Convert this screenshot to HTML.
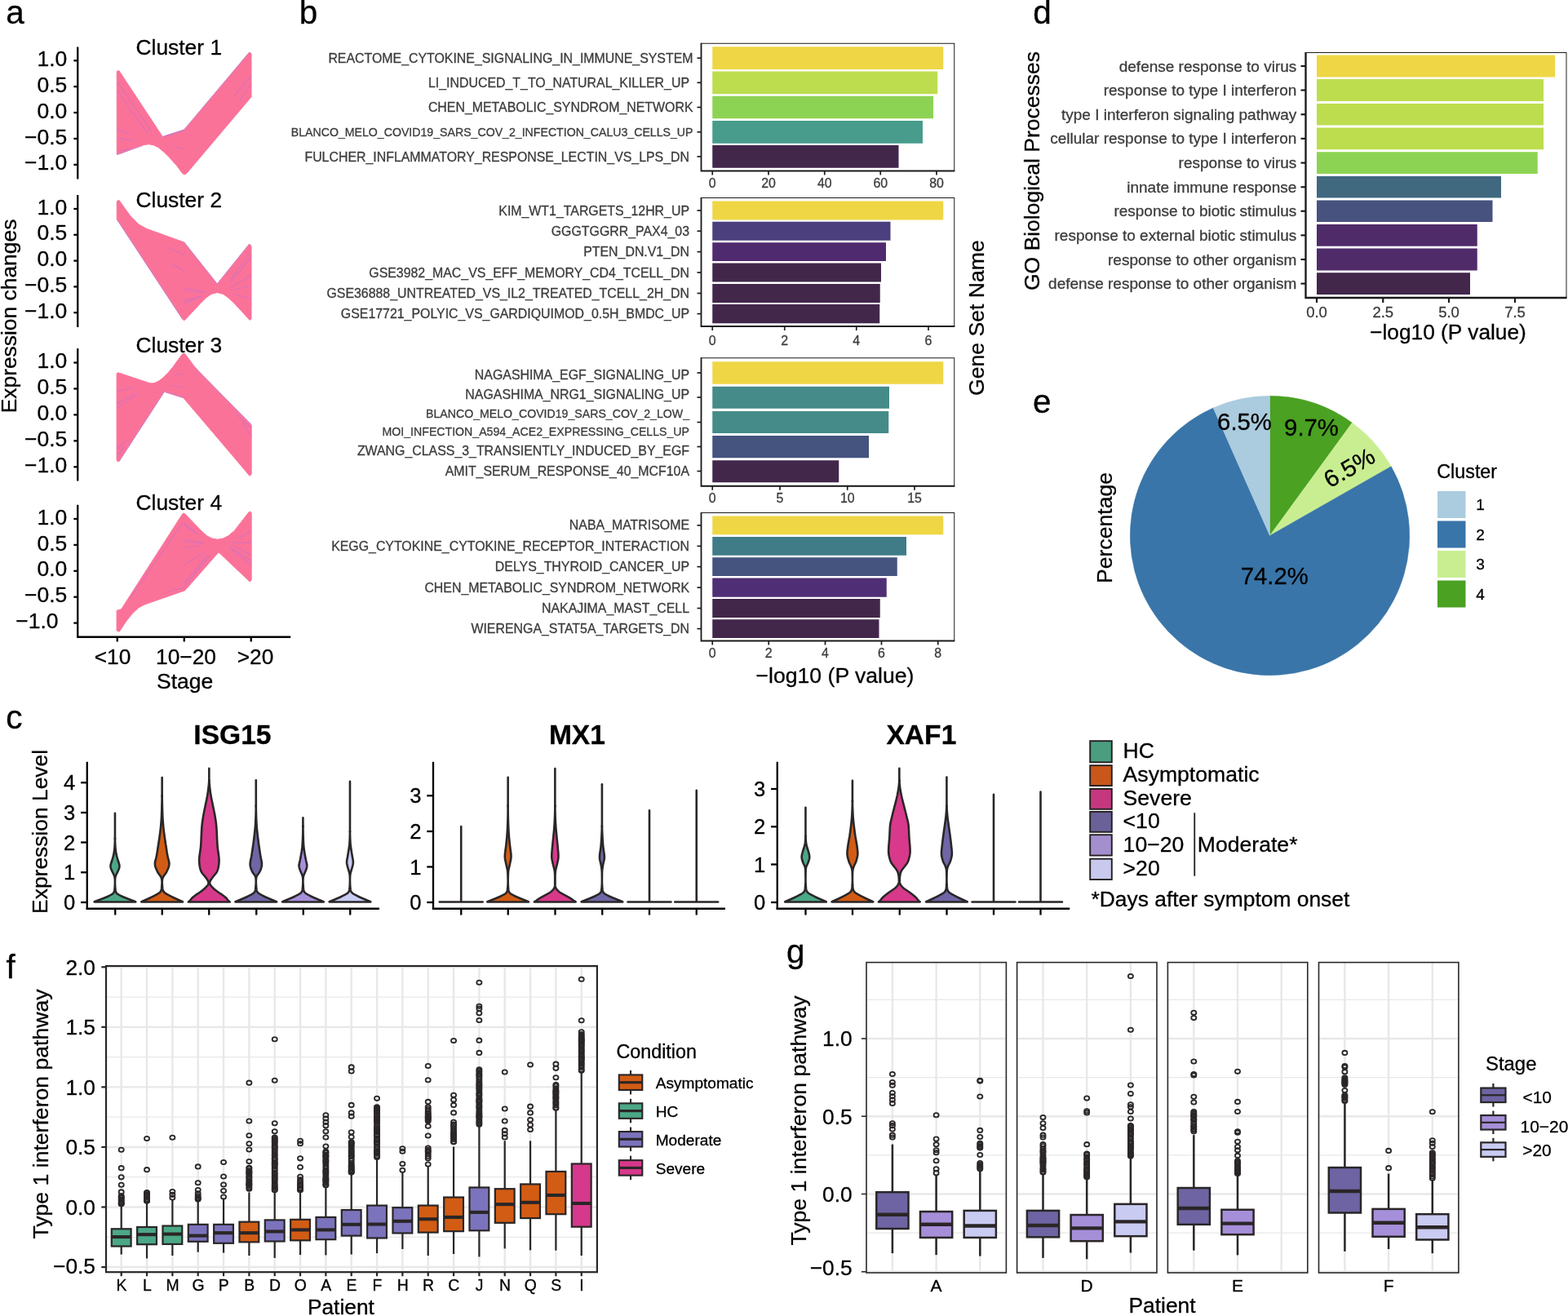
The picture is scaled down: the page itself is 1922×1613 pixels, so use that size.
<!DOCTYPE html>
<html lang="en">
<head>
<meta charset="utf-8">
<title>Figure: expression clusters, gene set enrichment and type 1 interferon pathway</title>
<style>
html,body{margin:0;padding:0;background:#fff;}
body{width:1922px;height:1613px;overflow:hidden;}
svg{display:block;font-family:"Liberation Sans",sans-serif;}
text{stroke:#000;stroke-width:0.3px;stroke-linejoin:round;}
text[fill="#3c3c3c"]{stroke:#3c3c3c;}
</style>
</head>
<body>
<svg width="1922" height="1613" viewBox="0 0 1922 1613">
<rect width="1922" height="1613" fill="#fff"/>
<g id="panel-a">
<text x="7.3" y="29.2" font-size="40.5">a</text>
<text x="19.8" y="387.5" font-size="26.4" text-anchor="middle" transform="rotate(-90 19.8 387.5)">Expression changes</text>
<line x1="95.25" y1="57.5" x2="95.25" y2="219.5" stroke="#000" stroke-width="2.3"/>
<line x1="90.35" y1="74.25" x2="95.25" y2="74.25" stroke="#000" stroke-width="2.3"/>
<text x="82.3" y="80.85" font-size="26.5" text-anchor="end">1.0</text>
<line x1="90.35" y1="106.15" x2="95.25" y2="106.15" stroke="#000" stroke-width="2.3"/>
<text x="82.3" y="112.75" font-size="26.5" text-anchor="end">0.5</text>
<line x1="90.35" y1="138.05" x2="95.25" y2="138.05" stroke="#000" stroke-width="2.3"/>
<text x="82.3" y="144.65" font-size="26.5" text-anchor="end">0.0</text>
<line x1="90.35" y1="169.95" x2="95.25" y2="169.95" stroke="#000" stroke-width="2.3"/>
<text x="82.3" y="176.55" font-size="26.5" text-anchor="end">−0.5</text>
<line x1="90.35" y1="201.85" x2="95.25" y2="201.85" stroke="#000" stroke-width="2.3"/>
<text x="82.3" y="208.45" font-size="26.5" text-anchor="end">−1.0</text>
<text x="219.3" y="66.5" font-size="26.4" text-anchor="middle">Cluster 1</text>
<line x1="95.25" y1="239" x2="95.25" y2="401" stroke="#000" stroke-width="2.3"/>
<line x1="90.35" y1="256" x2="95.25" y2="256" stroke="#000" stroke-width="2.3"/>
<text x="82.3" y="262.6" font-size="26.5" text-anchor="end">1.0</text>
<line x1="90.35" y1="287.8" x2="95.25" y2="287.8" stroke="#000" stroke-width="2.3"/>
<text x="82.3" y="294.4" font-size="26.5" text-anchor="end">0.5</text>
<line x1="90.35" y1="319.6" x2="95.25" y2="319.6" stroke="#000" stroke-width="2.3"/>
<text x="82.3" y="326.2" font-size="26.5" text-anchor="end">0.0</text>
<line x1="90.35" y1="351.4" x2="95.25" y2="351.4" stroke="#000" stroke-width="2.3"/>
<text x="82.3" y="358" font-size="26.5" text-anchor="end">−0.5</text>
<line x1="90.35" y1="383.2" x2="95.25" y2="383.2" stroke="#000" stroke-width="2.3"/>
<text x="82.3" y="389.8" font-size="26.5" text-anchor="end">−1.0</text>
<text x="219.3" y="253.5" font-size="26.4" text-anchor="middle">Cluster 2</text>
<line x1="95.25" y1="427" x2="95.25" y2="589.5" stroke="#000" stroke-width="2.3"/>
<line x1="90.35" y1="444.5" x2="95.25" y2="444.5" stroke="#000" stroke-width="2.3"/>
<text x="82.3" y="451.1" font-size="26.5" text-anchor="end">1.0</text>
<line x1="90.35" y1="476.45" x2="95.25" y2="476.45" stroke="#000" stroke-width="2.3"/>
<text x="82.3" y="483.05" font-size="26.5" text-anchor="end">0.5</text>
<line x1="90.35" y1="508.4" x2="95.25" y2="508.4" stroke="#000" stroke-width="2.3"/>
<text x="82.3" y="515" font-size="26.5" text-anchor="end">0.0</text>
<line x1="90.35" y1="540.35" x2="95.25" y2="540.35" stroke="#000" stroke-width="2.3"/>
<text x="82.3" y="546.95" font-size="26.5" text-anchor="end">−0.5</text>
<line x1="90.35" y1="572.3" x2="95.25" y2="572.3" stroke="#000" stroke-width="2.3"/>
<text x="82.3" y="578.9" font-size="26.5" text-anchor="end">−1.0</text>
<text x="219.3" y="431.5" font-size="26.4" text-anchor="middle">Cluster 3</text>
<line x1="95.25" y1="618.75" x2="95.25" y2="780.75" stroke="#000" stroke-width="2.3"/>
<line x1="90.35" y1="636" x2="95.25" y2="636" stroke="#000" stroke-width="2.3"/>
<text x="82.3" y="642.6" font-size="26.5" text-anchor="end">1.0</text>
<line x1="90.35" y1="667.9" x2="95.25" y2="667.9" stroke="#000" stroke-width="2.3"/>
<text x="82.3" y="674.5" font-size="26.5" text-anchor="end">0.5</text>
<line x1="90.35" y1="699.8" x2="95.25" y2="699.8" stroke="#000" stroke-width="2.3"/>
<text x="82.3" y="706.4" font-size="26.5" text-anchor="end">0.0</text>
<line x1="90.35" y1="731.7" x2="95.25" y2="731.7" stroke="#000" stroke-width="2.3"/>
<text x="82.3" y="738.3" font-size="26.5" text-anchor="end">−0.5</text>
<line x1="90.35" y1="763.6" x2="95.25" y2="763.6" stroke="#000" stroke-width="2.3"/>
<text x="71.6" y="770.2" font-size="26.5" text-anchor="end">−1.0</text>
<text x="219.3" y="625" font-size="26.4" text-anchor="middle">Cluster 4</text>
<line x1="94.1" y1="780.75" x2="356.25" y2="780.75" stroke="#000" stroke-width="2.3"/>
<line x1="143.75" y1="780.75" x2="143.75" y2="786.5" stroke="#000" stroke-width="2.3"/>
<line x1="225.75" y1="780.75" x2="225.75" y2="786.5" stroke="#000" stroke-width="2.3"/>
<line x1="307.75" y1="780.75" x2="307.75" y2="786.5" stroke="#000" stroke-width="2.3"/>
<text x="138" y="813.9" font-size="26.3" text-anchor="middle">&lt;10</text>
<text x="228" y="813.9" font-size="26.3" text-anchor="middle">10−20</text>
<text x="313" y="813.9" font-size="26.3" text-anchor="middle">&gt;20</text>
<text x="226.7" y="844.2" font-size="26.5" text-anchor="middle">Stage</text>
<g fill="#fb7299" stroke="#fb7299" stroke-width="1" stroke-linejoin="round">
<polygon points="143.25,87.5 145.75,86.5 199.25,167.5 225.75,159 305.5,64.25 308,65.5 308,118.75 228.75,212.5 225.75,214 223.25,212 217.25,203.75 211.5,197.25 206,191.25 200,185.5 194.25,180.75 188.75,178 183,176.75 178,177.25 172.5,178.75 146.25,188.75 143.25,189.25"/>
<polygon points="143.25,246.75 145.75,245.25 160,265 170,275 180,280.5 225.75,297 266.25,348 305.5,299.25 308,301.25 308,390.5 306.25,392.5 287.5,372 280,365 273.75,360.5 266.25,358.5 258.75,360.5 252.5,365 245,372.5 227.5,391.25 225.75,392.75 223.75,391.25 143.25,268.75"/>
<polygon points="143.08,457.83 144.96,456.83 174.93,466.82 182.42,469.32 186.16,469.94 189.91,469.32 194.91,466.82 199.9,463.07 206.14,456.83 212.39,449.34 218.63,440.59 223.63,433.98 225.25,432.98 226.87,433.98 232.37,441.22 237.36,448.09 243.61,454.96 307.29,519.89 308.17,521.14 308.17,581.33 306.04,583.33 287.31,561.1 224.88,487.67 201.4,480.18 145.58,565.84 143.08,564.6"/>
<polygon points="143.08,748.35 148.7,746.73 223.63,629.97 225.25,628.97 226.87,629.97 247.35,651.2 253.6,656.82 259.84,659.94 266.71,661.19 273.58,659.94 279.82,656.82 287.31,650.57 304.8,628.1 306.04,626.85 308.17,628.47 308.17,710.51 306.29,713.01 267.96,676.8 226.75,723.63 177.42,740.86 169.93,744.86 162.44,751.72 154.95,761.09 146.2,774.2 143.08,772.95"/>
</g>
<g stroke="#d070c0" stroke-width="1.2" opacity="0.75" fill="none">
<polyline points="143.75,100 185,160"/>
<polyline points="143.75,111.25 180,162.5"/>
<polyline points="143.75,158 160,165"/>
<polyline points="143.75,168.75 162.5,172.5"/>
<polyline points="143.75,186.25 160,181.25"/>
<polyline points="202.5,167.5 225.75,160"/>
<polyline points="212.5,179.5 225.75,182.5"/>
<polyline points="287.5,117.5 308,92.5"/>
<polyline points="292.5,125 308,102.5"/>
<polyline points="225.75,352.5 250,357.5"/>
<polyline points="225.75,355.5 252.5,359"/>
<polyline points="225.75,370.5 245,363"/>
<polyline points="225.75,372.5 247.5,362.5"/>
<polyline points="225.75,367 240,365.5"/>
<polyline points="308,307.5 282.5,342.5"/>
<polyline points="308,315 282.5,346.25"/>
<polyline points="308,337.5 282.5,352.5"/>
<polyline points="308,366.25 285,360"/>
<polyline points="308,350 287.5,355"/>
<polyline points="205,302.5 225.75,312.5"/>
<polyline points="210,322.5 225.75,332.5"/>
<polyline points="143.75,500 170,482.5"/>
<polyline points="143.75,495 165,482.5"/>
<polyline points="143.75,480 162.5,475"/>
<polyline points="143.75,550 155,540"/>
<polyline points="143.75,557.5 152.5,547.5"/>
<polyline points="308,525 290,507.5"/>
<polyline points="308,535 297.5,517.5"/>
<polyline points="212.5,460 225.75,458"/>
<polyline points="210,472.5 225.75,475"/>
<polyline points="225.75,641.25 240,652.5"/>
<polyline points="225.75,643.75 242.5,655"/>
<polyline points="225.75,661.25 250,665"/>
<polyline points="225.75,663.75 250,666.5"/>
<polyline points="225.75,671.25 247.5,668"/>
<polyline points="225.75,692.5 250,677.5"/>
<polyline points="225.75,715 255,680"/>
<polyline points="225.75,718.75 257.5,681.25"/>
<polyline points="205,725 225.75,720.5"/>
<polyline points="308,687.5 282.5,671.25"/>
<polyline points="308,692.5 282.5,673"/>
<polyline points="308,680 285,668.75"/>
<polyline points="308,665 285,665"/>
<polyline points="308,650 292.5,660"/>
<polyline points="160,732.5 223.75,641.25"/>
</g>
<g stroke="#a98be0" stroke-width="0.8" fill="none" opacity="0.8">
<polyline points="199.25,167.5 225.75,159 305.5,64.25"/>
<polyline points="143.25,189.25 175,178.75"/>
<polyline points="225.75,297 266.25,348 305.5,299.25"/>
<polyline points="143.25,268.75 223.75,391.25"/>
<polyline points="146.25,565.5 201.25,480 225.75,487.5"/>
<polyline points="240,452.5 308,520"/>
</g>
</g>
<g id="panel-b">
<text x="366.7" y="29.2" font-size="40.5">b</text>
<rect x="873.25" y="57.25" width="283" height="27.75" fill="#efd645"/>
<rect x="873.25" y="87.5" width="276" height="27.75" fill="#bddd4f"/>
<rect x="873.25" y="117.75" width="270.75" height="27.5" fill="#8dd353"/>
<rect x="873.25" y="148" width="257.75" height="27.75" fill="#479c8b"/>
<rect x="873.25" y="178" width="228.25" height="27.75" fill="#42274b"/>
<rect x="859.5" y="53.25" width="310.25" height="156.25" fill="none" stroke="#1a1a1a" stroke-width="1"/>
<path d="M859.5,52.75 L859.5,209.5 L1170.25,209.5" fill="none" stroke="#1a1a1a" stroke-width="1.82"/>
<line x1="873.25" y1="209.5" x2="873.25" y2="214.5" stroke="#1a1a1a" stroke-width="1.68"/>
<text x="873.25" y="230" font-size="15.9" text-anchor="middle" fill="#3c3c3c">0</text>
<line x1="942" y1="209.5" x2="942" y2="214.5" stroke="#1a1a1a" stroke-width="1.68"/>
<text x="942" y="230" font-size="15.9" text-anchor="middle" fill="#3c3c3c">20</text>
<line x1="1010.75" y1="209.5" x2="1010.75" y2="214.5" stroke="#1a1a1a" stroke-width="1.68"/>
<text x="1010.75" y="230" font-size="15.9" text-anchor="middle" fill="#3c3c3c">40</text>
<line x1="1079.25" y1="209.5" x2="1079.25" y2="214.5" stroke="#1a1a1a" stroke-width="1.68"/>
<text x="1079.25" y="230" font-size="15.9" text-anchor="middle" fill="#3c3c3c">60</text>
<line x1="1148" y1="209.5" x2="1148" y2="214.5" stroke="#1a1a1a" stroke-width="1.68"/>
<text x="1148" y="230" font-size="15.9" text-anchor="middle" fill="#3c3c3c">80</text>
<line x1="854.5" y1="71.2" x2="859.5" y2="71.2" stroke="#1a1a1a" stroke-width="1.68"/>
<text x="849.5" y="76.8" font-size="15.9" text-anchor="end" fill="#3c3c3c">REACTOME_CYTOKINE_SIGNALING_IN_IMMUNE_SYSTEM</text>
<line x1="854.5" y1="101.3" x2="859.5" y2="101.3" stroke="#1a1a1a" stroke-width="1.68"/>
<text x="845" y="106.9" font-size="15.9" text-anchor="end" fill="#3c3c3c">LI_INDUCED_T_TO_NATURAL_KILLER_UP</text>
<line x1="854.5" y1="131.5" x2="859.5" y2="131.5" stroke="#1a1a1a" stroke-width="1.68"/>
<text x="849.5" y="137.1" font-size="15.9" text-anchor="end" fill="#3c3c3c">CHEN_METABOLIC_SYNDROM_NETWORK</text>
<line x1="854.5" y1="161.8" x2="859.5" y2="161.8" stroke="#1a1a1a" stroke-width="1.68"/>
<text x="849.5" y="166.78" font-size="14.15" text-anchor="end" fill="#3c3c3c">BLANCO_MELO_COVID19_SARS_COV_2_INFECTION_CALU3_CELLS_UP</text>
<line x1="854.5" y1="191.9" x2="859.5" y2="191.9" stroke="#1a1a1a" stroke-width="1.68"/>
<text x="845" y="197.5" font-size="15.9" text-anchor="end" fill="#3c3c3c">FULCHER_INFLAMMATORY_RESPONSE_LECTIN_VS_LPS_DN</text>
<rect x="873.25" y="246.5" width="283" height="23" fill="#efd645"/>
<rect x="873.25" y="271.75" width="218.25" height="23" fill="#4c3f7e"/>
<rect x="873.25" y="297.25" width="212.75" height="22.75" fill="#502a6f"/>
<rect x="873.25" y="322.5" width="206.75" height="23" fill="#42274b"/>
<rect x="873.25" y="348" width="205.5" height="23" fill="#42274b"/>
<rect x="873.25" y="373" width="205" height="23.25" fill="#42274b"/>
<rect x="859.5" y="242.5" width="310.25" height="157.5" fill="none" stroke="#1a1a1a" stroke-width="1"/>
<path d="M859.5,242 L859.5,400 L1170.25,400" fill="none" stroke="#1a1a1a" stroke-width="1.82"/>
<line x1="873.25" y1="400" x2="873.25" y2="405" stroke="#1a1a1a" stroke-width="1.68"/>
<text x="873.25" y="422.5" font-size="15.9" text-anchor="middle" fill="#3c3c3c">0</text>
<line x1="961.75" y1="400" x2="961.75" y2="405" stroke="#1a1a1a" stroke-width="1.68"/>
<text x="961.75" y="422.5" font-size="15.9" text-anchor="middle" fill="#3c3c3c">2</text>
<line x1="1049.75" y1="400" x2="1049.75" y2="405" stroke="#1a1a1a" stroke-width="1.68"/>
<text x="1049.75" y="422.5" font-size="15.9" text-anchor="middle" fill="#3c3c3c">4</text>
<line x1="1138" y1="400" x2="1138" y2="405" stroke="#1a1a1a" stroke-width="1.68"/>
<text x="1138" y="422.5" font-size="15.9" text-anchor="middle" fill="#3c3c3c">6</text>
<line x1="854.5" y1="258" x2="859.5" y2="258" stroke="#1a1a1a" stroke-width="1.68"/>
<text x="845" y="263.6" font-size="15.9" text-anchor="end" fill="#3c3c3c">KIM_WT1_TARGETS_12HR_UP</text>
<line x1="854.5" y1="283.25" x2="859.5" y2="283.25" stroke="#1a1a1a" stroke-width="1.68"/>
<text x="845" y="288.85" font-size="15.9" text-anchor="end" fill="#3c3c3c">GGGTGGRR_PAX4_03</text>
<line x1="854.5" y1="308.62" x2="859.5" y2="308.62" stroke="#1a1a1a" stroke-width="1.68"/>
<text x="845" y="314.23" font-size="15.9" text-anchor="end" fill="#3c3c3c">PTEN_DN.V1_DN</text>
<line x1="854.5" y1="334" x2="859.5" y2="334" stroke="#1a1a1a" stroke-width="1.68"/>
<text x="845" y="339.6" font-size="15.9" text-anchor="end" fill="#3c3c3c">GSE3982_MAC_VS_EFF_MEMORY_CD4_TCELL_DN</text>
<line x1="854.5" y1="359.5" x2="859.5" y2="359.5" stroke="#1a1a1a" stroke-width="1.68"/>
<text x="845" y="365.1" font-size="15.9" text-anchor="end" fill="#3c3c3c">GSE36888_UNTREATED_VS_IL2_TREATED_TCELL_2H_DN</text>
<line x1="854.5" y1="384.62" x2="859.5" y2="384.62" stroke="#1a1a1a" stroke-width="1.68"/>
<text x="845" y="390.23" font-size="15.9" text-anchor="end" fill="#3c3c3c">GSE17721_POLYIC_VS_GARDIQUIMOD_0.5H_BMDC_UP</text>
<rect x="873.25" y="443.25" width="283" height="27.5" fill="#efd645"/>
<rect x="873.25" y="473.75" width="216.75" height="27" fill="#458b89"/>
<rect x="873.25" y="504" width="216" height="27" fill="#458b89"/>
<rect x="873.25" y="534" width="191.75" height="27.25" fill="#45537f"/>
<rect x="873.25" y="564.25" width="155" height="27" fill="#42274b"/>
<rect x="859.5" y="438.75" width="310.25" height="157" fill="none" stroke="#1a1a1a" stroke-width="1"/>
<path d="M859.5,438.25 L859.5,595.75 L1170.25,595.75" fill="none" stroke="#1a1a1a" stroke-width="1.82"/>
<line x1="873.25" y1="595.75" x2="873.25" y2="600.75" stroke="#1a1a1a" stroke-width="1.68"/>
<text x="873.25" y="615.75" font-size="15.9" text-anchor="middle" fill="#3c3c3c">0</text>
<line x1="956" y1="595.75" x2="956" y2="600.75" stroke="#1a1a1a" stroke-width="1.68"/>
<text x="956" y="615.75" font-size="15.9" text-anchor="middle" fill="#3c3c3c">5</text>
<line x1="1038.75" y1="595.75" x2="1038.75" y2="600.75" stroke="#1a1a1a" stroke-width="1.68"/>
<text x="1038.75" y="615.75" font-size="15.9" text-anchor="middle" fill="#3c3c3c">10</text>
<line x1="1121" y1="595.75" x2="1121" y2="600.75" stroke="#1a1a1a" stroke-width="1.68"/>
<text x="1121" y="615.75" font-size="15.9" text-anchor="middle" fill="#3c3c3c">15</text>
<line x1="854.5" y1="457" x2="859.5" y2="457" stroke="#1a1a1a" stroke-width="1.68"/>
<text x="845" y="464.5" font-size="15.9" text-anchor="end" fill="#3c3c3c">NAGASHIMA_EGF_SIGNALING_UP</text>
<line x1="854.5" y1="487" x2="859.5" y2="487" stroke="#1a1a1a" stroke-width="1.68"/>
<text x="845" y="489.1" font-size="15.9" text-anchor="end" fill="#3c3c3c">NAGASHIMA_NRG1_SIGNALING_UP</text>
<line x1="854.5" y1="517.5" x2="859.5" y2="517.5" stroke="#1a1a1a" stroke-width="1.68"/>
<text x="845" y="511.68" font-size="14.15" text-anchor="end" fill="#3c3c3c">BLANCO_MELO_COVID19_SARS_COV_2_LOW_</text>
<text x="845" y="534.18" font-size="14.15" text-anchor="end" fill="#3c3c3c">MOI_INFECTION_A594_ACE2_EXPRESSING_CELLS_UP</text>
<line x1="854.5" y1="547.5" x2="859.5" y2="547.5" stroke="#1a1a1a" stroke-width="1.68"/>
<text x="845" y="557.9" font-size="15.9" text-anchor="end" fill="#3c3c3c">ZWANG_CLASS_3_TRANSIENTLY_INDUCED_BY_EGF</text>
<line x1="854.5" y1="577.5" x2="859.5" y2="577.5" stroke="#1a1a1a" stroke-width="1.68"/>
<text x="845" y="582.8" font-size="15.9" text-anchor="end" fill="#3c3c3c">AMIT_SERUM_RESPONSE_40_MCF10A</text>
<rect x="873.25" y="632.5" width="283" height="22.75" fill="#efd645"/>
<rect x="873.25" y="658" width="237.75" height="22.75" fill="#3f7c88"/>
<rect x="873.25" y="683.25" width="226.5" height="22.75" fill="#45537f"/>
<rect x="873.25" y="708.5" width="213.5" height="23.25" fill="#502e75"/>
<rect x="873.25" y="734" width="205.5" height="23" fill="#42274b"/>
<rect x="873.25" y="759.25" width="204.25" height="22.75" fill="#42274b"/>
<rect x="859.5" y="628.5" width="310.25" height="157" fill="none" stroke="#1a1a1a" stroke-width="1"/>
<path d="M859.5,628 L859.5,785.5 L1170.25,785.5" fill="none" stroke="#1a1a1a" stroke-width="1.82"/>
<line x1="873.25" y1="785.5" x2="873.25" y2="790.5" stroke="#1a1a1a" stroke-width="1.68"/>
<text x="873.25" y="805.5" font-size="15.9" text-anchor="middle" fill="#3c3c3c">0</text>
<line x1="942.25" y1="785.5" x2="942.25" y2="790.5" stroke="#1a1a1a" stroke-width="1.68"/>
<text x="942.25" y="805.5" font-size="15.9" text-anchor="middle" fill="#3c3c3c">2</text>
<line x1="1011.5" y1="785.5" x2="1011.5" y2="790.5" stroke="#1a1a1a" stroke-width="1.68"/>
<text x="1011.5" y="805.5" font-size="15.9" text-anchor="middle" fill="#3c3c3c">4</text>
<line x1="1080.5" y1="785.5" x2="1080.5" y2="790.5" stroke="#1a1a1a" stroke-width="1.68"/>
<text x="1080.5" y="805.5" font-size="15.9" text-anchor="middle" fill="#3c3c3c">6</text>
<line x1="1149.75" y1="785.5" x2="1149.75" y2="790.5" stroke="#1a1a1a" stroke-width="1.68"/>
<text x="1149.75" y="805.5" font-size="15.9" text-anchor="middle" fill="#3c3c3c">8</text>
<line x1="854.5" y1="643.88" x2="859.5" y2="643.88" stroke="#1a1a1a" stroke-width="1.68"/>
<text x="845" y="649.48" font-size="15.9" text-anchor="end" fill="#3c3c3c">NABA_MATRISOME</text>
<line x1="854.5" y1="669.38" x2="859.5" y2="669.38" stroke="#1a1a1a" stroke-width="1.68"/>
<text x="845" y="674.98" font-size="15.9" text-anchor="end" fill="#3c3c3c">KEGG_CYTOKINE_CYTOKINE_RECEPTOR_INTERACTION</text>
<line x1="854.5" y1="694.62" x2="859.5" y2="694.62" stroke="#1a1a1a" stroke-width="1.68"/>
<text x="845" y="700.23" font-size="15.9" text-anchor="end" fill="#3c3c3c">DELYS_THYROID_CANCER_UP</text>
<line x1="854.5" y1="720.12" x2="859.5" y2="720.12" stroke="#1a1a1a" stroke-width="1.68"/>
<text x="845" y="725.73" font-size="15.9" text-anchor="end" fill="#3c3c3c">CHEN_METABOLIC_SYNDROM_NETWORK</text>
<line x1="854.5" y1="745.5" x2="859.5" y2="745.5" stroke="#1a1a1a" stroke-width="1.68"/>
<text x="845" y="751.1" font-size="15.9" text-anchor="end" fill="#3c3c3c">NAKAJIMA_MAST_CELL</text>
<line x1="854.5" y1="770.62" x2="859.5" y2="770.62" stroke="#1a1a1a" stroke-width="1.68"/>
<text x="845" y="776.23" font-size="15.9" text-anchor="end" fill="#3c3c3c">WIERENGA_STAT5A_TARGETS_DN</text>
<text x="1023.5" y="837.2" font-size="26.6" text-anchor="middle">−log10 (P value)</text>
<text x="1206.5" y="389.6" font-size="26.6" text-anchor="middle" transform="rotate(-90 1206.5 389.6)">Gene Set Name</text>
</g>
<g id="panel-d">
<text x="1266.2" y="29.2" font-size="40.5">d</text>
<text x="1274.3" y="209.5" font-size="26.5" text-anchor="middle" transform="rotate(-90 1274.3 209.5)">GO Biological Processes</text>
<rect x="1614" y="67.5" width="292" height="27" fill="#efd645"/>
<rect x="1614" y="97" width="278" height="27" fill="#bddd4f"/>
<rect x="1614" y="127" width="278" height="26.5" fill="#bddd4f"/>
<rect x="1614" y="156.5" width="278" height="26.75" fill="#bddd4f"/>
<rect x="1614" y="186.25" width="270.75" height="26.75" fill="#8dd353"/>
<rect x="1614" y="216" width="226" height="26.5" fill="#40687f"/>
<rect x="1614" y="245.5" width="215.5" height="26.5" fill="#48527f"/>
<rect x="1614" y="275" width="196.75" height="26.75" fill="#4f2b6a"/>
<rect x="1614" y="304.5" width="196.75" height="27" fill="#4f2b6a"/>
<rect x="1614" y="334.25" width="188" height="26.75" fill="#42274b"/>
<rect x="1600.5" y="64.5" width="319.5" height="300.5" fill="none" stroke="#1a1a1a" stroke-width="1"/>
<path d="M1600.5,64 L1600.5,365 L1920.5,365" fill="none" stroke="#1a1a1a" stroke-width="2.34"/>
<line x1="1614" y1="365" x2="1614" y2="371" stroke="#1a1a1a" stroke-width="2.16"/>
<text x="1614" y="388.75" font-size="18.5" text-anchor="middle" fill="#3c3c3c">0.0</text>
<line x1="1695.25" y1="365" x2="1695.25" y2="371" stroke="#1a1a1a" stroke-width="2.16"/>
<text x="1695.25" y="388.75" font-size="18.5" text-anchor="middle" fill="#3c3c3c">2.5</text>
<line x1="1776" y1="365" x2="1776" y2="371" stroke="#1a1a1a" stroke-width="2.16"/>
<text x="1776" y="388.75" font-size="18.5" text-anchor="middle" fill="#3c3c3c">5.0</text>
<line x1="1857" y1="365" x2="1857" y2="371" stroke="#1a1a1a" stroke-width="2.16"/>
<text x="1857" y="388.75" font-size="18.5" text-anchor="middle" fill="#3c3c3c">7.5</text>
<line x1="1594.5" y1="81" x2="1600.5" y2="81" stroke="#1a1a1a" stroke-width="2.16"/>
<text x="1589.3" y="87.6" font-size="19" text-anchor="end" fill="#3c3c3c">defense response to virus</text>
<line x1="1594.5" y1="110.5" x2="1600.5" y2="110.5" stroke="#1a1a1a" stroke-width="2.16"/>
<text x="1589.3" y="117.1" font-size="19" text-anchor="end" fill="#3c3c3c">response to type I interferon</text>
<line x1="1594.5" y1="140.25" x2="1600.5" y2="140.25" stroke="#1a1a1a" stroke-width="2.16"/>
<text x="1589.3" y="146.85" font-size="19" text-anchor="end" fill="#3c3c3c">type I interferon signaling pathway</text>
<line x1="1594.5" y1="169.88" x2="1600.5" y2="169.88" stroke="#1a1a1a" stroke-width="2.16"/>
<text x="1589.3" y="176.47" font-size="19" text-anchor="end" fill="#3c3c3c">cellular response to type I interferon</text>
<line x1="1594.5" y1="199.62" x2="1600.5" y2="199.62" stroke="#1a1a1a" stroke-width="2.16"/>
<text x="1589.3" y="206.22" font-size="19" text-anchor="end" fill="#3c3c3c">response to virus</text>
<line x1="1594.5" y1="229.25" x2="1600.5" y2="229.25" stroke="#1a1a1a" stroke-width="2.16"/>
<text x="1589.3" y="235.85" font-size="19" text-anchor="end" fill="#3c3c3c">innate immune response</text>
<line x1="1594.5" y1="258.75" x2="1600.5" y2="258.75" stroke="#1a1a1a" stroke-width="2.16"/>
<text x="1589.3" y="265.35" font-size="19" text-anchor="end" fill="#3c3c3c">response to biotic stimulus</text>
<line x1="1594.5" y1="288.38" x2="1600.5" y2="288.38" stroke="#1a1a1a" stroke-width="2.16"/>
<text x="1589.3" y="294.98" font-size="19" text-anchor="end" fill="#3c3c3c">response to external biotic stimulus</text>
<line x1="1594.5" y1="318" x2="1600.5" y2="318" stroke="#1a1a1a" stroke-width="2.16"/>
<text x="1589.3" y="324.6" font-size="19" text-anchor="end" fill="#3c3c3c">response to other organism</text>
<line x1="1594.5" y1="347.62" x2="1600.5" y2="347.62" stroke="#1a1a1a" stroke-width="2.16"/>
<text x="1589.3" y="354.23" font-size="19" text-anchor="end" fill="#3c3c3c">defense response to other organism</text>
<text x="1775" y="416.3" font-size="26.3" text-anchor="middle">−log10 (P value)</text>
</g>
<g id="panel-e">
<text x="1266.1" y="506" font-size="40.5">e</text>
<path d="M1556.5,656.5 L1556.5,485.3 A171.2,171.2 0 0 1 1657.37,518.17 Z" fill="#4aa122" stroke="#4aa122" stroke-width="0.5"/>
<path d="M1556.5,656.5 L1657.37,518.17 A171.2,171.2 0 0 1 1705.21,571.68 Z" fill="#c9ee92" stroke="#c9ee92" stroke-width="0.5"/>
<path d="M1556.5,656.5 L1705.21,571.68 A171.2,171.2 0 1 1 1487.14,499.98 Z" fill="#3975a8" stroke="#3975a8" stroke-width="0.5"/>
<path d="M1556.5,656.5 L1487.14,499.98 A171.2,171.2 0 0 1 1556.5,485.3 Z" fill="#abcbde" stroke="#abcbde" stroke-width="0.5"/>
<text x="1525.5" y="527" font-size="29.3" text-anchor="middle">6.5%</text>
<text x="1607.5" y="534" font-size="29.3" text-anchor="middle">9.7%</text>
<text x="1659" y="582" font-size="29.3" text-anchor="middle" transform="rotate(-30 1659 582)">6.5%</text>
<text x="1562.3" y="716" font-size="29.3" text-anchor="middle">74.2%</text>
<text x="1363.3" y="647" font-size="26.6" text-anchor="middle" transform="rotate(-90 1363.3 647)">Percentage</text>
<text x="1761.3" y="586" font-size="23.3">Cluster</text>
<rect x="1762" y="602" width="34.5" height="33" fill="#abcbde"/>
<text x="1809.3" y="625.3" font-size="19.1">1</text>
<rect x="1762" y="638.5" width="34.5" height="33" fill="#3975a8"/>
<text x="1809.3" y="661.8" font-size="19.1">2</text>
<rect x="1762" y="675" width="34.5" height="33" fill="#c9ee92"/>
<text x="1809.3" y="698.3" font-size="19.1">3</text>
<rect x="1762" y="711.5" width="34.5" height="33" fill="#4aa122"/>
<text x="1809.3" y="734.8" font-size="19.1">4</text>
</g>
<g id="panel-c">
<text x="7.3" y="892.8" font-size="40.5">c</text>
<text x="58.2" y="1019.4" font-size="26.4" text-anchor="middle" transform="rotate(-90 58.2 1019.4)">Expression Level</text>
<line x1="106.75" y1="933.75" x2="106.75" y2="1114.6" stroke="#000" stroke-width="2.3"/>
<line x1="105.6" y1="1113.75" x2="465" y2="1113.75" stroke="#000" stroke-width="2.3"/>
<line x1="99.05" y1="1106" x2="106.75" y2="1106" stroke="#000" stroke-width="2.3"/>
<text x="92.35" y="1115.2" font-size="25.6" text-anchor="end">0</text>
<line x1="99.05" y1="1069.25" x2="106.75" y2="1069.25" stroke="#000" stroke-width="2.3"/>
<text x="92.35" y="1078.45" font-size="25.6" text-anchor="end">1</text>
<line x1="99.05" y1="1032.5" x2="106.75" y2="1032.5" stroke="#000" stroke-width="2.3"/>
<text x="92.35" y="1041.7" font-size="25.6" text-anchor="end">2</text>
<line x1="99.05" y1="996" x2="106.75" y2="996" stroke="#000" stroke-width="2.3"/>
<text x="92.35" y="1005.2" font-size="25.6" text-anchor="end">3</text>
<line x1="99.05" y1="959.25" x2="106.75" y2="959.25" stroke="#000" stroke-width="2.3"/>
<text x="92.35" y="968.45" font-size="25.6" text-anchor="end">4</text>
<line x1="141.25" y1="1113.75" x2="141.25" y2="1121.5" stroke="#000" stroke-width="2.3"/>
<line x1="198.75" y1="1113.75" x2="198.75" y2="1121.5" stroke="#000" stroke-width="2.3"/>
<line x1="256.25" y1="1113.75" x2="256.25" y2="1121.5" stroke="#000" stroke-width="2.3"/>
<line x1="314.25" y1="1113.75" x2="314.25" y2="1121.5" stroke="#000" stroke-width="2.3"/>
<line x1="371.75" y1="1113.75" x2="371.75" y2="1121.5" stroke="#000" stroke-width="2.3"/>
<line x1="429.25" y1="1113.75" x2="429.25" y2="1121.5" stroke="#000" stroke-width="2.3"/>
<text x="284.9" y="911.7" font-size="33.6" text-anchor="middle" font-weight="bold">ISG15</text>
<line x1="531" y1="933.75" x2="531" y2="1114.6" stroke="#000" stroke-width="2.3"/>
<line x1="529.85" y1="1113.75" x2="889" y2="1113.75" stroke="#000" stroke-width="2.3"/>
<line x1="523.3" y1="1106" x2="531" y2="1106" stroke="#000" stroke-width="2.3"/>
<text x="516.6" y="1115.2" font-size="25.6" text-anchor="end">0</text>
<line x1="523.3" y1="1062.5" x2="531" y2="1062.5" stroke="#000" stroke-width="2.3"/>
<text x="516.6" y="1071.7" font-size="25.6" text-anchor="end">1</text>
<line x1="523.3" y1="1019" x2="531" y2="1019" stroke="#000" stroke-width="2.3"/>
<text x="516.6" y="1028.2" font-size="25.6" text-anchor="end">2</text>
<line x1="523.3" y1="975.25" x2="531" y2="975.25" stroke="#000" stroke-width="2.3"/>
<text x="516.6" y="984.45" font-size="25.6" text-anchor="end">3</text>
<line x1="565.25" y1="1113.75" x2="565.25" y2="1121.5" stroke="#000" stroke-width="2.3"/>
<line x1="622.75" y1="1113.75" x2="622.75" y2="1121.5" stroke="#000" stroke-width="2.3"/>
<line x1="680.5" y1="1113.75" x2="680.5" y2="1121.5" stroke="#000" stroke-width="2.3"/>
<line x1="738.25" y1="1113.75" x2="738.25" y2="1121.5" stroke="#000" stroke-width="2.3"/>
<line x1="796" y1="1113.75" x2="796" y2="1121.5" stroke="#000" stroke-width="2.3"/>
<line x1="853.75" y1="1113.75" x2="853.75" y2="1121.5" stroke="#000" stroke-width="2.3"/>
<text x="707.4" y="911.7" font-size="33.6" text-anchor="middle" font-weight="bold">MX1</text>
<line x1="952.75" y1="933.75" x2="952.75" y2="1114.6" stroke="#000" stroke-width="2.3"/>
<line x1="951.6" y1="1113.75" x2="1311.25" y2="1113.75" stroke="#000" stroke-width="2.3"/>
<line x1="945.05" y1="1106" x2="952.75" y2="1106" stroke="#000" stroke-width="2.3"/>
<text x="938.35" y="1115.2" font-size="25.6" text-anchor="end">0</text>
<line x1="945.05" y1="1059.5" x2="952.75" y2="1059.5" stroke="#000" stroke-width="2.3"/>
<text x="938.35" y="1068.7" font-size="25.6" text-anchor="end">1</text>
<line x1="945.05" y1="1013.25" x2="952.75" y2="1013.25" stroke="#000" stroke-width="2.3"/>
<text x="938.35" y="1022.45" font-size="25.6" text-anchor="end">2</text>
<line x1="945.05" y1="967" x2="952.75" y2="967" stroke="#000" stroke-width="2.3"/>
<text x="938.35" y="976.2" font-size="25.6" text-anchor="end">3</text>
<line x1="987.5" y1="1113.75" x2="987.5" y2="1121.5" stroke="#000" stroke-width="2.3"/>
<line x1="1045" y1="1113.75" x2="1045" y2="1121.5" stroke="#000" stroke-width="2.3"/>
<line x1="1102.75" y1="1113.75" x2="1102.75" y2="1121.5" stroke="#000" stroke-width="2.3"/>
<line x1="1160.5" y1="1113.75" x2="1160.5" y2="1121.5" stroke="#000" stroke-width="2.3"/>
<line x1="1218" y1="1113.75" x2="1218" y2="1121.5" stroke="#000" stroke-width="2.3"/>
<line x1="1275.5" y1="1113.75" x2="1275.5" y2="1121.5" stroke="#000" stroke-width="2.3"/>
<text x="1129.4" y="911.7" font-size="33.6" text-anchor="middle" font-weight="bold">XAF1</text>
<path d="M166.31,1105.44 L165.47,1104.95 L164.36,1104.45 L163.02,1103.95 L161.64,1103.45 L160.3,1102.95 L159,1102.45 L157.71,1101.95 L156.41,1101.45 L155.13,1100.95 L153.87,1100.45 L152.63,1099.95 L151.43,1099.45 L150.26,1098.95 L149.13,1098.45 L148.04,1097.95 L147.02,1097.45 L146.06,1096.95 L145.2,1096.45 L144.43,1095.95 L143.78,1095.45 L143.24,1094.96 L142.81,1094.46 L142.47,1093.96 L142.22,1093.46 L142.02,1092.96 L141.87,1092.46 L141.76,1091.96 L141.66,1091.46 L141.59,1090.96 L141.52,1090.46 L141.46,1089.96 L141.41,1089.46 L141.36,1088.96 L141.32,1088.46 L141.28,1087.96 L141.24,1087.46 L141.2,1086.96 L141.17,1086.46 L141.14,1085.96 L141.11,1085.46 L141.09,1084.97 L141.06,1084.47 L141.04,1083.97 L141.02,1083.47 L141.01,1082.97 L141,1082.47 L140.99,1081.97 L140.98,1081.47 L140.98,1080.97 L140.99,1080.47 L141,1079.97 L141.01,1079.47 L141.03,1078.97 L141.05,1078.47 L141.08,1077.97 L141.12,1077.47 L141.16,1076.97 L141.21,1076.47 L141.26,1075.97 L141.34,1075.47 L141.42,1074.98 L141.54,1074.48 L141.67,1073.98 L141.83,1073.48 L142.02,1072.98 L142.24,1072.48 L142.47,1071.98 L142.72,1071.48 L142.98,1070.98 L143.24,1070.48 L143.49,1069.98 L143.75,1069.48 L143.99,1068.98 L144.23,1068.48 L144.46,1067.98 L144.69,1067.48 L144.91,1066.98 L145.13,1066.48 L145.34,1065.98 L145.55,1065.48 L145.74,1064.99 L145.91,1064.49 L146.07,1063.99 L146.2,1063.49 L146.3,1062.99 L146.37,1062.49 L146.41,1061.99 L146.42,1061.49 L146.4,1060.99 L146.34,1060.49 L146.26,1059.99 L146.16,1059.49 L146.04,1058.99 L145.9,1058.49 L145.75,1057.99 L145.59,1057.49 L145.42,1056.99 L145.25,1056.49 L145.09,1055.99 L144.92,1055.49 L144.76,1055 L144.6,1054.5 L144.44,1054 L144.28,1053.5 L144.13,1053 L143.98,1052.5 L143.83,1052 L143.68,1051.5 L143.54,1051 L143.4,1050.5 L143.27,1050 L143.14,1049.5 L143.02,1049 L142.9,1048.5 L142.78,1048 L142.67,1047.5 L142.57,1047 L142.47,1046.5 L142.37,1046 L142.28,1045.5 L142.19,1045 L142.11,1044.51 L142.03,1044.01 L141.96,1043.51 L141.89,1043.01 L141.83,1042.51 L141.76,1042.01 L141.71,1041.51 L141.65,1041.01 L141.6,1040.51 L141.55,1040.01 L141.5,1039.51 L141.46,1039.01 L141.42,1038.51 L141.39,1038.01 L141.35,1037.51 L141.32,1037.01 L141.29,1036.51 L141.26,1036.01 L141.23,1035.51 L141.21,1035.01 L141.18,1034.52 L141.16,1034.02 L141.13,1033.52 L141.11,1033.02 L141.09,1032.52 L141.07,1032.02 L141.05,1031.52 L141.03,1031.02 L141.02,1030.52 L141,1030.02 L140.99,1029.52 L140.98,1029.02 L140.98,1028.52 L140.97,1028.02 L140.97,1027.52 L140.96,1027.4 L140.95,1027.4 L140.95,1027.52 L140.95,1028.02 L140.94,1028.52 L140.94,1029.02 L140.93,1029.52 L140.91,1030.02 L140.9,1030.52 L140.89,1031.02 L140.87,1031.52 L140.85,1032.02 L140.83,1032.52 L140.81,1033.02 L140.79,1033.52 L140.76,1034.02 L140.74,1034.52 L140.71,1035.01 L140.69,1035.51 L140.66,1036.01 L140.63,1036.51 L140.6,1037.01 L140.57,1037.51 L140.53,1038.01 L140.5,1038.51 L140.46,1039.01 L140.41,1039.51 L140.37,1040.01 L140.32,1040.51 L140.27,1041.01 L140.21,1041.51 L140.15,1042.01 L140.09,1042.51 L140.03,1043.01 L139.96,1043.51 L139.89,1044.01 L139.81,1044.51 L139.73,1045 L139.64,1045.5 L139.55,1046 L139.45,1046.5 L139.35,1047 L139.24,1047.5 L139.13,1048 L139.02,1048.5 L138.9,1049 L138.78,1049.5 L138.65,1050 L138.52,1050.5 L138.38,1051 L138.24,1051.5 L138.09,1052 L137.94,1052.5 L137.79,1053 L137.63,1053.5 L137.48,1054 L137.32,1054.5 L137.16,1055 L137,1055.49 L136.83,1055.99 L136.66,1056.49 L136.5,1056.99 L136.33,1057.49 L136.17,1057.99 L136.02,1058.49 L135.88,1058.99 L135.76,1059.49 L135.65,1059.99 L135.57,1060.49 L135.52,1060.99 L135.5,1061.49 L135.51,1061.99 L135.55,1062.49 L135.62,1062.99 L135.72,1063.49 L135.85,1063.99 L136.01,1064.49 L136.18,1064.99 L136.37,1065.48 L136.58,1065.98 L136.79,1066.48 L137.01,1066.98 L137.23,1067.48 L137.46,1067.98 L137.69,1068.48 L137.93,1068.98 L138.17,1069.48 L138.42,1069.98 L138.68,1070.48 L138.94,1070.98 L139.2,1071.48 L139.45,1071.98 L139.68,1072.48 L139.89,1072.98 L140.08,1073.48 L140.25,1073.98 L140.38,1074.48 L140.49,1074.98 L140.58,1075.47 L140.65,1075.97 L140.71,1076.47 L140.76,1076.97 L140.8,1077.47 L140.83,1077.97 L140.86,1078.47 L140.89,1078.97 L140.91,1079.47 L140.92,1079.97 L140.93,1080.47 L140.94,1080.97 L140.94,1081.47 L140.93,1081.97 L140.92,1082.47 L140.91,1082.97 L140.89,1083.47 L140.88,1083.97 L140.85,1084.47 L140.83,1084.97 L140.81,1085.46 L140.78,1085.96 L140.75,1086.46 L140.72,1086.96 L140.68,1087.46 L140.64,1087.96 L140.6,1088.46 L140.56,1088.96 L140.51,1089.46 L140.46,1089.96 L140.4,1090.46 L140.33,1090.96 L140.25,1091.46 L140.16,1091.96 L140.05,1092.46 L139.9,1092.96 L139.7,1093.46 L139.44,1093.96 L139.11,1094.46 L138.68,1094.96 L138.14,1095.45 L137.49,1095.95 L136.72,1096.45 L135.86,1096.95 L134.9,1097.45 L133.87,1097.95 L132.79,1098.45 L131.66,1098.95 L130.49,1099.45 L129.29,1099.95 L128.05,1100.45 L126.79,1100.95 L125.5,1101.45 L124.21,1101.95 L122.91,1102.45 L121.62,1102.95 L120.28,1103.45 L118.9,1103.95 L117.56,1104.45 L116.44,1104.95 L115.61,1105.44 Z" fill="#4ba886" stroke="#2a2627" stroke-width="2.6" stroke-linejoin="round"/>
<line x1="140.96" y1="1028.4" x2="140.96" y2="996.8" stroke="#2a2627" stroke-width="2.6" stroke-linecap="round"/>
<path d="M224,1105.44 L223.19,1104.95 L222.2,1104.45 L221.09,1103.95 L219.94,1103.45 L218.8,1102.95 L217.69,1102.45 L216.58,1101.95 L215.48,1101.45 L214.37,1100.95 L213.28,1100.45 L212.22,1099.95 L211.17,1099.45 L210.14,1098.95 L209.13,1098.45 L208.14,1097.95 L207.18,1097.45 L206.24,1096.95 L205.34,1096.45 L204.47,1095.95 L203.66,1095.45 L202.9,1094.96 L202.23,1094.46 L201.63,1093.96 L201.13,1093.46 L200.71,1092.96 L200.37,1092.46 L200.1,1091.96 L199.88,1091.46 L199.71,1090.96 L199.58,1090.46 L199.47,1089.96 L199.38,1089.46 L199.3,1088.96 L199.24,1088.46 L199.18,1087.96 L199.13,1087.46 L199.09,1086.96 L199.05,1086.46 L199.01,1085.96 L198.97,1085.46 L198.93,1084.97 L198.9,1084.47 L198.86,1083.97 L198.82,1083.47 L198.79,1082.97 L198.76,1082.47 L198.74,1081.97 L198.74,1081.47 L198.74,1080.97 L198.76,1080.47 L198.79,1079.97 L198.84,1079.47 L198.89,1078.97 L198.95,1078.47 L199.02,1077.97 L199.11,1077.47 L199.23,1076.97 L199.36,1076.47 L199.53,1075.97 L199.74,1075.47 L199.97,1074.98 L200.25,1074.48 L200.55,1073.98 L200.88,1073.48 L201.23,1072.98 L201.6,1072.48 L201.97,1071.98 L202.34,1071.48 L202.7,1070.98 L203.05,1070.48 L203.38,1069.98 L203.69,1069.48 L203.98,1068.98 L204.25,1068.48 L204.5,1067.98 L204.75,1067.48 L204.98,1066.98 L205.21,1066.48 L205.43,1065.98 L205.64,1065.48 L205.85,1064.99 L206.05,1064.49 L206.25,1063.99 L206.43,1063.49 L206.61,1062.99 L206.77,1062.49 L206.91,1061.99 L207.04,1061.49 L207.16,1060.99 L207.25,1060.49 L207.32,1059.99 L207.37,1059.49 L207.4,1058.99 L207.41,1058.49 L207.39,1057.99 L207.35,1057.49 L207.3,1056.99 L207.22,1056.49 L207.13,1055.99 L207.02,1055.49 L206.9,1055 L206.77,1054.5 L206.63,1054 L206.49,1053.5 L206.35,1053 L206.21,1052.5 L206.07,1052 L205.94,1051.5 L205.81,1051 L205.69,1050.5 L205.58,1050 L205.47,1049.5 L205.37,1049 L205.28,1048.5 L205.19,1048 L205.1,1047.5 L205.01,1047 L204.93,1046.5 L204.85,1046 L204.76,1045.5 L204.68,1045 L204.6,1044.51 L204.53,1044.01 L204.45,1043.51 L204.37,1043.01 L204.3,1042.51 L204.22,1042.01 L204.14,1041.51 L204.07,1041.01 L203.99,1040.51 L203.92,1040.01 L203.84,1039.51 L203.77,1039.01 L203.69,1038.51 L203.62,1038.01 L203.54,1037.51 L203.46,1037.01 L203.38,1036.51 L203.31,1036.01 L203.23,1035.51 L203.15,1035.01 L203.07,1034.52 L203,1034.02 L202.92,1033.52 L202.84,1033.02 L202.76,1032.52 L202.69,1032.02 L202.61,1031.52 L202.53,1031.02 L202.46,1030.52 L202.38,1030.02 L202.31,1029.52 L202.23,1029.02 L202.16,1028.52 L202.09,1028.02 L202.02,1027.52 L201.94,1027.02 L201.87,1026.52 L201.8,1026.02 L201.74,1025.52 L201.67,1025.02 L201.6,1024.53 L201.53,1024.03 L201.47,1023.53 L201.4,1023.03 L201.33,1022.53 L201.27,1022.03 L201.2,1021.53 L201.14,1021.03 L201.07,1020.53 L201.01,1020.03 L200.94,1019.53 L200.88,1019.03 L200.82,1018.53 L200.76,1018.03 L200.7,1017.53 L200.64,1017.03 L200.58,1016.53 L200.52,1016.03 L200.47,1015.53 L200.41,1015.03 L200.36,1014.54 L200.31,1014.04 L200.26,1013.54 L200.21,1013.04 L200.17,1012.54 L200.12,1012.04 L200.08,1011.54 L200.03,1011.04 L199.99,1010.54 L199.95,1010.04 L199.91,1009.54 L199.87,1009.04 L199.82,1008.54 L199.79,1008.04 L199.75,1007.54 L199.71,1007.04 L199.67,1006.54 L199.64,1006.04 L199.6,1005.54 L199.57,1005.04 L199.53,1004.55 L199.5,1004.05 L199.47,1003.55 L199.44,1003.05 L199.41,1002.55 L199.38,1002.05 L199.36,1001.55 L199.33,1001.05 L199.31,1000.55 L199.29,1000.05 L199.26,999.55 L199.24,999.05 L199.22,998.55 L199.2,998.05 L199.19,997.55 L199.17,997.05 L199.15,996.55 L199.13,996.05 L199.12,995.55 L199.1,995.05 L199.09,994.56 L199.07,994.06 L199.06,993.56 L199.04,993.06 L199.03,992.56 L199.02,992.06 L199,991.56 L198.99,991.06 L198.98,990.56 L198.97,990.06 L198.95,989.56 L198.94,989.06 L198.93,988.56 L198.92,988.06 L198.9,987.56 L198.89,987.06 L198.88,986.56 L198.87,986.06 L198.86,985.56 L198.85,985.06 L198.83,984.57 L198.82,984.07 L198.81,983.57 L198.8,983.07 L198.79,982.57 L198.78,982.07 L198.77,981.57 L198.76,981.07 L198.75,980.57 L198.74,980.07 L198.73,979.57 L198.72,979.07 L198.71,978.57 L198.7,978.07 L198.7,977.57 L198.69,977.07 L198.68,976.57 L198.67,976.07 L198.67,975.57 L198.66,975.07 L198.66,974.95 L198.64,974.95 L198.64,975.07 L198.64,975.57 L198.63,976.07 L198.62,976.57 L198.62,977.07 L198.61,977.57 L198.6,978.07 L198.59,978.57 L198.58,979.07 L198.57,979.57 L198.56,980.07 L198.55,980.57 L198.54,981.07 L198.53,981.57 L198.52,982.07 L198.51,982.57 L198.5,983.07 L198.49,983.57 L198.48,984.07 L198.47,984.57 L198.46,985.06 L198.45,985.56 L198.43,986.06 L198.42,986.56 L198.41,987.06 L198.4,987.56 L198.39,988.06 L198.37,988.56 L198.36,989.06 L198.35,989.56 L198.34,990.06 L198.32,990.56 L198.31,991.06 L198.3,991.56 L198.29,992.06 L198.27,992.56 L198.26,993.06 L198.24,993.56 L198.23,994.06 L198.22,994.56 L198.2,995.05 L198.18,995.55 L198.17,996.05 L198.15,996.55 L198.13,997.05 L198.12,997.55 L198.1,998.05 L198.08,998.55 L198.06,999.05 L198.04,999.55 L198.02,1000.05 L197.99,1000.55 L197.97,1001.05 L197.95,1001.55 L197.92,1002.05 L197.89,1002.55 L197.86,1003.05 L197.83,1003.55 L197.8,1004.05 L197.77,1004.55 L197.74,1005.04 L197.7,1005.54 L197.67,1006.04 L197.63,1006.54 L197.59,1007.04 L197.56,1007.54 L197.52,1008.04 L197.48,1008.54 L197.44,1009.04 L197.4,1009.54 L197.36,1010.04 L197.31,1010.54 L197.27,1011.04 L197.23,1011.54 L197.18,1012.04 L197.14,1012.54 L197.09,1013.04 L197.04,1013.54 L196.99,1014.04 L196.94,1014.54 L196.89,1015.03 L196.84,1015.53 L196.78,1016.03 L196.72,1016.53 L196.67,1017.03 L196.61,1017.53 L196.55,1018.03 L196.49,1018.53 L196.42,1019.03 L196.36,1019.53 L196.3,1020.03 L196.23,1020.53 L196.17,1021.03 L196.1,1021.53 L196.04,1022.03 L195.97,1022.53 L195.9,1023.03 L195.84,1023.53 L195.77,1024.03 L195.7,1024.53 L195.64,1025.02 L195.57,1025.52 L195.5,1026.02 L195.43,1026.52 L195.36,1027.02 L195.29,1027.52 L195.21,1028.02 L195.14,1028.52 L195.07,1029.02 L194.99,1029.52 L194.92,1030.02 L194.84,1030.52 L194.77,1031.02 L194.69,1031.52 L194.62,1032.02 L194.54,1032.52 L194.46,1033.02 L194.38,1033.52 L194.31,1034.02 L194.23,1034.52 L194.15,1035.01 L194.07,1035.51 L194,1036.01 L193.92,1036.51 L193.84,1037.01 L193.76,1037.51 L193.69,1038.01 L193.61,1038.51 L193.53,1039.01 L193.46,1039.51 L193.38,1040.01 L193.31,1040.51 L193.23,1041.01 L193.16,1041.51 L193.08,1042.01 L193.01,1042.51 L192.93,1043.01 L192.85,1043.51 L192.78,1044.01 L192.7,1044.51 L192.62,1045 L192.54,1045.5 L192.46,1046 L192.37,1046.5 L192.29,1047 L192.2,1047.5 L192.11,1048 L192.02,1048.5 L191.93,1049 L191.83,1049.5 L191.72,1050 L191.61,1050.5 L191.49,1051 L191.36,1051.5 L191.23,1052 L191.09,1052.5 L190.95,1053 L190.81,1053.5 L190.67,1054 L190.53,1054.5 L190.4,1055 L190.28,1055.49 L190.18,1055.99 L190.08,1056.49 L190.01,1056.99 L189.95,1057.49 L189.91,1057.99 L189.89,1058.49 L189.9,1058.99 L189.93,1059.49 L189.98,1059.99 L190.05,1060.49 L190.15,1060.99 L190.26,1061.49 L190.39,1061.99 L190.54,1062.49 L190.7,1062.99 L190.87,1063.49 L191.05,1063.99 L191.25,1064.49 L191.45,1064.99 L191.66,1065.48 L191.88,1065.98 L192.1,1066.48 L192.32,1066.98 L192.56,1067.48 L192.8,1067.98 L193.05,1068.48 L193.32,1068.98 L193.61,1069.48 L193.92,1069.98 L194.25,1070.48 L194.6,1070.98 L194.96,1071.48 L195.33,1071.98 L195.7,1072.48 L196.07,1072.98 L196.42,1073.48 L196.75,1073.98 L197.06,1074.48 L197.33,1074.98 L197.57,1075.47 L197.77,1075.97 L197.94,1076.47 L198.08,1076.97 L198.19,1077.47 L198.28,1077.97 L198.35,1078.47 L198.42,1078.97 L198.47,1079.47 L198.51,1079.97 L198.54,1080.47 L198.56,1080.97 L198.57,1081.47 L198.56,1081.97 L198.54,1082.47 L198.52,1082.97 L198.48,1083.47 L198.44,1083.97 L198.41,1084.47 L198.37,1084.97 L198.33,1085.46 L198.29,1085.96 L198.26,1086.46 L198.22,1086.96 L198.17,1087.46 L198.12,1087.96 L198.07,1088.46 L198,1088.96 L197.92,1089.46 L197.83,1089.96 L197.72,1090.46 L197.59,1090.96 L197.42,1091.46 L197.2,1091.96 L196.93,1092.46 L196.59,1092.96 L196.18,1093.46 L195.67,1093.96 L195.08,1094.46 L194.4,1094.96 L193.65,1095.45 L192.83,1095.95 L191.96,1096.45 L191.06,1096.95 L190.12,1097.45 L189.16,1097.95 L188.17,1098.45 L187.17,1098.95 L186.14,1099.45 L185.09,1099.95 L184.02,1100.45 L182.93,1100.95 L181.83,1101.45 L180.72,1101.95 L179.61,1102.45 L178.5,1102.95 L177.36,1103.45 L176.21,1103.95 L175.1,1104.45 L174.12,1104.95 L173.3,1105.44 Z" fill="#d25c14" stroke="#2a2627" stroke-width="2.6" stroke-linejoin="round"/>
<line x1="198.65" y1="975.95" x2="198.65" y2="953.1" stroke="#2a2627" stroke-width="2.6" stroke-linecap="round"/>
<path d="M281.69,1105.44 L280.93,1104.95 L280.39,1104.45 L279.94,1103.95 L279.53,1103.45 L279.14,1102.95 L278.75,1102.45 L278.34,1101.95 L277.91,1101.45 L277.46,1100.95 L276.99,1100.45 L276.48,1099.95 L275.93,1099.45 L275.33,1098.95 L274.7,1098.45 L274.03,1097.95 L273.32,1097.45 L272.6,1096.95 L271.86,1096.45 L271.11,1095.95 L270.36,1095.45 L269.62,1094.96 L268.9,1094.46 L268.18,1093.96 L267.48,1093.46 L266.8,1092.96 L266.13,1092.46 L265.47,1091.96 L264.82,1091.46 L264.19,1090.96 L263.57,1090.46 L262.96,1089.96 L262.38,1089.46 L261.82,1088.96 L261.29,1088.46 L260.77,1087.96 L260.28,1087.46 L259.8,1086.96 L259.35,1086.46 L258.92,1085.96 L258.52,1085.46 L258.16,1084.97 L257.84,1084.47 L257.58,1083.97 L257.37,1083.47 L257.24,1082.97 L257.17,1082.47 L257.16,1081.97 L257.21,1081.47 L257.31,1080.97 L257.46,1080.47 L257.66,1079.97 L257.88,1079.47 L258.15,1078.97 L258.44,1078.47 L258.75,1077.97 L259.08,1077.47 L259.43,1076.97 L259.79,1076.47 L260.16,1075.97 L260.53,1075.47 L260.92,1074.98 L261.31,1074.48 L261.72,1073.98 L262.13,1073.48 L262.55,1072.98 L262.98,1072.48 L263.41,1071.98 L263.83,1071.48 L264.23,1070.98 L264.62,1070.48 L264.98,1069.98 L265.31,1069.48 L265.61,1068.98 L265.88,1068.48 L266.13,1067.98 L266.35,1067.48 L266.55,1066.98 L266.74,1066.48 L266.91,1065.98 L267.07,1065.48 L267.21,1064.99 L267.35,1064.49 L267.47,1063.99 L267.58,1063.49 L267.68,1062.99 L267.78,1062.49 L267.87,1061.99 L267.95,1061.49 L268.02,1060.99 L268.1,1060.49 L268.16,1059.99 L268.23,1059.49 L268.29,1058.99 L268.34,1058.49 L268.39,1057.99 L268.43,1057.49 L268.47,1056.99 L268.5,1056.49 L268.52,1055.99 L268.54,1055.49 L268.55,1055 L268.55,1054.5 L268.54,1054 L268.52,1053.5 L268.5,1053 L268.48,1052.5 L268.44,1052 L268.4,1051.5 L268.36,1051 L268.31,1050.5 L268.26,1050 L268.2,1049.5 L268.14,1049 L268.08,1048.5 L268.01,1048 L267.94,1047.5 L267.87,1047 L267.8,1046.5 L267.72,1046 L267.65,1045.5 L267.57,1045 L267.5,1044.51 L267.42,1044.01 L267.35,1043.51 L267.27,1043.01 L267.2,1042.51 L267.13,1042.01 L267.06,1041.51 L266.99,1041.01 L266.93,1040.51 L266.86,1040.01 L266.81,1039.51 L266.75,1039.01 L266.7,1038.51 L266.65,1038.01 L266.61,1037.51 L266.57,1037.01 L266.53,1036.51 L266.49,1036.01 L266.46,1035.51 L266.42,1035.01 L266.39,1034.52 L266.36,1034.02 L266.33,1033.52 L266.3,1033.02 L266.27,1032.52 L266.25,1032.02 L266.22,1031.52 L266.2,1031.02 L266.17,1030.52 L266.15,1030.02 L266.12,1029.52 L266.1,1029.02 L266.08,1028.52 L266.05,1028.02 L266.03,1027.52 L266.01,1027.02 L265.99,1026.52 L265.97,1026.02 L265.95,1025.52 L265.92,1025.02 L265.9,1024.53 L265.88,1024.03 L265.86,1023.53 L265.84,1023.03 L265.81,1022.53 L265.79,1022.03 L265.77,1021.53 L265.74,1021.03 L265.72,1020.53 L265.7,1020.03 L265.67,1019.53 L265.64,1019.03 L265.62,1018.53 L265.59,1018.03 L265.56,1017.53 L265.53,1017.03 L265.5,1016.53 L265.47,1016.03 L265.44,1015.53 L265.4,1015.03 L265.37,1014.54 L265.33,1014.04 L265.29,1013.54 L265.25,1013.04 L265.21,1012.54 L265.17,1012.04 L265.12,1011.54 L265.07,1011.04 L265.02,1010.54 L264.96,1010.04 L264.91,1009.54 L264.85,1009.04 L264.78,1008.54 L264.72,1008.04 L264.65,1007.54 L264.58,1007.04 L264.51,1006.54 L264.44,1006.04 L264.36,1005.54 L264.29,1005.04 L264.21,1004.55 L264.13,1004.05 L264.05,1003.55 L263.97,1003.05 L263.89,1002.55 L263.81,1002.05 L263.73,1001.55 L263.65,1001.05 L263.56,1000.55 L263.48,1000.05 L263.39,999.55 L263.3,999.05 L263.22,998.55 L263.13,998.05 L263.03,997.55 L262.94,997.05 L262.84,996.55 L262.75,996.05 L262.65,995.55 L262.55,995.05 L262.44,994.56 L262.34,994.06 L262.24,993.56 L262.13,993.06 L262.03,992.56 L261.93,992.06 L261.82,991.56 L261.72,991.06 L261.61,990.56 L261.51,990.06 L261.4,989.56 L261.3,989.06 L261.19,988.56 L261.09,988.06 L260.99,987.56 L260.89,987.06 L260.78,986.56 L260.68,986.06 L260.58,985.56 L260.47,985.06 L260.37,984.57 L260.26,984.07 L260.15,983.57 L260.05,983.07 L259.94,982.57 L259.84,982.07 L259.73,981.57 L259.63,981.07 L259.52,980.57 L259.42,980.07 L259.32,979.57 L259.22,979.07 L259.12,978.57 L259.03,978.07 L258.93,977.57 L258.84,977.07 L258.75,976.57 L258.66,976.07 L258.58,975.57 L258.5,975.07 L258.42,974.58 L258.34,974.08 L258.26,973.58 L258.18,973.08 L258.11,972.58 L258.03,972.08 L257.96,971.58 L257.89,971.08 L257.82,970.58 L257.75,970.08 L257.68,969.58 L257.61,969.08 L257.55,968.58 L257.48,968.08 L257.42,967.58 L257.36,967.08 L257.3,966.58 L257.24,966.08 L257.18,965.58 L257.12,965.08 L257.07,964.59 L257.01,964.09 L256.96,963.59 L256.91,963.09 L256.86,962.59 L256.81,962.09 L256.77,961.59 L256.72,961.09 L256.68,960.59 L256.64,960.09 L256.59,959.59 L256.55,959.09 L256.52,958.59 L256.48,958.09 L256.45,957.59 L256.42,957.09 L256.4,956.59 L256.38,956.22 L256.31,956.22 L256.29,956.59 L256.26,957.09 L256.24,957.59 L256.21,958.09 L256.17,958.59 L256.13,959.09 L256.09,959.59 L256.05,960.09 L256.01,960.59 L255.97,961.09 L255.92,961.59 L255.87,962.09 L255.83,962.59 L255.78,963.09 L255.73,963.59 L255.67,964.09 L255.62,964.59 L255.56,965.08 L255.51,965.58 L255.45,966.08 L255.39,966.58 L255.33,967.08 L255.27,967.58 L255.2,968.08 L255.14,968.58 L255.07,969.08 L255.01,969.58 L254.94,970.08 L254.87,970.58 L254.8,971.08 L254.73,971.58 L254.65,972.08 L254.58,972.58 L254.5,973.08 L254.43,973.58 L254.35,974.08 L254.27,974.58 L254.19,975.07 L254.11,975.57 L254.02,976.07 L253.94,976.57 L253.85,977.07 L253.76,977.57 L253.66,978.07 L253.57,978.57 L253.47,979.07 L253.37,979.57 L253.27,980.07 L253.16,980.57 L253.06,981.07 L252.96,981.57 L252.85,982.07 L252.75,982.57 L252.64,983.07 L252.53,983.57 L252.43,984.07 L252.32,984.57 L252.22,985.06 L252.11,985.56 L252.01,986.06 L251.9,986.56 L251.8,987.06 L251.7,987.56 L251.6,988.06 L251.49,988.56 L251.39,989.06 L251.29,989.56 L251.18,990.06 L251.08,990.56 L250.97,991.06 L250.87,991.56 L250.76,992.06 L250.66,992.56 L250.55,993.06 L250.45,993.56 L250.35,994.06 L250.24,994.56 L250.14,995.05 L250.04,995.55 L249.94,996.05 L249.84,996.55 L249.75,997.05 L249.65,997.55 L249.56,998.05 L249.47,998.55 L249.38,999.05 L249.3,999.55 L249.21,1000.05 L249.13,1000.55 L249.04,1001.05 L248.96,1001.55 L248.88,1002.05 L248.8,1002.55 L248.71,1003.05 L248.63,1003.55 L248.56,1004.05 L248.48,1004.55 L248.4,1005.04 L248.32,1005.54 L248.25,1006.04 L248.18,1006.54 L248.11,1007.04 L248.04,1007.54 L247.97,1008.04 L247.9,1008.54 L247.84,1009.04 L247.78,1009.54 L247.72,1010.04 L247.67,1010.54 L247.62,1011.04 L247.57,1011.54 L247.52,1012.04 L247.48,1012.54 L247.44,1013.04 L247.4,1013.54 L247.36,1014.04 L247.32,1014.54 L247.29,1015.03 L247.25,1015.53 L247.22,1016.03 L247.19,1016.53 L247.16,1017.03 L247.13,1017.53 L247.1,1018.03 L247.07,1018.53 L247.04,1019.03 L247.02,1019.53 L246.99,1020.03 L246.97,1020.53 L246.94,1021.03 L246.92,1021.53 L246.9,1022.03 L246.87,1022.53 L246.85,1023.03 L246.83,1023.53 L246.81,1024.03 L246.78,1024.53 L246.76,1025.02 L246.74,1025.52 L246.72,1026.02 L246.7,1026.52 L246.68,1027.02 L246.65,1027.52 L246.63,1028.02 L246.61,1028.52 L246.59,1029.02 L246.56,1029.52 L246.54,1030.02 L246.52,1030.52 L246.49,1031.02 L246.47,1031.52 L246.44,1032.02 L246.41,1032.52 L246.38,1033.02 L246.36,1033.52 L246.33,1034.02 L246.3,1034.52 L246.26,1035.01 L246.23,1035.51 L246.2,1036.01 L246.16,1036.51 L246.12,1037.01 L246.08,1037.51 L246.04,1038.01 L245.99,1038.51 L245.94,1039.01 L245.88,1039.51 L245.82,1040.01 L245.76,1040.51 L245.7,1041.01 L245.63,1041.51 L245.56,1042.01 L245.49,1042.51 L245.42,1043.01 L245.34,1043.51 L245.27,1044.01 L245.19,1044.51 L245.11,1045 L245.04,1045.5 L244.96,1046 L244.89,1046.5 L244.82,1047 L244.74,1047.5 L244.68,1048 L244.61,1048.5 L244.55,1049 L244.49,1049.5 L244.43,1050 L244.38,1050.5 L244.33,1051 L244.28,1051.5 L244.24,1052 L244.21,1052.5 L244.18,1053 L244.16,1053.5 L244.15,1054 L244.14,1054.5 L244.14,1055 L244.15,1055.49 L244.17,1055.99 L244.19,1056.49 L244.22,1056.99 L244.26,1057.49 L244.3,1057.99 L244.35,1058.49 L244.4,1058.99 L244.46,1059.49 L244.52,1059.99 L244.59,1060.49 L244.66,1060.99 L244.74,1061.49 L244.82,1061.99 L244.91,1062.49 L245,1062.99 L245.11,1063.49 L245.22,1063.99 L245.34,1064.49 L245.48,1064.99 L245.62,1065.48 L245.78,1065.98 L245.95,1066.48 L246.13,1066.98 L246.34,1067.48 L246.56,1067.98 L246.8,1068.48 L247.07,1068.98 L247.38,1069.48 L247.71,1069.98 L248.07,1070.48 L248.45,1070.98 L248.86,1071.48 L249.28,1071.98 L249.71,1072.48 L250.13,1072.98 L250.56,1073.48 L250.97,1073.98 L251.38,1074.48 L251.77,1074.98 L252.16,1075.47 L252.53,1075.97 L252.9,1076.47 L253.26,1076.97 L253.61,1077.47 L253.94,1077.97 L254.25,1078.47 L254.54,1078.97 L254.8,1079.47 L255.03,1079.97 L255.22,1080.47 L255.37,1080.97 L255.48,1081.47 L255.53,1081.97 L255.52,1082.47 L255.45,1082.97 L255.31,1083.47 L255.11,1083.97 L254.85,1084.47 L254.53,1084.97 L254.16,1085.46 L253.76,1085.96 L253.34,1086.46 L252.88,1086.96 L252.41,1087.46 L251.92,1087.96 L251.4,1088.46 L250.86,1088.96 L250.3,1089.46 L249.72,1089.96 L249.12,1090.46 L248.5,1090.96 L247.87,1091.46 L247.22,1091.96 L246.56,1092.46 L245.89,1092.96 L245.2,1093.46 L244.51,1093.96 L243.79,1094.46 L243.06,1094.96 L242.32,1095.45 L241.58,1095.95 L240.83,1096.45 L240.09,1096.95 L239.36,1097.45 L238.66,1097.95 L237.99,1098.45 L237.35,1098.95 L236.76,1099.45 L236.21,1099.95 L235.7,1100.45 L235.23,1100.95 L234.78,1101.45 L234.35,1101.95 L233.94,1102.45 L233.55,1102.95 L233.15,1103.45 L232.75,1103.95 L232.3,1104.45 L231.76,1104.95 L230.99,1105.44 Z" fill="#d8398b" stroke="#2a2627" stroke-width="2.6" stroke-linejoin="round"/>
<line x1="256.34" y1="957.22" x2="256.34" y2="941.86" stroke="#2a2627" stroke-width="2.6" stroke-linecap="round"/>
<path d="M339.14,1105.44 L338.31,1104.95 L337.28,1104.45 L336.09,1103.95 L334.85,1103.45 L333.63,1102.95 L332.45,1102.45 L331.28,1101.95 L330.1,1101.45 L328.93,1100.95 L327.77,1100.45 L326.64,1099.95 L325.53,1099.45 L324.45,1098.95 L323.39,1098.45 L322.36,1097.95 L321.36,1097.45 L320.4,1096.95 L319.48,1096.45 L318.63,1095.95 L317.85,1095.45 L317.16,1094.96 L316.57,1094.46 L316.08,1093.96 L315.67,1093.46 L315.35,1092.96 L315.1,1092.46 L314.91,1091.96 L314.75,1091.46 L314.63,1090.96 L314.53,1090.46 L314.45,1089.96 L314.38,1089.46 L314.32,1088.96 L314.27,1088.46 L314.22,1087.96 L314.17,1087.46 L314.13,1086.96 L314.09,1086.46 L314.05,1085.96 L314.02,1085.46 L313.98,1084.97 L313.95,1084.47 L313.92,1083.97 L313.9,1083.47 L313.87,1082.97 L313.85,1082.47 L313.83,1081.97 L313.82,1081.47 L313.82,1080.97 L313.82,1080.47 L313.83,1079.97 L313.84,1079.47 L313.86,1078.97 L313.88,1078.47 L313.91,1077.97 L313.94,1077.47 L313.99,1076.97 L314.04,1076.47 L314.11,1075.97 L314.21,1075.47 L314.33,1074.98 L314.49,1074.48 L314.69,1073.98 L314.94,1073.48 L315.23,1072.98 L315.56,1072.48 L315.92,1071.98 L316.29,1071.48 L316.68,1070.98 L317.05,1070.48 L317.41,1069.98 L317.74,1069.48 L318.05,1068.98 L318.33,1068.48 L318.58,1067.98 L318.82,1067.48 L319.04,1066.98 L319.24,1066.48 L319.43,1065.98 L319.62,1065.48 L319.8,1064.99 L319.97,1064.49 L320.13,1063.99 L320.28,1063.49 L320.41,1062.99 L320.54,1062.49 L320.65,1061.99 L320.74,1061.49 L320.82,1060.99 L320.88,1060.49 L320.92,1059.99 L320.94,1059.49 L320.95,1058.99 L320.93,1058.49 L320.91,1057.99 L320.86,1057.49 L320.81,1056.99 L320.74,1056.49 L320.66,1055.99 L320.57,1055.49 L320.48,1055 L320.37,1054.5 L320.27,1054 L320.16,1053.5 L320.05,1053 L319.94,1052.5 L319.84,1052 L319.73,1051.5 L319.63,1051 L319.54,1050.5 L319.45,1050 L319.36,1049.5 L319.27,1049 L319.19,1048.5 L319.11,1048 L319.03,1047.5 L318.95,1047 L318.87,1046.5 L318.8,1046 L318.72,1045.5 L318.64,1045 L318.57,1044.51 L318.49,1044.01 L318.42,1043.51 L318.34,1043.01 L318.27,1042.51 L318.2,1042.01 L318.12,1041.51 L318.05,1041.01 L317.98,1040.51 L317.91,1040.01 L317.83,1039.51 L317.76,1039.01 L317.69,1038.51 L317.62,1038.01 L317.55,1037.51 L317.48,1037.01 L317.41,1036.51 L317.34,1036.01 L317.27,1035.51 L317.2,1035.01 L317.14,1034.52 L317.07,1034.02 L317,1033.52 L316.93,1033.02 L316.86,1032.52 L316.8,1032.02 L316.73,1031.52 L316.67,1031.02 L316.6,1030.52 L316.54,1030.02 L316.47,1029.52 L316.41,1029.02 L316.35,1028.52 L316.28,1028.02 L316.22,1027.52 L316.16,1027.02 L316.1,1026.52 L316.04,1026.02 L315.98,1025.52 L315.93,1025.02 L315.87,1024.53 L315.81,1024.03 L315.75,1023.53 L315.7,1023.03 L315.64,1022.53 L315.58,1022.03 L315.53,1021.53 L315.47,1021.03 L315.42,1020.53 L315.36,1020.03 L315.31,1019.53 L315.26,1019.03 L315.2,1018.53 L315.15,1018.03 L315.1,1017.53 L315.05,1017.03 L315,1016.53 L314.96,1016.03 L314.91,1015.53 L314.87,1015.03 L314.83,1014.54 L314.79,1014.04 L314.75,1013.54 L314.71,1013.04 L314.67,1012.54 L314.64,1012.04 L314.61,1011.54 L314.57,1011.04 L314.54,1010.54 L314.51,1010.04 L314.48,1009.54 L314.45,1009.04 L314.42,1008.54 L314.39,1008.04 L314.36,1007.54 L314.34,1007.04 L314.31,1006.54 L314.29,1006.04 L314.26,1005.54 L314.24,1005.04 L314.21,1004.55 L314.19,1004.05 L314.17,1003.55 L314.15,1003.05 L314.13,1002.55 L314.11,1002.05 L314.09,1001.55 L314.07,1001.05 L314.06,1000.55 L314.04,1000.05 L314.03,999.55 L314.01,999.05 L314,998.55 L313.98,998.05 L313.97,997.55 L313.96,997.05 L313.94,996.55 L313.93,996.05 L313.92,995.55 L313.91,995.05 L313.9,994.56 L313.88,994.06 L313.87,993.56 L313.86,993.06 L313.85,992.56 L313.84,992.06 L313.84,991.56 L313.83,991.06 L313.82,990.56 L313.81,990.06 L313.81,989.56 L313.8,989.06 L313.8,988.56 L313.79,988.06 L313.79,987.56 L313.79,987.44 L313.78,987.44 L313.78,987.56 L313.78,988.06 L313.77,988.56 L313.77,989.06 L313.76,989.56 L313.76,990.06 L313.75,990.56 L313.74,991.06 L313.74,991.56 L313.73,992.06 L313.72,992.56 L313.71,993.06 L313.7,993.56 L313.69,994.06 L313.68,994.56 L313.67,995.05 L313.65,995.55 L313.64,996.05 L313.63,996.55 L313.61,997.05 L313.6,997.55 L313.59,998.05 L313.57,998.55 L313.56,999.05 L313.55,999.55 L313.53,1000.05 L313.51,1000.55 L313.5,1001.05 L313.48,1001.55 L313.46,1002.05 L313.44,1002.55 L313.42,1003.05 L313.4,1003.55 L313.38,1004.05 L313.36,1004.55 L313.34,1005.04 L313.31,1005.54 L313.29,1006.04 L313.26,1006.54 L313.23,1007.04 L313.21,1007.54 L313.18,1008.04 L313.15,1008.54 L313.12,1009.04 L313.09,1009.54 L313.06,1010.04 L313.03,1010.54 L313,1011.04 L312.97,1011.54 L312.93,1012.04 L312.9,1012.54 L312.86,1013.04 L312.82,1013.54 L312.79,1014.04 L312.74,1014.54 L312.7,1015.03 L312.66,1015.53 L312.61,1016.03 L312.57,1016.53 L312.52,1017.03 L312.47,1017.53 L312.42,1018.03 L312.37,1018.53 L312.32,1019.03 L312.26,1019.53 L312.21,1020.03 L312.16,1020.53 L312.1,1021.03 L312.04,1021.53 L311.99,1022.03 L311.93,1022.53 L311.88,1023.03 L311.82,1023.53 L311.76,1024.03 L311.7,1024.53 L311.65,1025.02 L311.59,1025.52 L311.53,1026.02 L311.47,1026.52 L311.41,1027.02 L311.35,1027.52 L311.29,1028.02 L311.23,1028.52 L311.16,1029.02 L311.1,1029.52 L311.04,1030.02 L310.97,1030.52 L310.91,1031.02 L310.84,1031.52 L310.77,1032.02 L310.71,1032.52 L310.64,1033.02 L310.57,1033.52 L310.5,1034.02 L310.44,1034.52 L310.37,1035.01 L310.3,1035.51 L310.23,1036.01 L310.16,1036.51 L310.09,1037.01 L310.02,1037.51 L309.95,1038.01 L309.88,1038.51 L309.81,1039.01 L309.74,1039.51 L309.67,1040.01 L309.6,1040.51 L309.52,1041.01 L309.45,1041.51 L309.38,1042.01 L309.3,1042.51 L309.23,1043.01 L309.15,1043.51 L309.08,1044.01 L309,1044.51 L308.93,1045 L308.85,1045.5 L308.78,1046 L308.7,1046.5 L308.62,1047 L308.54,1047.5 L308.46,1048 L308.38,1048.5 L308.3,1049 L308.21,1049.5 L308.13,1050 L308.03,1050.5 L307.94,1051 L307.84,1051.5 L307.73,1052 L307.63,1052.5 L307.52,1053 L307.41,1053.5 L307.3,1054 L307.2,1054.5 L307.1,1055 L307,1055.49 L306.91,1055.99 L306.84,1056.49 L306.77,1056.99 L306.71,1057.49 L306.67,1057.99 L306.64,1058.49 L306.63,1058.99 L306.63,1059.49 L306.66,1059.99 L306.7,1060.49 L306.76,1060.99 L306.83,1061.49 L306.93,1061.99 L307.04,1062.49 L307.16,1062.99 L307.3,1063.49 L307.44,1063.99 L307.6,1064.49 L307.77,1064.99 L307.95,1065.48 L308.14,1065.98 L308.33,1066.48 L308.54,1066.98 L308.75,1067.48 L308.99,1067.98 L309.24,1068.48 L309.52,1068.98 L309.83,1069.48 L310.16,1069.98 L310.52,1070.48 L310.9,1070.98 L311.28,1071.48 L311.66,1071.98 L312.01,1072.48 L312.34,1072.98 L312.64,1073.48 L312.88,1073.98 L313.09,1074.48 L313.24,1074.98 L313.37,1075.47 L313.46,1075.97 L313.53,1076.47 L313.58,1076.97 L313.63,1077.47 L313.66,1077.97 L313.69,1078.47 L313.72,1078.97 L313.73,1079.47 L313.75,1079.97 L313.75,1080.47 L313.75,1080.97 L313.75,1081.47 L313.74,1081.97 L313.72,1082.47 L313.7,1082.97 L313.68,1083.47 L313.65,1083.97 L313.62,1084.47 L313.59,1084.97 L313.56,1085.46 L313.52,1085.96 L313.48,1086.46 L313.45,1086.96 L313.4,1087.46 L313.36,1087.96 L313.31,1088.46 L313.25,1088.96 L313.19,1089.46 L313.12,1089.96 L313.04,1090.46 L312.94,1090.96 L312.82,1091.46 L312.67,1091.96 L312.47,1092.46 L312.22,1092.96 L311.9,1093.46 L311.5,1093.96 L311,1094.46 L310.41,1094.96 L309.72,1095.45 L308.94,1095.95 L308.09,1096.45 L307.18,1096.95 L306.21,1097.45 L305.21,1097.95 L304.18,1098.45 L303.12,1098.95 L302.04,1099.45 L300.93,1099.95 L299.8,1100.45 L298.64,1100.95 L297.47,1101.45 L296.29,1101.95 L295.12,1102.45 L293.94,1102.95 L292.72,1103.45 L291.48,1103.95 L290.29,1104.45 L289.26,1104.95 L288.44,1105.44 Z" fill="#6f66a6" stroke="#2a2627" stroke-width="2.6" stroke-linejoin="round"/>
<line x1="313.79" y1="988.44" x2="313.79" y2="956.22" stroke="#2a2627" stroke-width="2.6" stroke-linecap="round"/>
<path d="M396.76,1105.44 L395.94,1104.95 L394.91,1104.45 L393.71,1103.95 L392.47,1103.45 L391.26,1102.95 L390.08,1102.45 L388.9,1101.95 L387.72,1101.45 L386.55,1100.95 L385.4,1100.45 L384.26,1099.95 L383.16,1099.45 L382.07,1098.95 L381.01,1098.45 L379.98,1097.95 L378.98,1097.45 L378.02,1096.95 L377.11,1096.45 L376.25,1095.95 L375.48,1095.45 L374.79,1094.96 L374.19,1094.46 L373.7,1093.96 L373.29,1093.46 L372.97,1092.96 L372.72,1092.46 L372.53,1091.96 L372.38,1091.46 L372.25,1090.96 L372.16,1090.46 L372.07,1089.96 L372,1089.46 L371.94,1088.96 L371.89,1088.46 L371.84,1087.96 L371.79,1087.46 L371.75,1086.96 L371.71,1086.46 L371.67,1085.96 L371.64,1085.46 L371.61,1084.97 L371.57,1084.47 L371.55,1083.97 L371.52,1083.47 L371.49,1082.97 L371.47,1082.47 L371.46,1081.97 L371.44,1081.47 L371.44,1080.97 L371.43,1080.47 L371.44,1079.97 L371.44,1079.47 L371.46,1078.97 L371.47,1078.47 L371.49,1077.97 L371.51,1077.47 L371.54,1076.97 L371.58,1076.47 L371.62,1075.97 L371.67,1075.47 L371.74,1074.98 L371.83,1074.48 L371.95,1073.98 L372.09,1073.48 L372.25,1072.98 L372.43,1072.48 L372.64,1071.98 L372.85,1071.48 L373.08,1070.98 L373.31,1070.48 L373.53,1069.98 L373.75,1069.48 L373.97,1068.98 L374.17,1068.48 L374.38,1067.98 L374.58,1067.48 L374.77,1066.98 L374.96,1066.48 L375.15,1065.98 L375.33,1065.48 L375.51,1064.99 L375.67,1064.49 L375.82,1063.99 L375.95,1063.49 L376.07,1062.99 L376.16,1062.49 L376.22,1061.99 L376.26,1061.49 L376.28,1060.99 L376.26,1060.49 L376.23,1059.99 L376.17,1059.49 L376.09,1058.99 L376,1058.49 L375.9,1057.99 L375.79,1057.49 L375.67,1056.99 L375.55,1056.49 L375.43,1055.99 L375.32,1055.49 L375.2,1055 L375.09,1054.5 L374.98,1054 L374.88,1053.5 L374.77,1053 L374.67,1052.5 L374.57,1052 L374.47,1051.5 L374.37,1051 L374.28,1050.5 L374.19,1050 L374.09,1049.5 L374,1049 L373.91,1048.5 L373.82,1048 L373.73,1047.5 L373.65,1047 L373.56,1046.5 L373.47,1046 L373.38,1045.5 L373.3,1045 L373.22,1044.51 L373.13,1044.01 L373.05,1043.51 L372.97,1043.01 L372.9,1042.51 L372.82,1042.01 L372.75,1041.51 L372.68,1041.01 L372.62,1040.51 L372.56,1040.01 L372.5,1039.51 L372.45,1039.01 L372.4,1038.51 L372.35,1038.01 L372.31,1037.51 L372.27,1037.01 L372.23,1036.51 L372.19,1036.01 L372.16,1035.51 L372.12,1035.01 L372.09,1034.52 L372.06,1034.02 L372.03,1033.52 L372,1033.02 L371.97,1032.52 L371.95,1032.02 L371.92,1031.52 L371.9,1031.02 L371.87,1030.52 L371.85,1030.02 L371.83,1029.52 L371.81,1029.02 L371.79,1028.52 L371.77,1028.02 L371.75,1027.52 L371.73,1027.02 L371.71,1026.52 L371.7,1026.02 L371.68,1025.52 L371.66,1025.02 L371.65,1024.53 L371.63,1024.03 L371.62,1023.53 L371.61,1023.03 L371.59,1022.53 L371.58,1022.03 L371.57,1021.53 L371.55,1021.03 L371.54,1020.53 L371.53,1020.03 L371.52,1019.53 L371.51,1019.03 L371.5,1018.53 L371.49,1018.03 L371.48,1017.53 L371.47,1017.03 L371.46,1016.53 L371.45,1016.03 L371.44,1015.53 L371.44,1015.03 L371.43,1014.54 L371.42,1014.04 L371.42,1013.54 L371.42,1013.04 L371.41,1012.54 L371.41,1012.41 L371.4,1012.41 L371.4,1012.54 L371.4,1013.04 L371.4,1013.54 L371.39,1014.04 L371.39,1014.54 L371.38,1015.03 L371.37,1015.53 L371.37,1016.03 L371.36,1016.53 L371.35,1017.03 L371.34,1017.53 L371.33,1018.03 L371.32,1018.53 L371.31,1019.03 L371.3,1019.53 L371.29,1020.03 L371.28,1020.53 L371.26,1021.03 L371.25,1021.53 L371.24,1022.03 L371.22,1022.53 L371.21,1023.03 L371.2,1023.53 L371.18,1024.03 L371.17,1024.53 L371.15,1025.02 L371.14,1025.52 L371.12,1026.02 L371.11,1026.52 L371.09,1027.02 L371.07,1027.52 L371.05,1028.02 L371.03,1028.52 L371.01,1029.02 L370.99,1029.52 L370.97,1030.02 L370.95,1030.52 L370.92,1031.02 L370.9,1031.52 L370.87,1032.02 L370.84,1032.52 L370.82,1033.02 L370.79,1033.52 L370.76,1034.02 L370.73,1034.52 L370.69,1035.01 L370.66,1035.51 L370.63,1036.01 L370.59,1036.51 L370.55,1037.01 L370.51,1037.51 L370.47,1038.01 L370.42,1038.51 L370.37,1039.01 L370.32,1039.51 L370.26,1040.01 L370.2,1040.51 L370.13,1041.01 L370.06,1041.51 L369.99,1042.01 L369.92,1042.51 L369.84,1043.01 L369.77,1043.51 L369.68,1044.01 L369.6,1044.51 L369.52,1045 L369.43,1045.5 L369.35,1046 L369.26,1046.5 L369.17,1047 L369.08,1047.5 L368.99,1048 L368.9,1048.5 L368.81,1049 L368.72,1049.5 L368.63,1050 L368.54,1050.5 L368.44,1051 L368.35,1051.5 L368.25,1052 L368.15,1052.5 L368.04,1053 L367.94,1053.5 L367.83,1054 L367.73,1054.5 L367.62,1055 L367.5,1055.49 L367.38,1055.99 L367.27,1056.49 L367.15,1056.99 L367.03,1057.49 L366.92,1057.99 L366.81,1058.49 L366.72,1058.99 L366.65,1059.49 L366.59,1059.99 L366.55,1060.49 L366.54,1060.99 L366.55,1061.49 L366.59,1061.99 L366.66,1062.49 L366.75,1062.99 L366.86,1063.49 L366.99,1063.99 L367.14,1064.49 L367.31,1064.99 L367.48,1065.48 L367.67,1065.98 L367.85,1066.48 L368.05,1066.98 L368.24,1067.48 L368.44,1067.98 L368.64,1068.48 L368.85,1068.98 L369.07,1069.48 L369.29,1069.98 L369.51,1070.48 L369.74,1070.98 L369.96,1071.48 L370.18,1071.98 L370.38,1072.48 L370.57,1072.98 L370.73,1073.48 L370.87,1073.98 L370.98,1074.48 L371.07,1074.98 L371.14,1075.47 L371.2,1075.97 L371.24,1076.47 L371.28,1076.97 L371.3,1077.47 L371.33,1077.97 L371.35,1078.47 L371.36,1078.97 L371.37,1079.47 L371.38,1079.97 L371.38,1080.47 L371.38,1080.97 L371.37,1081.47 L371.36,1081.97 L371.34,1082.47 L371.32,1082.97 L371.3,1083.47 L371.27,1083.97 L371.24,1084.47 L371.21,1084.97 L371.18,1085.46 L371.14,1085.96 L371.11,1086.46 L371.07,1086.96 L371.02,1087.46 L370.98,1087.96 L370.93,1088.46 L370.87,1088.96 L370.81,1089.46 L370.74,1089.96 L370.66,1090.46 L370.56,1090.96 L370.44,1091.46 L370.29,1091.96 L370.09,1092.46 L369.84,1092.96 L369.52,1093.46 L369.12,1093.96 L368.62,1094.46 L368.03,1094.96 L367.34,1095.45 L366.56,1095.95 L365.71,1096.45 L364.8,1096.95 L363.84,1097.45 L362.84,1097.95 L361.81,1098.45 L360.75,1098.95 L359.66,1099.45 L358.55,1099.95 L357.42,1100.45 L356.27,1100.95 L355.09,1101.45 L353.92,1101.95 L352.74,1102.45 L351.56,1102.95 L350.34,1103.45 L349.1,1103.95 L347.91,1104.45 L346.88,1104.95 L346.06,1105.44 Z" fill="#a590da" stroke="#2a2627" stroke-width="2.6" stroke-linejoin="round"/>
<line x1="371.41" y1="1013.41" x2="371.41" y2="1002.42" stroke="#2a2627" stroke-width="2.6" stroke-linecap="round"/>
<path d="M454.33,1105.44 L453.5,1104.95 L452.47,1104.45 L451.28,1103.95 L450.04,1103.45 L448.82,1102.95 L447.64,1102.45 L446.47,1101.95 L445.29,1101.45 L444.12,1100.95 L442.96,1100.45 L441.83,1099.95 L440.72,1099.45 L439.64,1098.95 L438.58,1098.45 L437.55,1097.95 L436.55,1097.45 L435.59,1096.95 L434.67,1096.45 L433.82,1095.95 L433.04,1095.45 L432.35,1094.96 L431.76,1094.46 L431.27,1093.96 L430.86,1093.46 L430.54,1092.96 L430.29,1092.46 L430.1,1091.96 L429.94,1091.46 L429.82,1090.96 L429.72,1090.46 L429.64,1089.96 L429.57,1089.46 L429.51,1088.96 L429.45,1088.46 L429.4,1087.96 L429.35,1087.46 L429.31,1086.96 L429.27,1086.46 L429.23,1085.96 L429.2,1085.46 L429.17,1084.97 L429.14,1084.47 L429.12,1083.97 L429.1,1083.47 L429.08,1082.97 L429.06,1082.47 L429.04,1081.97 L429.03,1081.47 L429.02,1080.97 L429.01,1080.47 L429,1079.97 L428.99,1079.47 L428.99,1078.97 L428.99,1078.47 L428.99,1077.97 L429,1077.47 L429.01,1076.97 L429.02,1076.47 L429.04,1075.97 L429.06,1075.47 L429.08,1074.98 L429.11,1074.48 L429.14,1073.98 L429.17,1073.48 L429.22,1072.98 L429.27,1072.48 L429.33,1071.98 L429.4,1071.48 L429.49,1070.98 L429.6,1070.48 L429.71,1069.98 L429.84,1069.48 L429.98,1068.98 L430.13,1068.48 L430.28,1067.98 L430.43,1067.48 L430.59,1066.98 L430.74,1066.48 L430.89,1065.98 L431.03,1065.48 L431.18,1064.99 L431.32,1064.49 L431.45,1063.99 L431.59,1063.49 L431.73,1062.99 L431.87,1062.49 L432,1061.99 L432.13,1061.49 L432.26,1060.99 L432.38,1060.49 L432.49,1059.99 L432.6,1059.49 L432.68,1058.99 L432.76,1058.49 L432.82,1057.99 L432.85,1057.49 L432.88,1056.99 L432.88,1056.49 L432.86,1055.99 L432.83,1055.49 L432.78,1055 L432.72,1054.5 L432.64,1054 L432.56,1053.5 L432.46,1053 L432.37,1052.5 L432.27,1052 L432.17,1051.5 L432.07,1051 L431.98,1050.5 L431.89,1050 L431.8,1049.5 L431.71,1049 L431.63,1048.5 L431.55,1048 L431.46,1047.5 L431.38,1047 L431.3,1046.5 L431.22,1046 L431.14,1045.5 L431.06,1045 L430.98,1044.51 L430.91,1044.01 L430.83,1043.51 L430.75,1043.01 L430.67,1042.51 L430.59,1042.01 L430.51,1041.51 L430.43,1041.01 L430.35,1040.51 L430.27,1040.01 L430.19,1039.51 L430.11,1039.01 L430.04,1038.51 L429.97,1038.01 L429.9,1037.51 L429.84,1037.01 L429.78,1036.51 L429.72,1036.01 L429.67,1035.51 L429.63,1035.01 L429.59,1034.52 L429.55,1034.02 L429.51,1033.52 L429.48,1033.02 L429.44,1032.52 L429.41,1032.02 L429.38,1031.52 L429.36,1031.02 L429.33,1030.52 L429.3,1030.02 L429.28,1029.52 L429.26,1029.02 L429.23,1028.52 L429.21,1028.02 L429.19,1027.52 L429.17,1027.02 L429.16,1026.52 L429.14,1026.02 L429.12,1025.52 L429.11,1025.02 L429.09,1024.53 L429.08,1024.03 L429.07,1023.53 L429.05,1023.03 L429.04,1022.53 L429.03,1022.03 L429.02,1021.53 L429.01,1021.03 L429,1020.53 L429,1020.03 L428.99,1019.53 L428.99,1019.03 L428.98,1018.66 L428.97,1018.66 L428.97,1019.03 L428.96,1019.53 L428.95,1020.03 L428.95,1020.53 L428.94,1021.03 L428.93,1021.53 L428.92,1022.03 L428.91,1022.53 L428.9,1023.03 L428.89,1023.53 L428.87,1024.03 L428.86,1024.53 L428.84,1025.02 L428.83,1025.52 L428.81,1026.02 L428.8,1026.52 L428.78,1027.02 L428.76,1027.52 L428.74,1028.02 L428.72,1028.52 L428.7,1029.02 L428.67,1029.52 L428.65,1030.02 L428.62,1030.52 L428.6,1031.02 L428.57,1031.52 L428.54,1032.02 L428.51,1032.52 L428.48,1033.02 L428.44,1033.52 L428.41,1034.02 L428.37,1034.52 L428.32,1035.01 L428.28,1035.51 L428.23,1036.01 L428.17,1036.51 L428.11,1037.01 L428.05,1037.51 L427.98,1038.01 L427.91,1038.51 L427.84,1039.01 L427.76,1039.51 L427.68,1040.01 L427.61,1040.51 L427.53,1041.01 L427.44,1041.51 L427.36,1042.01 L427.28,1042.51 L427.2,1043.01 L427.12,1043.51 L427.05,1044.01 L426.97,1044.51 L426.89,1045 L426.81,1045.5 L426.73,1046 L426.65,1046.5 L426.57,1047 L426.49,1047.5 L426.41,1048 L426.32,1048.5 L426.24,1049 L426.15,1049.5 L426.06,1050 L425.97,1050.5 L425.88,1051 L425.78,1051.5 L425.68,1052 L425.58,1052.5 L425.49,1053 L425.4,1053.5 L425.31,1054 L425.24,1054.5 L425.17,1055 L425.12,1055.49 L425.09,1055.99 L425.07,1056.49 L425.08,1056.99 L425.1,1057.49 L425.14,1057.99 L425.19,1058.49 L425.27,1058.99 L425.36,1059.49 L425.46,1059.99 L425.57,1060.49 L425.69,1060.99 L425.82,1061.49 L425.95,1061.99 L426.09,1062.49 L426.22,1062.99 L426.36,1063.49 L426.5,1063.99 L426.64,1064.49 L426.78,1064.99 L426.92,1065.48 L427.06,1065.98 L427.21,1066.48 L427.36,1066.98 L427.52,1067.48 L427.67,1067.98 L427.82,1068.48 L427.97,1068.98 L428.11,1069.48 L428.24,1069.98 L428.36,1070.48 L428.46,1070.98 L428.55,1071.48 L428.62,1071.98 L428.68,1072.48 L428.74,1072.98 L428.78,1073.48 L428.81,1073.98 L428.84,1074.48 L428.87,1074.98 L428.89,1075.47 L428.91,1075.97 L428.93,1076.47 L428.94,1076.97 L428.95,1077.47 L428.96,1077.97 L428.96,1078.47 L428.96,1078.97 L428.96,1079.47 L428.95,1079.97 L428.95,1080.47 L428.94,1080.97 L428.92,1081.47 L428.91,1081.97 L428.89,1082.47 L428.88,1082.97 L428.86,1083.47 L428.83,1083.97 L428.81,1084.47 L428.78,1084.97 L428.75,1085.46 L428.72,1085.96 L428.68,1086.46 L428.64,1086.96 L428.6,1087.46 L428.55,1087.96 L428.5,1088.46 L428.44,1088.96 L428.38,1089.46 L428.31,1089.96 L428.23,1090.46 L428.13,1090.96 L428.01,1091.46 L427.86,1091.96 L427.66,1092.46 L427.41,1092.96 L427.09,1093.46 L426.69,1093.96 L426.19,1094.46 L425.6,1094.96 L424.91,1095.45 L424.13,1095.95 L423.28,1096.45 L422.37,1096.95 L421.4,1097.45 L420.4,1097.95 L419.37,1098.45 L418.31,1098.95 L417.23,1099.45 L416.12,1099.95 L414.99,1100.45 L413.83,1100.95 L412.66,1101.45 L411.48,1101.95 L410.31,1102.45 L409.13,1102.95 L407.91,1103.45 L406.67,1103.95 L405.48,1104.45 L404.45,1104.95 L403.63,1105.44 Z" fill="#c9ccf4" stroke="#2a2627" stroke-width="2.6" stroke-linejoin="round"/>
<line x1="428.98" y1="1019.66" x2="428.98" y2="957.72" stroke="#2a2627" stroke-width="2.6" stroke-linecap="round"/>
<path d="M538.74,1105.44 L591.69,1105.44 M565.21,1105.44 L565.21,1013.04" fill="none" stroke="#2a2627" stroke-width="2.6" stroke-linecap="round"/>
<path d="M648.01,1105.44 L647.18,1104.95 L646.11,1104.45 L644.85,1103.95 L643.54,1103.45 L642.26,1102.95 L641.03,1102.45 L639.8,1101.95 L638.56,1101.45 L637.34,1100.95 L636.13,1100.45 L634.95,1099.95 L633.79,1099.45 L632.67,1098.95 L631.57,1098.45 L630.51,1097.95 L629.49,1097.45 L628.52,1096.95 L627.62,1096.45 L626.8,1095.95 L626.08,1095.45 L625.46,1094.96 L624.94,1094.46 L624.53,1093.96 L624.2,1093.46 L623.94,1092.96 L623.75,1092.46 L623.6,1091.96 L623.48,1091.46 L623.38,1090.96 L623.3,1090.46 L623.24,1089.96 L623.18,1089.46 L623.12,1088.96 L623.07,1088.46 L623.03,1087.96 L622.99,1087.46 L622.95,1086.96 L622.91,1086.46 L622.88,1085.96 L622.85,1085.46 L622.82,1084.97 L622.79,1084.47 L622.76,1083.97 L622.74,1083.47 L622.72,1082.97 L622.7,1082.47 L622.69,1081.97 L622.68,1081.47 L622.68,1080.97 L622.67,1080.47 L622.68,1079.97 L622.68,1079.47 L622.69,1078.97 L622.69,1078.47 L622.7,1077.97 L622.71,1077.47 L622.73,1076.97 L622.74,1076.47 L622.75,1075.97 L622.77,1075.47 L622.78,1074.98 L622.79,1074.48 L622.81,1073.98 L622.82,1073.48 L622.84,1072.98 L622.86,1072.48 L622.87,1071.98 L622.89,1071.48 L622.92,1070.98 L622.94,1070.48 L622.97,1069.98 L623,1069.48 L623.04,1068.98 L623.08,1068.48 L623.13,1067.98 L623.19,1067.48 L623.26,1066.98 L623.34,1066.48 L623.43,1065.98 L623.52,1065.48 L623.62,1064.99 L623.73,1064.49 L623.84,1063.99 L623.96,1063.49 L624.08,1062.99 L624.19,1062.49 L624.31,1061.99 L624.42,1061.49 L624.53,1060.99 L624.64,1060.49 L624.75,1059.99 L624.86,1059.49 L624.97,1058.99 L625.07,1058.49 L625.18,1057.99 L625.29,1057.49 L625.41,1056.99 L625.52,1056.49 L625.63,1055.99 L625.74,1055.49 L625.84,1055 L625.94,1054.5 L626.04,1054 L626.13,1053.5 L626.21,1053 L626.28,1052.5 L626.34,1052 L626.39,1051.5 L626.43,1051 L626.46,1050.5 L626.47,1050 L626.48,1049.5 L626.47,1049 L626.46,1048.5 L626.44,1048 L626.41,1047.5 L626.37,1047 L626.33,1046.5 L626.28,1046 L626.23,1045.5 L626.17,1045 L626.11,1044.51 L626.05,1044.01 L625.98,1043.51 L625.91,1043.01 L625.84,1042.51 L625.77,1042.01 L625.7,1041.51 L625.63,1041.01 L625.56,1040.51 L625.49,1040.01 L625.42,1039.51 L625.36,1039.01 L625.3,1038.51 L625.24,1038.01 L625.18,1037.51 L625.12,1037.01 L625.06,1036.51 L625.01,1036.01 L624.95,1035.51 L624.9,1035.01 L624.85,1034.52 L624.79,1034.02 L624.74,1033.52 L624.69,1033.02 L624.63,1032.52 L624.58,1032.02 L624.53,1031.52 L624.47,1031.02 L624.42,1030.52 L624.37,1030.02 L624.32,1029.52 L624.27,1029.02 L624.22,1028.52 L624.18,1028.02 L624.13,1027.52 L624.09,1027.02 L624.04,1026.52 L624,1026.02 L623.96,1025.52 L623.92,1025.02 L623.88,1024.53 L623.84,1024.03 L623.81,1023.53 L623.77,1023.03 L623.74,1022.53 L623.7,1022.03 L623.67,1021.53 L623.63,1021.03 L623.6,1020.53 L623.57,1020.03 L623.53,1019.53 L623.5,1019.03 L623.47,1018.53 L623.44,1018.03 L623.41,1017.53 L623.38,1017.03 L623.36,1016.53 L623.33,1016.03 L623.3,1015.53 L623.28,1015.03 L623.25,1014.54 L623.23,1014.04 L623.21,1013.54 L623.19,1013.04 L623.16,1012.54 L623.14,1012.04 L623.12,1011.54 L623.1,1011.04 L623.08,1010.54 L623.07,1010.04 L623.05,1009.54 L623.03,1009.04 L623.01,1008.54 L622.99,1008.04 L622.98,1007.54 L622.96,1007.04 L622.94,1006.54 L622.93,1006.04 L622.91,1005.54 L622.9,1005.04 L622.89,1004.55 L622.87,1004.05 L622.86,1003.55 L622.85,1003.05 L622.83,1002.55 L622.82,1002.05 L622.81,1001.55 L622.8,1001.05 L622.79,1000.55 L622.79,1000.05 L622.78,999.55 L622.77,999.05 L622.76,998.55 L622.75,998.05 L622.75,997.55 L622.74,997.05 L622.73,996.55 L622.73,996.05 L622.72,995.55 L622.71,995.05 L622.71,994.56 L622.7,994.06 L622.7,993.56 L622.69,993.06 L622.69,992.56 L622.68,992.06 L622.68,991.56 L622.67,991.06 L622.67,990.56 L622.67,990.06 L622.66,989.56 L622.66,989.06 L622.66,988.56 L622.66,988.06 L622.66,987.56 L622.66,987.44 L622.66,987.44 L622.66,987.56 L622.66,988.06 L622.65,988.56 L622.65,989.06 L622.65,989.56 L622.65,990.06 L622.64,990.56 L622.64,991.06 L622.64,991.56 L622.63,992.06 L622.63,992.56 L622.62,993.06 L622.62,993.56 L622.61,994.06 L622.61,994.56 L622.6,995.05 L622.59,995.55 L622.59,996.05 L622.58,996.55 L622.57,997.05 L622.57,997.55 L622.56,998.05 L622.55,998.55 L622.54,999.05 L622.54,999.55 L622.53,1000.05 L622.52,1000.55 L622.51,1001.05 L622.5,1001.55 L622.49,1002.05 L622.48,1002.55 L622.47,1003.05 L622.46,1003.55 L622.44,1004.05 L622.43,1004.55 L622.42,1005.04 L622.4,1005.54 L622.39,1006.04 L622.37,1006.54 L622.35,1007.04 L622.34,1007.54 L622.32,1008.04 L622.3,1008.54 L622.29,1009.04 L622.27,1009.54 L622.25,1010.04 L622.23,1010.54 L622.21,1011.04 L622.19,1011.54 L622.17,1012.04 L622.15,1012.54 L622.13,1013.04 L622.11,1013.54 L622.08,1014.04 L622.06,1014.54 L622.04,1015.03 L622.01,1015.53 L621.98,1016.03 L621.96,1016.53 L621.93,1017.03 L621.9,1017.53 L621.87,1018.03 L621.84,1018.53 L621.81,1019.03 L621.78,1019.53 L621.75,1020.03 L621.72,1020.53 L621.68,1021.03 L621.65,1021.53 L621.61,1022.03 L621.58,1022.53 L621.54,1023.03 L621.51,1023.53 L621.47,1024.03 L621.43,1024.53 L621.39,1025.02 L621.35,1025.52 L621.31,1026.02 L621.27,1026.52 L621.23,1027.02 L621.18,1027.52 L621.14,1028.02 L621.09,1028.52 L621.04,1029.02 L620.99,1029.52 L620.94,1030.02 L620.89,1030.52 L620.84,1031.02 L620.79,1031.52 L620.74,1032.02 L620.68,1032.52 L620.63,1033.02 L620.58,1033.52 L620.52,1034.02 L620.47,1034.52 L620.41,1035.01 L620.36,1035.51 L620.31,1036.01 L620.25,1036.51 L620.19,1037.01 L620.14,1037.51 L620.08,1038.01 L620.02,1038.51 L619.96,1039.01 L619.89,1039.51 L619.82,1040.01 L619.76,1040.51 L619.69,1041.01 L619.61,1041.51 L619.54,1042.01 L619.47,1042.51 L619.4,1043.01 L619.34,1043.51 L619.27,1044.01 L619.21,1044.51 L619.14,1045 L619.09,1045.5 L619.03,1046 L618.99,1046.5 L618.94,1047 L618.91,1047.5 L618.88,1048 L618.85,1048.5 L618.84,1049 L618.83,1049.5 L618.84,1050 L618.86,1050.5 L618.88,1051 L618.92,1051.5 L618.97,1052 L619.04,1052.5 L619.11,1053 L619.19,1053.5 L619.28,1054 L619.37,1054.5 L619.47,1055 L619.58,1055.49 L619.69,1055.99 L619.8,1056.49 L619.91,1056.99 L620.02,1057.49 L620.13,1057.99 L620.24,1058.49 L620.35,1058.99 L620.46,1059.49 L620.56,1059.99 L620.67,1060.49 L620.78,1060.99 L620.89,1061.49 L621.01,1061.99 L621.12,1062.49 L621.24,1062.99 L621.36,1063.49 L621.47,1063.99 L621.58,1064.49 L621.69,1064.99 L621.79,1065.48 L621.89,1065.98 L621.98,1066.48 L622.05,1066.98 L622.12,1067.48 L622.18,1067.98 L622.23,1068.48 L622.28,1068.98 L622.31,1069.48 L622.35,1069.98 L622.37,1070.48 L622.4,1070.98 L622.42,1071.48 L622.44,1071.98 L622.46,1072.48 L622.48,1072.98 L622.49,1073.48 L622.51,1073.98 L622.52,1074.48 L622.54,1074.98 L622.55,1075.47 L622.56,1075.97 L622.58,1076.47 L622.59,1076.97 L622.6,1077.47 L622.61,1077.97 L622.62,1078.47 L622.63,1078.97 L622.64,1079.47 L622.64,1079.97 L622.64,1080.47 L622.64,1080.97 L622.63,1081.47 L622.62,1081.97 L622.61,1082.47 L622.59,1082.97 L622.57,1083.47 L622.55,1083.97 L622.53,1084.47 L622.5,1084.97 L622.47,1085.46 L622.44,1085.96 L622.4,1086.46 L622.37,1086.96 L622.33,1087.46 L622.29,1087.96 L622.24,1088.46 L622.19,1088.96 L622.14,1089.46 L622.08,1089.96 L622.01,1090.46 L621.93,1090.96 L621.84,1091.46 L621.72,1091.96 L621.57,1092.46 L621.37,1092.96 L621.12,1093.46 L620.79,1093.96 L620.37,1094.46 L619.86,1094.96 L619.23,1095.45 L618.51,1095.95 L617.69,1096.45 L616.79,1096.95 L615.82,1097.45 L614.8,1097.95 L613.74,1098.45 L612.65,1098.95 L611.52,1099.45 L610.36,1099.95 L609.18,1100.45 L607.98,1100.95 L606.75,1101.45 L605.52,1101.95 L604.28,1102.45 L603.05,1102.95 L601.78,1103.45 L600.47,1103.95 L599.21,1104.45 L598.14,1104.95 L597.31,1105.44 Z" fill="#d25c14" stroke="#2a2627" stroke-width="2.6" stroke-linejoin="round"/>
<line x1="622.66" y1="988.44" x2="622.66" y2="952.72" stroke="#2a2627" stroke-width="2.6" stroke-linecap="round"/>
<path d="M705.7,1105.44 L704.92,1104.95 L704.17,1104.45 L703.45,1103.95 L702.74,1103.45 L702.01,1102.95 L701.27,1102.45 L700.5,1101.95 L699.73,1101.45 L698.93,1100.95 L698.12,1100.45 L697.28,1099.95 L696.41,1099.45 L695.52,1098.95 L694.61,1098.45 L693.68,1097.95 L692.73,1097.45 L691.79,1096.95 L690.86,1096.45 L689.95,1095.95 L689.08,1095.45 L688.24,1094.96 L687.45,1094.46 L686.71,1093.96 L686.02,1093.46 L685.37,1092.96 L684.77,1092.46 L684.21,1091.96 L683.69,1091.46 L683.2,1090.96 L682.77,1090.46 L682.38,1089.96 L682.03,1089.46 L681.73,1088.96 L681.47,1088.46 L681.26,1087.96 L681.07,1087.46 L680.92,1086.96 L680.8,1086.46 L680.7,1085.96 L680.62,1085.46 L680.57,1084.97 L680.53,1084.47 L680.5,1083.97 L680.49,1083.47 L680.48,1082.97 L680.48,1082.47 L680.48,1081.97 L680.47,1081.47 L680.47,1080.97 L680.47,1080.47 L680.47,1079.97 L680.47,1079.47 L680.47,1078.97 L680.47,1078.47 L680.47,1077.97 L680.47,1077.47 L680.48,1076.97 L680.48,1076.47 L680.48,1075.97 L680.48,1075.47 L680.48,1074.98 L680.49,1074.48 L680.49,1073.98 L680.5,1073.48 L680.52,1072.98 L680.53,1072.48 L680.55,1071.98 L680.57,1071.48 L680.59,1070.98 L680.62,1070.48 L680.65,1069.98 L680.69,1069.48 L680.73,1068.98 L680.78,1068.48 L680.84,1067.98 L680.91,1067.48 L680.98,1066.98 L681.08,1066.48 L681.18,1065.98 L681.29,1065.48 L681.41,1064.99 L681.53,1064.49 L681.66,1063.99 L681.79,1063.49 L681.93,1062.99 L682.06,1062.49 L682.19,1061.99 L682.32,1061.49 L682.44,1060.99 L682.56,1060.49 L682.68,1059.99 L682.8,1059.49 L682.91,1058.99 L683.02,1058.49 L683.14,1057.99 L683.25,1057.49 L683.36,1056.99 L683.47,1056.49 L683.58,1055.99 L683.69,1055.49 L683.8,1055 L683.9,1054.5 L683.99,1054 L684.08,1053.5 L684.16,1053 L684.23,1052.5 L684.29,1052 L684.34,1051.5 L684.38,1051 L684.41,1050.5 L684.42,1050 L684.43,1049.5 L684.43,1049 L684.43,1048.5 L684.42,1048 L684.4,1047.5 L684.38,1047 L684.35,1046.5 L684.33,1046 L684.29,1045.5 L684.26,1045 L684.22,1044.51 L684.18,1044.01 L684.14,1043.51 L684.1,1043.01 L684.06,1042.51 L684.01,1042.01 L683.97,1041.51 L683.92,1041.01 L683.88,1040.51 L683.83,1040.01 L683.79,1039.51 L683.74,1039.01 L683.7,1038.51 L683.65,1038.01 L683.61,1037.51 L683.56,1037.01 L683.52,1036.51 L683.47,1036.01 L683.43,1035.51 L683.38,1035.01 L683.33,1034.52 L683.28,1034.02 L683.23,1033.52 L683.18,1033.02 L683.13,1032.52 L683.08,1032.02 L683.03,1031.52 L682.98,1031.02 L682.92,1030.52 L682.87,1030.02 L682.82,1029.52 L682.77,1029.02 L682.71,1028.52 L682.66,1028.02 L682.61,1027.52 L682.56,1027.02 L682.51,1026.52 L682.46,1026.02 L682.41,1025.52 L682.36,1025.02 L682.31,1024.53 L682.26,1024.03 L682.21,1023.53 L682.17,1023.03 L682.12,1022.53 L682.07,1022.03 L682.02,1021.53 L681.97,1021.03 L681.92,1020.53 L681.87,1020.03 L681.82,1019.53 L681.78,1019.03 L681.73,1018.53 L681.68,1018.03 L681.64,1017.53 L681.59,1017.03 L681.55,1016.53 L681.5,1016.03 L681.46,1015.53 L681.42,1015.03 L681.38,1014.54 L681.34,1014.04 L681.31,1013.54 L681.27,1013.04 L681.24,1012.54 L681.2,1012.04 L681.17,1011.54 L681.14,1011.04 L681.11,1010.54 L681.08,1010.04 L681.05,1009.54 L681.02,1009.04 L680.99,1008.54 L680.96,1008.04 L680.93,1007.54 L680.91,1007.04 L680.88,1006.54 L680.85,1006.04 L680.83,1005.54 L680.8,1005.04 L680.78,1004.55 L680.76,1004.05 L680.73,1003.55 L680.71,1003.05 L680.69,1002.55 L680.67,1002.05 L680.66,1001.55 L680.64,1001.05 L680.62,1000.55 L680.61,1000.05 L680.59,999.55 L680.58,999.05 L680.56,998.55 L680.55,998.05 L680.53,997.55 L680.52,997.05 L680.51,996.55 L680.5,996.05 L680.48,995.55 L680.47,995.05 L680.46,994.56 L680.45,994.06 L680.44,993.56 L680.43,993.06 L680.42,992.56 L680.41,992.06 L680.4,991.56 L680.39,991.06 L680.38,990.56 L680.38,990.06 L680.37,989.56 L680.37,989.06 L680.36,988.56 L680.36,988.06 L680.36,987.56 L680.35,987.44 L680.35,987.44 L680.34,987.56 L680.34,988.06 L680.34,988.56 L680.33,989.06 L680.33,989.56 L680.32,990.06 L680.32,990.56 L680.31,991.06 L680.3,991.56 L680.29,992.06 L680.28,992.56 L680.27,993.06 L680.26,993.56 L680.25,994.06 L680.24,994.56 L680.23,995.05 L680.22,995.55 L680.2,996.05 L680.19,996.55 L680.18,997.05 L680.17,997.55 L680.15,998.05 L680.14,998.55 L680.12,999.05 L680.11,999.55 L680.09,1000.05 L680.08,1000.55 L680.06,1001.05 L680.04,1001.55 L680.03,1002.05 L680.01,1002.55 L679.99,1003.05 L679.96,1003.55 L679.94,1004.05 L679.92,1004.55 L679.9,1005.04 L679.87,1005.54 L679.85,1006.04 L679.82,1006.54 L679.79,1007.04 L679.77,1007.54 L679.74,1008.04 L679.71,1008.54 L679.68,1009.04 L679.65,1009.54 L679.62,1010.04 L679.59,1010.54 L679.56,1011.04 L679.53,1011.54 L679.5,1012.04 L679.46,1012.54 L679.43,1013.04 L679.39,1013.54 L679.36,1014.04 L679.32,1014.54 L679.28,1015.03 L679.24,1015.53 L679.2,1016.03 L679.15,1016.53 L679.11,1017.03 L679.06,1017.53 L679.02,1018.03 L678.97,1018.53 L678.92,1019.03 L678.88,1019.53 L678.83,1020.03 L678.78,1020.53 L678.73,1021.03 L678.68,1021.53 L678.63,1022.03 L678.58,1022.53 L678.53,1023.03 L678.48,1023.53 L678.44,1024.03 L678.39,1024.53 L678.34,1025.02 L678.29,1025.52 L678.24,1026.02 L678.19,1026.52 L678.14,1027.02 L678.09,1027.52 L678.04,1028.02 L677.98,1028.52 L677.93,1029.02 L677.88,1029.52 L677.83,1030.02 L677.77,1030.52 L677.72,1031.02 L677.67,1031.52 L677.62,1032.02 L677.57,1032.52 L677.52,1033.02 L677.47,1033.52 L677.42,1034.02 L677.37,1034.52 L677.32,1035.01 L677.27,1035.51 L677.23,1036.01 L677.18,1036.51 L677.14,1037.01 L677.09,1037.51 L677.05,1038.01 L677,1038.51 L676.96,1039.01 L676.91,1039.51 L676.87,1040.01 L676.82,1040.51 L676.78,1041.01 L676.73,1041.51 L676.68,1042.01 L676.64,1042.51 L676.6,1043.01 L676.55,1043.51 L676.51,1044.01 L676.48,1044.51 L676.44,1045 L676.41,1045.5 L676.37,1046 L676.35,1046.5 L676.32,1047 L676.3,1047.5 L676.28,1048 L676.27,1048.5 L676.26,1049 L676.27,1049.5 L676.27,1050 L676.29,1050.5 L676.32,1051 L676.36,1051.5 L676.41,1052 L676.47,1052.5 L676.54,1053 L676.62,1053.5 L676.71,1054 L676.8,1054.5 L676.9,1055 L677.01,1055.49 L677.12,1055.99 L677.23,1056.49 L677.34,1056.99 L677.45,1057.49 L677.56,1057.99 L677.68,1058.49 L677.79,1058.99 L677.9,1059.49 L678.02,1059.99 L678.13,1060.49 L678.26,1060.99 L678.38,1061.49 L678.51,1061.99 L678.64,1062.49 L678.77,1062.99 L678.91,1063.49 L679.04,1063.99 L679.17,1064.49 L679.29,1064.99 L679.41,1065.48 L679.52,1065.98 L679.62,1066.48 L679.71,1066.98 L679.79,1067.48 L679.86,1067.98 L679.92,1068.48 L679.97,1068.98 L680.01,1069.48 L680.05,1069.98 L680.08,1070.48 L680.1,1070.98 L680.13,1071.48 L680.15,1071.98 L680.17,1072.48 L680.18,1072.98 L680.2,1073.48 L680.2,1073.98 L680.21,1074.48 L680.22,1074.98 L680.22,1075.47 L680.22,1075.97 L680.22,1076.47 L680.22,1076.97 L680.22,1077.47 L680.22,1077.97 L680.22,1078.47 L680.22,1078.97 L680.22,1079.47 L680.22,1079.97 L680.22,1080.47 L680.22,1080.97 L680.22,1081.47 L680.22,1081.97 L680.22,1082.47 L680.22,1082.97 L680.21,1083.47 L680.2,1083.97 L680.17,1084.47 L680.13,1084.97 L680.08,1085.46 L680,1085.96 L679.9,1086.46 L679.78,1086.96 L679.63,1087.46 L679.44,1087.96 L679.23,1088.46 L678.97,1088.96 L678.67,1089.46 L678.32,1089.96 L677.93,1090.46 L677.49,1090.96 L677.01,1091.46 L676.49,1091.96 L675.93,1092.46 L675.33,1092.96 L674.68,1093.46 L673.99,1093.96 L673.25,1094.46 L672.46,1094.96 L671.62,1095.45 L670.75,1095.95 L669.84,1096.45 L668.91,1096.95 L667.96,1097.45 L667.02,1097.95 L666.09,1098.45 L665.18,1098.95 L664.29,1099.45 L663.42,1099.95 L662.58,1100.45 L661.77,1100.95 L660.97,1101.45 L660.19,1101.95 L659.43,1102.45 L658.69,1102.95 L657.96,1103.45 L657.24,1103.95 L656.53,1104.45 L655.78,1104.95 L655,1105.44 Z" fill="#d8398b" stroke="#2a2627" stroke-width="2.6" stroke-linejoin="round"/>
<line x1="680.35" y1="988.44" x2="680.35" y2="942.11" stroke="#2a2627" stroke-width="2.6" stroke-linecap="round"/>
<path d="M763.27,1105.44 L762.44,1104.95 L761.37,1104.45 L760.11,1103.95 L758.8,1103.45 L757.52,1102.95 L756.29,1102.45 L755.06,1101.95 L753.82,1101.45 L752.6,1100.95 L751.39,1100.45 L750.21,1099.95 L749.05,1099.45 L747.93,1098.95 L746.83,1098.45 L745.77,1097.95 L744.75,1097.45 L743.78,1096.95 L742.88,1096.45 L742.06,1095.95 L741.34,1095.45 L740.72,1094.96 L740.2,1094.46 L739.79,1093.96 L739.46,1093.46 L739.2,1092.96 L739.01,1092.46 L738.86,1091.96 L738.74,1091.46 L738.64,1090.96 L738.56,1090.46 L738.5,1089.96 L738.44,1089.46 L738.38,1088.96 L738.33,1088.46 L738.29,1087.96 L738.25,1087.46 L738.21,1086.96 L738.17,1086.46 L738.14,1085.96 L738.1,1085.46 L738.08,1084.97 L738.05,1084.47 L738.02,1083.97 L738,1083.47 L737.98,1082.97 L737.96,1082.47 L737.95,1081.97 L737.94,1081.47 L737.93,1080.97 L737.93,1080.47 L737.92,1079.97 L737.92,1079.47 L737.92,1078.97 L737.92,1078.47 L737.93,1077.97 L737.93,1077.47 L737.93,1076.97 L737.94,1076.47 L737.94,1075.97 L737.94,1075.47 L737.95,1074.98 L737.95,1074.48 L737.96,1073.98 L737.97,1073.48 L737.97,1072.98 L737.98,1072.48 L737.99,1071.98 L737.99,1071.48 L738,1070.98 L738.01,1070.48 L738.02,1069.98 L738.03,1069.48 L738.05,1068.98 L738.07,1068.48 L738.09,1067.98 L738.12,1067.48 L738.16,1066.98 L738.2,1066.48 L738.25,1065.98 L738.31,1065.48 L738.37,1064.99 L738.44,1064.49 L738.51,1063.99 L738.58,1063.49 L738.66,1062.99 L738.74,1062.49 L738.82,1061.99 L738.9,1061.49 L738.99,1060.99 L739.08,1060.49 L739.17,1059.99 L739.26,1059.49 L739.36,1058.99 L739.47,1058.49 L739.58,1057.99 L739.7,1057.49 L739.82,1056.99 L739.95,1056.49 L740.07,1055.99 L740.19,1055.49 L740.31,1055 L740.42,1054.5 L740.52,1054 L740.61,1053.5 L740.69,1053 L740.75,1052.5 L740.8,1052 L740.83,1051.5 L740.85,1051 L740.85,1050.5 L740.85,1050 L740.83,1049.5 L740.8,1049 L740.76,1048.5 L740.72,1048 L740.67,1047.5 L740.62,1047 L740.56,1046.5 L740.49,1046 L740.43,1045.5 L740.36,1045 L740.28,1044.51 L740.21,1044.01 L740.13,1043.51 L740.05,1043.01 L739.98,1042.51 L739.9,1042.01 L739.83,1041.51 L739.75,1041.01 L739.68,1040.51 L739.61,1040.01 L739.55,1039.51 L739.48,1039.01 L739.42,1038.51 L739.37,1038.01 L739.32,1037.51 L739.27,1037.01 L739.22,1036.51 L739.18,1036.01 L739.14,1035.51 L739.09,1035.01 L739.05,1034.52 L739.01,1034.02 L738.97,1033.52 L738.94,1033.02 L738.9,1032.52 L738.86,1032.02 L738.83,1031.52 L738.79,1031.02 L738.76,1030.52 L738.72,1030.02 L738.69,1029.52 L738.66,1029.02 L738.63,1028.52 L738.59,1028.02 L738.56,1027.52 L738.54,1027.02 L738.51,1026.52 L738.48,1026.02 L738.45,1025.52 L738.43,1025.02 L738.4,1024.53 L738.37,1024.03 L738.35,1023.53 L738.32,1023.03 L738.3,1022.53 L738.28,1022.03 L738.25,1021.53 L738.23,1021.03 L738.21,1020.53 L738.19,1020.03 L738.17,1019.53 L738.14,1019.03 L738.12,1018.53 L738.1,1018.03 L738.08,1017.53 L738.07,1017.03 L738.05,1016.53 L738.03,1016.03 L738.01,1015.53 L738,1015.03 L737.98,1014.54 L737.97,1014.04 L737.95,1013.54 L737.94,1013.04 L737.94,1012.54 L737.93,1012.41 L737.9,1012.41 L737.9,1012.54 L737.89,1013.04 L737.88,1013.54 L737.87,1014.04 L737.85,1014.54 L737.84,1015.03 L737.82,1015.53 L737.8,1016.03 L737.79,1016.53 L737.77,1017.03 L737.75,1017.53 L737.73,1018.03 L737.71,1018.53 L737.69,1019.03 L737.67,1019.53 L737.65,1020.03 L737.63,1020.53 L737.6,1021.03 L737.58,1021.53 L737.56,1022.03 L737.53,1022.53 L737.51,1023.03 L737.48,1023.53 L737.46,1024.03 L737.43,1024.53 L737.41,1025.02 L737.38,1025.52 L737.35,1026.02 L737.33,1026.52 L737.3,1027.02 L737.27,1027.52 L737.24,1028.02 L737.21,1028.52 L737.18,1029.02 L737.14,1029.52 L737.11,1030.02 L737.08,1030.52 L737.04,1031.02 L737.01,1031.52 L736.97,1032.02 L736.94,1032.52 L736.9,1033.02 L736.86,1033.52 L736.82,1034.02 L736.78,1034.52 L736.74,1035.01 L736.7,1035.51 L736.66,1036.01 L736.61,1036.51 L736.57,1037.01 L736.52,1037.51 L736.47,1038.01 L736.41,1038.51 L736.35,1039.01 L736.29,1039.51 L736.22,1040.01 L736.15,1040.51 L736.08,1041.01 L736.01,1041.51 L735.93,1042.01 L735.86,1042.51 L735.78,1043.01 L735.7,1043.51 L735.63,1044.01 L735.55,1044.51 L735.48,1045 L735.41,1045.5 L735.34,1046 L735.28,1046.5 L735.22,1047 L735.16,1047.5 L735.11,1048 L735.07,1048.5 L735.03,1049 L735.01,1049.5 L734.99,1050 L734.98,1050.5 L734.98,1051 L735,1051.5 L735.04,1052 L735.08,1052.5 L735.15,1053 L735.22,1053.5 L735.31,1054 L735.42,1054.5 L735.53,1055 L735.64,1055.49 L735.76,1055.99 L735.89,1056.49 L736.01,1056.99 L736.13,1057.49 L736.25,1057.99 L736.36,1058.49 L736.47,1058.99 L736.57,1059.49 L736.67,1059.99 L736.76,1060.49 L736.85,1060.99 L736.93,1061.49 L737.01,1061.99 L737.1,1062.49 L737.18,1062.99 L737.25,1063.49 L737.33,1063.99 L737.4,1064.49 L737.46,1064.99 L737.53,1065.48 L737.58,1065.98 L737.63,1066.48 L737.67,1066.98 L737.71,1067.48 L737.74,1067.98 L737.76,1068.48 L737.78,1068.98 L737.8,1069.48 L737.81,1069.98 L737.82,1070.48 L737.83,1070.98 L737.84,1071.48 L737.85,1071.98 L737.86,1072.48 L737.86,1072.98 L737.87,1073.48 L737.87,1073.98 L737.88,1074.48 L737.88,1074.98 L737.89,1075.47 L737.89,1075.97 L737.9,1076.47 L737.9,1076.97 L737.9,1077.47 L737.91,1077.97 L737.91,1078.47 L737.91,1078.97 L737.91,1079.47 L737.91,1079.97 L737.91,1080.47 L737.9,1080.97 L737.9,1081.47 L737.88,1081.97 L737.87,1082.47 L737.85,1082.97 L737.83,1083.47 L737.81,1083.97 L737.79,1084.47 L737.76,1084.97 L737.73,1085.46 L737.7,1085.96 L737.66,1086.46 L737.63,1086.96 L737.59,1087.46 L737.55,1087.96 L737.5,1088.46 L737.45,1088.96 L737.4,1089.46 L737.34,1089.96 L737.27,1090.46 L737.19,1090.96 L737.1,1091.46 L736.98,1091.96 L736.83,1092.46 L736.63,1092.96 L736.38,1093.46 L736.05,1093.96 L735.63,1094.46 L735.12,1094.96 L734.49,1095.45 L733.77,1095.95 L732.95,1096.45 L732.05,1096.95 L731.08,1097.45 L730.06,1097.95 L729,1098.45 L727.91,1098.95 L726.78,1099.45 L725.62,1099.95 L724.44,1100.45 L723.24,1100.95 L722.01,1101.45 L720.78,1101.95 L719.54,1102.45 L718.31,1102.95 L717.04,1103.45 L715.73,1103.95 L714.47,1104.45 L713.4,1104.95 L712.57,1105.44 Z" fill="#6f66a6" stroke="#2a2627" stroke-width="2.6" stroke-linejoin="round"/>
<line x1="737.92" y1="1013.41" x2="737.92" y2="961.21" stroke="#2a2627" stroke-width="2.6" stroke-linecap="round"/>
<path d="M769.53,1105.44 L822.47,1105.44 M796,1105.44 L796,993.25" fill="none" stroke="#2a2627" stroke-width="2.6" stroke-linecap="round"/>
<path d="M827.28,1105.44 L880.22,1105.44 M853.75,1105.44 L853.75,968.75" fill="none" stroke="#2a2627" stroke-width="2.6" stroke-linecap="round"/>
<path d="M1012.81,1105.44 L1012,1104.95 L1011,1104.45 L1009.87,1103.95 L1008.69,1103.45 L1007.53,1102.95 L1006.4,1102.45 L1005.27,1101.95 L1004.15,1101.45 L1003.03,1100.95 L1001.92,1100.45 L1000.83,1099.95 L999.77,1099.45 L998.72,1098.95 L997.7,1098.45 L996.7,1097.95 L995.73,1097.45 L994.78,1096.95 L993.87,1096.45 L993.01,1095.95 L992.2,1095.45 L991.46,1094.96 L990.8,1094.46 L990.23,1093.96 L989.76,1093.46 L989.37,1092.96 L989.05,1092.46 L988.81,1091.96 L988.61,1091.46 L988.46,1090.96 L988.33,1090.46 L988.23,1089.96 L988.15,1089.46 L988.08,1088.96 L988.01,1088.46 L987.96,1087.96 L987.91,1087.46 L987.86,1086.96 L987.82,1086.46 L987.78,1085.96 L987.74,1085.46 L987.7,1084.97 L987.67,1084.47 L987.64,1083.97 L987.6,1083.47 L987.57,1082.97 L987.55,1082.47 L987.52,1081.97 L987.5,1081.47 L987.49,1080.97 L987.48,1080.47 L987.47,1079.97 L987.47,1079.47 L987.47,1078.97 L987.47,1078.47 L987.47,1077.97 L987.47,1077.47 L987.47,1076.97 L987.48,1076.47 L987.48,1075.97 L987.48,1075.47 L987.49,1074.98 L987.49,1074.48 L987.5,1073.98 L987.5,1073.48 L987.51,1072.98 L987.51,1072.48 L987.52,1071.98 L987.52,1071.48 L987.53,1070.98 L987.54,1070.48 L987.55,1069.98 L987.55,1069.48 L987.56,1068.98 L987.57,1068.48 L987.58,1067.98 L987.6,1067.48 L987.62,1066.98 L987.64,1066.48 L987.67,1065.98 L987.7,1065.48 L987.75,1064.99 L987.81,1064.49 L987.89,1063.99 L987.98,1063.49 L988.11,1062.99 L988.25,1062.49 L988.43,1061.99 L988.63,1061.49 L988.85,1060.99 L989.08,1060.49 L989.32,1059.99 L989.57,1059.49 L989.81,1058.99 L990.04,1058.49 L990.26,1057.99 L990.47,1057.49 L990.67,1056.99 L990.86,1056.49 L991.03,1055.99 L991.2,1055.49 L991.37,1055 L991.52,1054.5 L991.67,1054 L991.8,1053.5 L991.92,1053 L992.02,1052.5 L992.1,1052 L992.17,1051.5 L992.21,1051 L992.22,1050.5 L992.22,1050 L992.19,1049.5 L992.15,1049 L992.08,1048.5 L992,1048 L991.91,1047.5 L991.8,1047 L991.69,1046.5 L991.57,1046 L991.44,1045.5 L991.31,1045 L991.18,1044.51 L991.04,1044.01 L990.9,1043.51 L990.75,1043.01 L990.6,1042.51 L990.45,1042.01 L990.28,1041.51 L990.12,1041.01 L989.95,1040.51 L989.78,1040.01 L989.62,1039.51 L989.46,1039.01 L989.31,1038.51 L989.17,1038.01 L989.03,1037.51 L988.9,1037.01 L988.78,1036.51 L988.67,1036.01 L988.56,1035.51 L988.46,1035.01 L988.36,1034.52 L988.27,1034.02 L988.18,1033.52 L988.1,1033.02 L988.03,1032.52 L987.96,1032.02 L987.9,1031.52 L987.85,1031.02 L987.8,1030.52 L987.75,1030.02 L987.71,1029.52 L987.67,1029.02 L987.63,1028.52 L987.6,1028.02 L987.57,1027.52 L987.54,1027.02 L987.52,1026.52 L987.5,1026.02 L987.49,1025.52 L987.48,1025.02 L987.47,1024.9 L987.45,1024.9 L987.45,1025.02 L987.44,1025.52 L987.42,1026.02 L987.41,1026.52 L987.38,1027.02 L987.36,1027.52 L987.33,1028.02 L987.3,1028.52 L987.26,1029.02 L987.22,1029.52 L987.18,1030.02 L987.13,1030.52 L987.08,1031.02 L987.02,1031.52 L986.96,1032.02 L986.9,1032.52 L986.82,1033.02 L986.74,1033.52 L986.66,1034.02 L986.56,1034.52 L986.47,1035.01 L986.36,1035.51 L986.25,1036.01 L986.14,1036.51 L986.02,1037.01 L985.89,1037.51 L985.76,1038.01 L985.61,1038.51 L985.46,1039.01 L985.3,1039.51 L985.14,1040.01 L984.97,1040.51 L984.81,1041.01 L984.64,1041.51 L984.48,1042.01 L984.32,1042.51 L984.17,1043.01 L984.02,1043.51 L983.88,1044.01 L983.75,1044.51 L983.61,1045 L983.48,1045.5 L983.36,1046 L983.23,1046.5 L983.12,1047 L983.02,1047.5 L982.92,1048 L982.84,1048.5 L982.78,1049 L982.73,1049.5 L982.71,1050 L982.7,1050.5 L982.72,1051 L982.76,1051.5 L982.82,1052 L982.91,1052.5 L983.01,1053 L983.13,1053.5 L983.26,1054 L983.4,1054.5 L983.56,1055 L983.72,1055.49 L983.89,1055.99 L984.07,1056.49 L984.26,1056.99 L984.45,1057.49 L984.66,1057.99 L984.88,1058.49 L985.12,1058.99 L985.36,1059.49 L985.6,1059.99 L985.84,1060.49 L986.08,1060.99 L986.3,1061.49 L986.5,1061.99 L986.67,1062.49 L986.82,1062.99 L986.94,1063.49 L987.04,1063.99 L987.11,1064.49 L987.17,1064.99 L987.22,1065.48 L987.26,1065.98 L987.29,1066.48 L987.31,1066.98 L987.33,1067.48 L987.34,1067.98 L987.35,1068.48 L987.36,1068.98 L987.37,1069.48 L987.38,1069.98 L987.39,1070.48 L987.39,1070.98 L987.4,1071.48 L987.41,1071.98 L987.41,1072.48 L987.42,1072.98 L987.42,1073.48 L987.43,1073.98 L987.43,1074.48 L987.44,1074.98 L987.44,1075.47 L987.44,1075.97 L987.45,1076.47 L987.45,1076.97 L987.45,1077.47 L987.45,1077.97 L987.46,1078.47 L987.46,1078.97 L987.46,1079.47 L987.45,1079.97 L987.45,1080.47 L987.44,1080.97 L987.42,1081.47 L987.4,1081.97 L987.38,1082.47 L987.35,1082.97 L987.32,1083.47 L987.29,1083.97 L987.26,1084.47 L987.22,1084.97 L987.19,1085.46 L987.15,1085.96 L987.11,1086.46 L987.06,1086.96 L987.02,1087.46 L986.97,1087.96 L986.91,1088.46 L986.85,1088.96 L986.78,1089.46 L986.69,1089.96 L986.59,1090.46 L986.47,1090.96 L986.31,1091.46 L986.12,1091.96 L985.87,1092.46 L985.56,1092.96 L985.17,1093.46 L984.69,1093.96 L984.12,1094.46 L983.47,1094.96 L982.73,1095.45 L981.92,1095.95 L981.05,1096.45 L980.14,1096.95 L979.2,1097.45 L978.22,1097.95 L977.23,1098.45 L976.2,1098.95 L975.16,1099.45 L974.09,1099.95 L973,1100.45 L971.9,1100.95 L970.78,1101.45 L969.65,1101.95 L968.53,1102.45 L967.4,1102.95 L966.23,1103.45 L965.06,1103.95 L963.93,1104.45 L962.93,1104.95 L962.11,1105.44 Z" fill="#4ba886" stroke="#2a2627" stroke-width="2.6" stroke-linejoin="round"/>
<line x1="987.46" y1="1025.9" x2="987.46" y2="989.69" stroke="#2a2627" stroke-width="2.6" stroke-linecap="round"/>
<path d="M1070.25,1105.44 L1069.44,1104.95 L1068.48,1104.45 L1067.4,1103.95 L1066.28,1103.45 L1065.17,1102.95 L1064.09,1102.45 L1063.01,1101.95 L1061.93,1101.45 L1060.85,1100.95 L1059.79,1100.45 L1058.75,1099.95 L1057.72,1099.45 L1056.71,1098.95 L1055.73,1098.45 L1054.76,1097.95 L1053.82,1097.45 L1052.89,1096.95 L1052,1096.45 L1051.14,1095.95 L1050.31,1095.45 L1049.54,1094.96 L1048.84,1094.46 L1048.21,1093.96 L1047.67,1093.46 L1047.21,1092.96 L1046.83,1092.46 L1046.52,1091.96 L1046.28,1091.46 L1046.08,1090.96 L1045.93,1090.46 L1045.8,1089.96 L1045.7,1089.46 L1045.61,1088.96 L1045.54,1088.46 L1045.47,1087.96 L1045.42,1087.46 L1045.36,1086.96 L1045.32,1086.46 L1045.28,1085.96 L1045.24,1085.46 L1045.2,1084.97 L1045.16,1084.47 L1045.12,1083.97 L1045.09,1083.47 L1045.05,1082.97 L1045.02,1082.47 L1044.99,1081.97 L1044.97,1081.47 L1044.95,1080.97 L1044.93,1080.47 L1044.92,1079.97 L1044.92,1079.47 L1044.92,1078.97 L1044.92,1078.47 L1044.92,1077.97 L1044.92,1077.47 L1044.93,1076.97 L1044.93,1076.47 L1044.94,1075.97 L1044.95,1075.47 L1044.95,1074.98 L1044.96,1074.48 L1044.97,1073.98 L1044.98,1073.48 L1044.99,1072.98 L1045,1072.48 L1045.01,1071.98 L1045.03,1071.48 L1045.04,1070.98 L1045.05,1070.48 L1045.07,1069.98 L1045.09,1069.48 L1045.11,1068.98 L1045.13,1068.48 L1045.17,1067.98 L1045.21,1067.48 L1045.26,1066.98 L1045.33,1066.48 L1045.42,1065.98 L1045.52,1065.48 L1045.63,1064.99 L1045.77,1064.49 L1045.91,1063.99 L1046.07,1063.49 L1046.24,1062.99 L1046.41,1062.49 L1046.61,1061.99 L1046.81,1061.49 L1047.03,1060.99 L1047.25,1060.49 L1047.49,1059.99 L1047.73,1059.49 L1047.97,1058.99 L1048.21,1058.49 L1048.45,1057.99 L1048.67,1057.49 L1048.88,1056.99 L1049.08,1056.49 L1049.26,1055.99 L1049.43,1055.49 L1049.6,1055 L1049.75,1054.5 L1049.9,1054 L1050.05,1053.5 L1050.19,1053 L1050.33,1052.5 L1050.46,1052 L1050.59,1051.5 L1050.71,1051 L1050.82,1050.5 L1050.92,1050 L1051.01,1049.5 L1051.1,1049 L1051.17,1048.5 L1051.23,1048 L1051.28,1047.5 L1051.31,1047 L1051.34,1046.5 L1051.35,1046 L1051.35,1045.5 L1051.33,1045 L1051.31,1044.51 L1051.29,1044.01 L1051.25,1043.51 L1051.21,1043.01 L1051.16,1042.51 L1051.11,1042.01 L1051.05,1041.51 L1050.99,1041.01 L1050.93,1040.51 L1050.87,1040.01 L1050.8,1039.51 L1050.74,1039.01 L1050.67,1038.51 L1050.6,1038.01 L1050.54,1037.51 L1050.47,1037.01 L1050.4,1036.51 L1050.32,1036.01 L1050.25,1035.51 L1050.17,1035.01 L1050.09,1034.52 L1050.01,1034.02 L1049.92,1033.52 L1049.84,1033.02 L1049.75,1032.52 L1049.66,1032.02 L1049.57,1031.52 L1049.47,1031.02 L1049.38,1030.52 L1049.29,1030.02 L1049.2,1029.52 L1049.11,1029.02 L1049.02,1028.52 L1048.93,1028.02 L1048.84,1027.52 L1048.75,1027.02 L1048.67,1026.52 L1048.59,1026.02 L1048.51,1025.52 L1048.43,1025.02 L1048.35,1024.53 L1048.28,1024.03 L1048.21,1023.53 L1048.13,1023.03 L1048.06,1022.53 L1047.99,1022.03 L1047.92,1021.53 L1047.86,1021.03 L1047.79,1020.53 L1047.72,1020.03 L1047.65,1019.53 L1047.59,1019.03 L1047.52,1018.53 L1047.46,1018.03 L1047.4,1017.53 L1047.33,1017.03 L1047.27,1016.53 L1047.21,1016.03 L1047.15,1015.53 L1047.09,1015.03 L1047.03,1014.54 L1046.97,1014.04 L1046.91,1013.54 L1046.85,1013.04 L1046.79,1012.54 L1046.74,1012.04 L1046.68,1011.54 L1046.62,1011.04 L1046.56,1010.54 L1046.51,1010.04 L1046.45,1009.54 L1046.39,1009.04 L1046.33,1008.54 L1046.28,1008.04 L1046.22,1007.54 L1046.17,1007.04 L1046.11,1006.54 L1046.06,1006.04 L1046.01,1005.54 L1045.96,1005.04 L1045.91,1004.55 L1045.86,1004.05 L1045.81,1003.55 L1045.77,1003.05 L1045.73,1002.55 L1045.69,1002.05 L1045.65,1001.55 L1045.61,1001.05 L1045.58,1000.55 L1045.54,1000.05 L1045.51,999.55 L1045.49,999.05 L1045.46,998.55 L1045.43,998.05 L1045.41,997.55 L1045.38,997.05 L1045.36,996.55 L1045.33,996.05 L1045.31,995.55 L1045.29,995.05 L1045.27,994.56 L1045.25,994.06 L1045.23,993.56 L1045.21,993.06 L1045.19,992.56 L1045.17,992.06 L1045.16,991.56 L1045.14,991.06 L1045.12,990.56 L1045.11,990.06 L1045.09,989.56 L1045.08,989.06 L1045.06,988.56 L1045.05,988.06 L1045.04,987.56 L1045.02,987.06 L1045.01,986.56 L1045,986.06 L1044.99,985.56 L1044.98,985.06 L1044.97,984.57 L1044.96,984.07 L1044.95,983.57 L1044.94,983.07 L1044.93,982.57 L1044.92,982.07 L1044.92,981.57 L1044.91,981.19 L1044.9,981.19 L1044.89,981.57 L1044.89,982.07 L1044.88,982.57 L1044.87,983.07 L1044.86,983.57 L1044.85,984.07 L1044.84,984.57 L1044.83,985.06 L1044.82,985.56 L1044.81,986.06 L1044.8,986.56 L1044.79,987.06 L1044.77,987.56 L1044.76,988.06 L1044.75,988.56 L1044.73,989.06 L1044.72,989.56 L1044.7,990.06 L1044.69,990.56 L1044.67,991.06 L1044.65,991.56 L1044.64,992.06 L1044.62,992.56 L1044.6,993.06 L1044.58,993.56 L1044.56,994.06 L1044.54,994.56 L1044.52,995.05 L1044.5,995.55 L1044.48,996.05 L1044.45,996.55 L1044.43,997.05 L1044.4,997.55 L1044.38,998.05 L1044.35,998.55 L1044.32,999.05 L1044.3,999.55 L1044.27,1000.05 L1044.23,1000.55 L1044.2,1001.05 L1044.16,1001.55 L1044.13,1002.05 L1044.08,1002.55 L1044.04,1003.05 L1044,1003.55 L1043.95,1004.05 L1043.9,1004.55 L1043.85,1005.04 L1043.8,1005.54 L1043.75,1006.04 L1043.7,1006.54 L1043.64,1007.04 L1043.59,1007.54 L1043.53,1008.04 L1043.48,1008.54 L1043.42,1009.04 L1043.36,1009.54 L1043.31,1010.04 L1043.25,1010.54 L1043.19,1011.04 L1043.13,1011.54 L1043.07,1012.04 L1043.02,1012.54 L1042.96,1013.04 L1042.9,1013.54 L1042.84,1014.04 L1042.78,1014.54 L1042.72,1015.03 L1042.66,1015.53 L1042.6,1016.03 L1042.54,1016.53 L1042.48,1017.03 L1042.42,1017.53 L1042.35,1018.03 L1042.29,1018.53 L1042.22,1019.03 L1042.16,1019.53 L1042.09,1020.03 L1042.02,1020.53 L1041.95,1021.03 L1041.89,1021.53 L1041.82,1022.03 L1041.75,1022.53 L1041.68,1023.03 L1041.6,1023.53 L1041.53,1024.03 L1041.46,1024.53 L1041.38,1025.02 L1041.3,1025.52 L1041.22,1026.02 L1041.14,1026.52 L1041.06,1027.02 L1040.97,1027.52 L1040.88,1028.02 L1040.79,1028.52 L1040.7,1029.02 L1040.61,1029.52 L1040.52,1030.02 L1040.43,1030.52 L1040.34,1031.02 L1040.24,1031.52 L1040.15,1032.02 L1040.06,1032.52 L1039.97,1033.02 L1039.89,1033.52 L1039.8,1034.02 L1039.72,1034.52 L1039.64,1035.01 L1039.56,1035.51 L1039.49,1036.01 L1039.41,1036.51 L1039.34,1037.01 L1039.27,1037.51 L1039.21,1038.01 L1039.14,1038.51 L1039.07,1039.01 L1039.01,1039.51 L1038.94,1040.01 L1038.88,1040.51 L1038.82,1041.01 L1038.76,1041.51 L1038.7,1042.01 L1038.65,1042.51 L1038.6,1043.01 L1038.56,1043.51 L1038.52,1044.01 L1038.5,1044.51 L1038.48,1045 L1038.46,1045.5 L1038.46,1046 L1038.47,1046.5 L1038.5,1047 L1038.53,1047.5 L1038.58,1048 L1038.64,1048.5 L1038.71,1049 L1038.8,1049.5 L1038.89,1050 L1038.99,1050.5 L1039.1,1051 L1039.22,1051.5 L1039.35,1052 L1039.48,1052.5 L1039.62,1053 L1039.76,1053.5 L1039.91,1054 L1040.06,1054.5 L1040.21,1055 L1040.38,1055.49 L1040.55,1055.99 L1040.73,1056.49 L1040.93,1056.99 L1041.14,1057.49 L1041.36,1057.99 L1041.6,1058.49 L1041.84,1058.99 L1042.08,1059.49 L1042.32,1059.99 L1042.56,1060.49 L1042.78,1060.99 L1043,1061.49 L1043.2,1061.99 L1043.4,1062.49 L1043.58,1062.99 L1043.74,1063.49 L1043.9,1063.99 L1044.04,1064.49 L1044.18,1064.99 L1044.29,1065.48 L1044.39,1065.98 L1044.48,1066.48 L1044.55,1066.98 L1044.6,1067.48 L1044.64,1067.98 L1044.68,1068.48 L1044.7,1068.98 L1044.72,1069.48 L1044.74,1069.98 L1044.76,1070.48 L1044.77,1070.98 L1044.78,1071.48 L1044.8,1071.98 L1044.81,1072.48 L1044.82,1072.98 L1044.83,1073.48 L1044.84,1073.98 L1044.85,1074.48 L1044.86,1074.98 L1044.86,1075.47 L1044.87,1075.97 L1044.88,1076.47 L1044.88,1076.97 L1044.89,1077.47 L1044.89,1077.97 L1044.89,1078.47 L1044.89,1078.97 L1044.89,1079.47 L1044.89,1079.97 L1044.88,1080.47 L1044.86,1080.97 L1044.84,1081.47 L1044.82,1081.97 L1044.79,1082.47 L1044.76,1082.97 L1044.72,1083.47 L1044.69,1083.97 L1044.65,1084.47 L1044.61,1084.97 L1044.57,1085.46 L1044.53,1085.96 L1044.49,1086.46 L1044.45,1086.96 L1044.39,1087.46 L1044.34,1087.96 L1044.27,1088.46 L1044.2,1088.96 L1044.11,1089.46 L1044.01,1089.96 L1043.88,1090.46 L1043.73,1090.96 L1043.53,1091.46 L1043.29,1091.96 L1042.98,1092.46 L1042.6,1092.96 L1042.14,1093.46 L1041.6,1093.96 L1040.97,1094.46 L1040.27,1094.96 L1039.5,1095.45 L1038.67,1095.95 L1037.81,1096.45 L1036.92,1096.95 L1035.99,1097.45 L1035.05,1097.95 L1034.08,1098.45 L1033.1,1098.95 L1032.09,1099.45 L1031.06,1099.95 L1030.02,1100.45 L1028.96,1100.95 L1027.88,1101.45 L1026.8,1101.95 L1025.73,1102.45 L1024.64,1102.95 L1023.53,1103.45 L1022.41,1103.95 L1021.33,1104.45 L1020.37,1104.95 L1019.56,1105.44 Z" fill="#d25c14" stroke="#2a2627" stroke-width="2.6" stroke-linejoin="round"/>
<line x1="1044.91" y1="982.19" x2="1044.91" y2="956.84" stroke="#2a2627" stroke-width="2.6" stroke-linecap="round"/>
<path d="M1127.7,1105.44 L1126.93,1104.95 L1126.39,1104.45 L1125.94,1103.95 L1125.52,1103.45 L1125.12,1102.95 L1124.73,1102.45 L1124.32,1101.95 L1123.9,1101.45 L1123.47,1100.95 L1123.02,1100.45 L1122.55,1099.95 L1122.06,1099.45 L1121.53,1098.95 L1120.98,1098.45 L1120.41,1097.95 L1119.82,1097.45 L1119.21,1096.95 L1118.58,1096.45 L1117.94,1095.95 L1117.29,1095.45 L1116.63,1094.96 L1115.96,1094.46 L1115.28,1093.96 L1114.58,1093.46 L1113.87,1092.96 L1113.14,1092.46 L1112.41,1091.96 L1111.66,1091.46 L1110.92,1090.96 L1110.19,1090.46 L1109.47,1089.96 L1108.78,1089.46 L1108.12,1088.96 L1107.51,1088.46 L1106.94,1087.96 L1106.41,1087.46 L1105.92,1086.96 L1105.47,1086.46 L1105.06,1085.96 L1104.68,1085.46 L1104.34,1084.97 L1104.03,1084.47 L1103.75,1083.97 L1103.52,1083.47 L1103.32,1082.97 L1103.16,1082.47 L1103.04,1081.97 L1102.94,1081.47 L1102.87,1080.97 L1102.82,1080.47 L1102.79,1079.97 L1102.77,1079.47 L1102.77,1078.97 L1102.78,1078.47 L1102.79,1077.97 L1102.81,1077.47 L1102.84,1076.97 L1102.87,1076.47 L1102.9,1075.97 L1102.94,1075.47 L1102.99,1074.98 L1103.04,1074.48 L1103.09,1073.98 L1103.16,1073.48 L1103.23,1072.98 L1103.32,1072.48 L1103.41,1071.98 L1103.51,1071.48 L1103.62,1070.98 L1103.74,1070.48 L1103.88,1069.98 L1104.03,1069.48 L1104.21,1068.98 L1104.4,1068.48 L1104.63,1067.98 L1104.88,1067.48 L1105.16,1066.98 L1105.48,1066.48 L1105.81,1065.98 L1106.17,1065.48 L1106.55,1064.99 L1106.93,1064.49 L1107.32,1063.99 L1107.71,1063.49 L1108.1,1062.99 L1108.49,1062.49 L1108.88,1061.99 L1109.27,1061.49 L1109.66,1060.99 L1110.04,1060.49 L1110.43,1059.99 L1110.81,1059.49 L1111.17,1058.99 L1111.52,1058.49 L1111.85,1057.99 L1112.15,1057.49 L1112.43,1056.99 L1112.68,1056.49 L1112.91,1055.99 L1113.11,1055.49 L1113.3,1055 L1113.48,1054.5 L1113.64,1054 L1113.8,1053.5 L1113.95,1053 L1114.1,1052.5 L1114.24,1052 L1114.38,1051.5 L1114.51,1051 L1114.63,1050.5 L1114.75,1050 L1114.86,1049.5 L1114.97,1049 L1115.06,1048.5 L1115.15,1048 L1115.23,1047.5 L1115.3,1047 L1115.37,1046.5 L1115.42,1046 L1115.46,1045.5 L1115.5,1045 L1115.53,1044.51 L1115.54,1044.01 L1115.55,1043.51 L1115.56,1043.01 L1115.56,1042.51 L1115.55,1042.01 L1115.54,1041.51 L1115.52,1041.01 L1115.5,1040.51 L1115.48,1040.01 L1115.46,1039.51 L1115.43,1039.01 L1115.4,1038.51 L1115.37,1038.01 L1115.34,1037.51 L1115.31,1037.01 L1115.27,1036.51 L1115.23,1036.01 L1115.19,1035.51 L1115.15,1035.01 L1115.11,1034.52 L1115.07,1034.02 L1115.03,1033.52 L1114.98,1033.02 L1114.94,1032.52 L1114.89,1032.02 L1114.85,1031.52 L1114.81,1031.02 L1114.76,1030.52 L1114.72,1030.02 L1114.68,1029.52 L1114.64,1029.02 L1114.6,1028.52 L1114.56,1028.02 L1114.52,1027.52 L1114.48,1027.02 L1114.45,1026.52 L1114.41,1026.02 L1114.38,1025.52 L1114.35,1025.02 L1114.32,1024.53 L1114.3,1024.03 L1114.27,1023.53 L1114.25,1023.03 L1114.22,1022.53 L1114.2,1022.03 L1114.18,1021.53 L1114.16,1021.03 L1114.14,1020.53 L1114.12,1020.03 L1114.1,1019.53 L1114.07,1019.03 L1114.05,1018.53 L1114.03,1018.03 L1114.01,1017.53 L1113.99,1017.03 L1113.96,1016.53 L1113.94,1016.03 L1113.91,1015.53 L1113.88,1015.03 L1113.85,1014.54 L1113.82,1014.04 L1113.78,1013.54 L1113.74,1013.04 L1113.7,1012.54 L1113.65,1012.04 L1113.59,1011.54 L1113.53,1011.04 L1113.46,1010.54 L1113.39,1010.04 L1113.31,1009.54 L1113.22,1009.04 L1113.13,1008.54 L1113.03,1008.04 L1112.92,1007.54 L1112.82,1007.04 L1112.7,1006.54 L1112.59,1006.04 L1112.47,1005.54 L1112.35,1005.04 L1112.23,1004.55 L1112.1,1004.05 L1111.98,1003.55 L1111.85,1003.05 L1111.73,1002.55 L1111.61,1002.05 L1111.48,1001.55 L1111.36,1001.05 L1111.24,1000.55 L1111.12,1000.05 L1111,999.55 L1110.88,999.05 L1110.76,998.55 L1110.64,998.05 L1110.52,997.55 L1110.4,997.05 L1110.28,996.55 L1110.16,996.05 L1110.03,995.55 L1109.91,995.05 L1109.78,994.56 L1109.66,994.06 L1109.53,993.56 L1109.4,993.06 L1109.27,992.56 L1109.15,992.06 L1109.02,991.56 L1108.89,991.06 L1108.76,990.56 L1108.63,990.06 L1108.51,989.56 L1108.38,989.06 L1108.25,988.56 L1108.12,988.06 L1108,987.56 L1107.87,987.06 L1107.74,986.56 L1107.61,986.06 L1107.48,985.56 L1107.35,985.06 L1107.22,984.57 L1107.09,984.07 L1106.95,983.57 L1106.82,983.07 L1106.69,982.57 L1106.56,982.07 L1106.42,981.57 L1106.29,981.07 L1106.16,980.57 L1106.03,980.07 L1105.91,979.57 L1105.78,979.07 L1105.66,978.57 L1105.54,978.07 L1105.42,977.57 L1105.31,977.07 L1105.2,976.57 L1105.09,976.07 L1104.98,975.57 L1104.88,975.07 L1104.78,974.58 L1104.68,974.08 L1104.58,973.58 L1104.49,973.08 L1104.39,972.58 L1104.3,972.08 L1104.21,971.58 L1104.12,971.08 L1104.03,970.58 L1103.94,970.08 L1103.86,969.58 L1103.77,969.08 L1103.69,968.58 L1103.61,968.08 L1103.53,967.58 L1103.45,967.08 L1103.38,966.58 L1103.31,966.08 L1103.24,965.58 L1103.17,965.08 L1103.1,964.59 L1103.04,964.09 L1102.98,963.59 L1102.93,963.09 L1102.87,962.59 L1102.82,962.09 L1102.77,961.59 L1102.72,961.09 L1102.67,960.59 L1102.63,960.09 L1102.59,959.59 L1102.55,959.09 L1102.51,958.59 L1102.48,958.09 L1102.45,957.59 L1102.42,957.09 L1102.4,956.59 L1102.38,956.22 L1102.31,956.22 L1102.3,956.59 L1102.28,957.09 L1102.25,957.59 L1102.22,958.09 L1102.18,958.59 L1102.15,959.09 L1102.11,959.59 L1102.07,960.09 L1102.02,960.59 L1101.98,961.09 L1101.93,961.59 L1101.88,962.09 L1101.82,962.59 L1101.77,963.09 L1101.71,963.59 L1101.65,964.09 L1101.59,964.59 L1101.53,965.08 L1101.46,965.58 L1101.39,966.08 L1101.32,966.58 L1101.24,967.08 L1101.17,967.58 L1101.09,968.08 L1101.01,968.58 L1100.92,969.08 L1100.84,969.58 L1100.75,970.08 L1100.66,970.58 L1100.58,971.08 L1100.49,971.58 L1100.39,972.08 L1100.3,972.58 L1100.21,973.08 L1100.11,973.58 L1100.01,974.08 L1099.92,974.58 L1099.81,975.07 L1099.71,975.57 L1099.61,976.07 L1099.5,976.57 L1099.39,977.07 L1099.27,977.57 L1099.15,978.07 L1099.03,978.57 L1098.91,979.07 L1098.79,979.57 L1098.66,980.07 L1098.53,980.57 L1098.4,981.07 L1098.27,981.57 L1098.14,982.07 L1098.01,982.57 L1097.88,983.07 L1097.74,983.57 L1097.61,984.07 L1097.48,984.57 L1097.35,985.06 L1097.21,985.56 L1097.08,986.06 L1096.96,986.56 L1096.83,987.06 L1096.7,987.56 L1096.57,988.06 L1096.44,988.56 L1096.32,989.06 L1096.19,989.56 L1096.06,990.06 L1095.93,990.56 L1095.81,991.06 L1095.68,991.56 L1095.55,992.06 L1095.42,992.56 L1095.29,993.06 L1095.17,993.56 L1095.04,994.06 L1094.91,994.56 L1094.79,995.05 L1094.66,995.55 L1094.54,996.05 L1094.41,996.55 L1094.29,997.05 L1094.17,997.55 L1094.05,998.05 L1093.93,998.55 L1093.81,999.05 L1093.69,999.55 L1093.57,1000.05 L1093.45,1000.55 L1093.33,1001.05 L1093.21,1001.55 L1093.09,1002.05 L1092.97,1002.55 L1092.84,1003.05 L1092.72,1003.55 L1092.59,1004.05 L1092.47,1004.55 L1092.35,1005.04 L1092.23,1005.54 L1092.11,1006.04 L1091.99,1006.54 L1091.88,1007.04 L1091.77,1007.54 L1091.67,1008.04 L1091.57,1008.54 L1091.47,1009.04 L1091.39,1009.54 L1091.31,1010.04 L1091.23,1010.54 L1091.16,1011.04 L1091.1,1011.54 L1091.05,1012.04 L1091,1012.54 L1090.95,1013.04 L1090.91,1013.54 L1090.88,1014.04 L1090.84,1014.54 L1090.81,1015.03 L1090.79,1015.53 L1090.76,1016.03 L1090.73,1016.53 L1090.71,1017.03 L1090.69,1017.53 L1090.66,1018.03 L1090.64,1018.53 L1090.62,1019.03 L1090.6,1019.53 L1090.58,1020.03 L1090.56,1020.53 L1090.54,1021.03 L1090.52,1021.53 L1090.5,1022.03 L1090.47,1022.53 L1090.45,1023.03 L1090.43,1023.53 L1090.4,1024.03 L1090.37,1024.53 L1090.34,1025.02 L1090.31,1025.52 L1090.28,1026.02 L1090.25,1026.52 L1090.21,1027.02 L1090.18,1027.52 L1090.14,1028.02 L1090.1,1028.52 L1090.06,1029.02 L1090.02,1029.52 L1089.97,1030.02 L1089.93,1030.52 L1089.89,1031.02 L1089.84,1031.52 L1089.8,1032.02 L1089.76,1032.52 L1089.71,1033.02 L1089.67,1033.52 L1089.63,1034.02 L1089.59,1034.52 L1089.54,1035.01 L1089.5,1035.51 L1089.46,1036.01 L1089.43,1036.51 L1089.39,1037.01 L1089.36,1037.51 L1089.32,1038.01 L1089.29,1038.51 L1089.26,1039.01 L1089.24,1039.51 L1089.21,1040.01 L1089.19,1040.51 L1089.17,1041.01 L1089.16,1041.51 L1089.15,1042.01 L1089.14,1042.51 L1089.14,1043.01 L1089.14,1043.51 L1089.15,1044.01 L1089.17,1044.51 L1089.2,1045 L1089.23,1045.5 L1089.28,1046 L1089.33,1046.5 L1089.39,1047 L1089.46,1047.5 L1089.54,1048 L1089.63,1048.5 L1089.73,1049 L1089.83,1049.5 L1089.94,1050 L1090.06,1050.5 L1090.19,1051 L1090.32,1051.5 L1090.45,1052 L1090.59,1052.5 L1090.74,1053 L1090.89,1053.5 L1091.05,1054 L1091.22,1054.5 L1091.39,1055 L1091.58,1055.49 L1091.79,1055.99 L1092.01,1056.49 L1092.27,1056.99 L1092.54,1057.49 L1092.85,1057.99 L1093.17,1058.49 L1093.52,1058.99 L1093.89,1059.49 L1094.27,1059.99 L1094.65,1060.49 L1095.04,1060.99 L1095.43,1061.49 L1095.82,1061.99 L1096.2,1062.49 L1096.59,1062.99 L1096.98,1063.49 L1097.38,1063.99 L1097.77,1064.49 L1098.15,1064.99 L1098.52,1065.48 L1098.88,1065.98 L1099.22,1066.48 L1099.53,1066.98 L1099.81,1067.48 L1100.07,1067.98 L1100.29,1068.48 L1100.49,1068.98 L1100.66,1069.48 L1100.81,1069.98 L1100.95,1070.48 L1101.07,1070.98 L1101.19,1071.48 L1101.29,1071.98 L1101.38,1072.48 L1101.46,1072.98 L1101.54,1073.48 L1101.6,1073.98 L1101.66,1074.48 L1101.71,1074.98 L1101.75,1075.47 L1101.79,1075.97 L1101.83,1076.47 L1101.86,1076.97 L1101.88,1077.47 L1101.9,1077.97 L1101.92,1078.47 L1101.92,1078.97 L1101.92,1079.47 L1101.9,1079.97 L1101.87,1080.47 L1101.83,1080.97 L1101.75,1081.47 L1101.66,1081.97 L1101.53,1082.47 L1101.37,1082.97 L1101.18,1083.47 L1100.94,1083.97 L1100.67,1084.47 L1100.36,1084.97 L1100.01,1085.46 L1099.63,1085.96 L1099.22,1086.46 L1098.77,1086.96 L1098.29,1087.46 L1097.76,1087.96 L1097.19,1088.46 L1096.57,1088.96 L1095.92,1089.46 L1095.23,1089.96 L1094.51,1090.46 L1093.78,1090.96 L1093.03,1091.46 L1092.29,1091.96 L1091.55,1092.46 L1090.83,1092.96 L1090.12,1093.46 L1089.42,1093.96 L1088.74,1094.46 L1088.07,1094.96 L1087.4,1095.45 L1086.75,1095.95 L1086.12,1096.45 L1085.49,1096.95 L1084.88,1097.45 L1084.28,1097.95 L1083.71,1098.45 L1083.16,1098.95 L1082.64,1099.45 L1082.14,1099.95 L1081.67,1100.45 L1081.22,1100.95 L1080.79,1101.45 L1080.37,1101.95 L1079.97,1102.45 L1079.57,1102.95 L1079.17,1103.45 L1078.76,1103.95 L1078.31,1104.45 L1077.77,1104.95 L1077,1105.44 Z" fill="#d8398b" stroke="#2a2627" stroke-width="2.6" stroke-linejoin="round"/>
<line x1="1102.35" y1="957.22" x2="1102.35" y2="941.86" stroke="#2a2627" stroke-width="2.6" stroke-linecap="round"/>
<path d="M1185.76,1105.44 L1184.95,1104.95 L1183.99,1104.45 L1182.91,1103.95 L1181.79,1103.45 L1180.68,1102.95 L1179.59,1102.45 L1178.52,1101.95 L1177.44,1101.45 L1176.36,1100.95 L1175.3,1100.45 L1174.26,1099.95 L1173.23,1099.45 L1172.22,1098.95 L1171.24,1098.45 L1170.27,1097.95 L1169.33,1097.45 L1168.4,1096.95 L1167.51,1096.45 L1166.65,1095.95 L1165.82,1095.45 L1165.05,1094.96 L1164.35,1094.46 L1163.72,1093.96 L1163.18,1093.46 L1162.72,1092.96 L1162.34,1092.46 L1162.03,1091.96 L1161.79,1091.46 L1161.59,1090.96 L1161.44,1090.46 L1161.31,1089.96 L1161.21,1089.46 L1161.12,1088.96 L1161.05,1088.46 L1160.98,1087.96 L1160.93,1087.46 L1160.87,1086.96 L1160.83,1086.46 L1160.78,1085.96 L1160.74,1085.46 L1160.71,1084.97 L1160.67,1084.47 L1160.63,1083.97 L1160.6,1083.47 L1160.56,1082.97 L1160.53,1082.47 L1160.5,1081.97 L1160.48,1081.47 L1160.46,1080.97 L1160.44,1080.47 L1160.43,1079.97 L1160.43,1079.47 L1160.43,1078.97 L1160.43,1078.47 L1160.43,1077.97 L1160.43,1077.47 L1160.44,1076.97 L1160.44,1076.47 L1160.45,1075.97 L1160.46,1075.47 L1160.46,1074.98 L1160.47,1074.48 L1160.48,1073.98 L1160.49,1073.48 L1160.5,1072.98 L1160.51,1072.48 L1160.52,1071.98 L1160.54,1071.48 L1160.55,1070.98 L1160.56,1070.48 L1160.58,1069.98 L1160.6,1069.48 L1160.62,1068.98 L1160.64,1068.48 L1160.67,1067.98 L1160.7,1067.48 L1160.75,1066.98 L1160.8,1066.48 L1160.87,1065.98 L1160.95,1065.48 L1161.04,1064.99 L1161.15,1064.49 L1161.27,1063.99 L1161.4,1063.49 L1161.55,1062.99 L1161.71,1062.49 L1161.9,1061.99 L1162.1,1061.49 L1162.32,1060.99 L1162.56,1060.49 L1162.81,1059.99 L1163.07,1059.49 L1163.34,1058.99 L1163.61,1058.49 L1163.87,1057.99 L1164.11,1057.49 L1164.34,1056.99 L1164.56,1056.49 L1164.75,1055.99 L1164.93,1055.49 L1165.11,1055 L1165.27,1054.5 L1165.42,1054 L1165.57,1053.5 L1165.71,1053 L1165.85,1052.5 L1165.98,1052 L1166.11,1051.5 L1166.23,1051 L1166.34,1050.5 L1166.44,1050 L1166.53,1049.5 L1166.61,1049 L1166.68,1048.5 L1166.74,1048 L1166.79,1047.5 L1166.82,1047 L1166.85,1046.5 L1166.86,1046 L1166.86,1045.5 L1166.85,1045 L1166.83,1044.51 L1166.81,1044.01 L1166.78,1043.51 L1166.74,1043.01 L1166.7,1042.51 L1166.65,1042.01 L1166.6,1041.51 L1166.55,1041.01 L1166.5,1040.51 L1166.45,1040.01 L1166.39,1039.51 L1166.34,1039.01 L1166.28,1038.51 L1166.23,1038.01 L1166.17,1037.51 L1166.12,1037.01 L1166.07,1036.51 L1166.01,1036.01 L1165.96,1035.51 L1165.91,1035.01 L1165.85,1034.52 L1165.79,1034.02 L1165.74,1033.52 L1165.68,1033.02 L1165.62,1032.52 L1165.56,1032.02 L1165.5,1031.52 L1165.44,1031.02 L1165.38,1030.52 L1165.32,1030.02 L1165.25,1029.52 L1165.19,1029.02 L1165.13,1028.52 L1165.06,1028.02 L1165,1027.52 L1164.93,1027.02 L1164.87,1026.52 L1164.8,1026.02 L1164.74,1025.52 L1164.67,1025.02 L1164.61,1024.53 L1164.54,1024.03 L1164.48,1023.53 L1164.41,1023.03 L1164.34,1022.53 L1164.27,1022.03 L1164.2,1021.53 L1164.13,1021.03 L1164.06,1020.53 L1163.99,1020.03 L1163.92,1019.53 L1163.85,1019.03 L1163.78,1018.53 L1163.7,1018.03 L1163.63,1017.53 L1163.56,1017.03 L1163.49,1016.53 L1163.42,1016.03 L1163.35,1015.53 L1163.28,1015.03 L1163.21,1014.54 L1163.14,1014.04 L1163.07,1013.54 L1163,1013.04 L1162.93,1012.54 L1162.86,1012.04 L1162.79,1011.54 L1162.72,1011.04 L1162.65,1010.54 L1162.58,1010.04 L1162.51,1009.54 L1162.44,1009.04 L1162.37,1008.54 L1162.3,1008.04 L1162.23,1007.54 L1162.16,1007.04 L1162.09,1006.54 L1162.02,1006.04 L1161.95,1005.54 L1161.88,1005.04 L1161.82,1004.55 L1161.75,1004.05 L1161.69,1003.55 L1161.63,1003.05 L1161.57,1002.55 L1161.52,1002.05 L1161.46,1001.55 L1161.41,1001.05 L1161.36,1000.55 L1161.31,1000.05 L1161.26,999.55 L1161.21,999.05 L1161.17,998.55 L1161.13,998.05 L1161.08,997.55 L1161.04,997.05 L1161,996.55 L1160.96,996.05 L1160.92,995.55 L1160.88,995.05 L1160.84,994.56 L1160.8,994.06 L1160.77,993.56 L1160.73,993.06 L1160.7,992.56 L1160.67,992.06 L1160.63,991.56 L1160.6,991.06 L1160.57,990.56 L1160.55,990.06 L1160.52,989.56 L1160.5,989.06 L1160.48,988.56 L1160.46,988.06 L1160.44,987.56 L1160.44,987.44 L1160.39,987.44 L1160.38,987.56 L1160.37,988.06 L1160.35,988.56 L1160.33,989.06 L1160.31,989.56 L1160.28,990.06 L1160.25,990.56 L1160.23,991.06 L1160.2,991.56 L1160.16,992.06 L1160.13,992.56 L1160.1,993.06 L1160.06,993.56 L1160.03,994.06 L1159.99,994.56 L1159.95,995.05 L1159.91,995.55 L1159.87,996.05 L1159.83,996.55 L1159.79,997.05 L1159.75,997.55 L1159.7,998.05 L1159.66,998.55 L1159.61,999.05 L1159.57,999.55 L1159.52,1000.05 L1159.47,1000.55 L1159.42,1001.05 L1159.37,1001.55 L1159.31,1002.05 L1159.26,1002.55 L1159.2,1003.05 L1159.14,1003.55 L1159.07,1004.05 L1159.01,1004.55 L1158.94,1005.04 L1158.88,1005.54 L1158.81,1006.04 L1158.74,1006.54 L1158.67,1007.04 L1158.6,1007.54 L1158.53,1008.04 L1158.46,1008.54 L1158.39,1009.04 L1158.32,1009.54 L1158.25,1010.04 L1158.18,1010.54 L1158.11,1011.04 L1158.04,1011.54 L1157.97,1012.04 L1157.9,1012.54 L1157.83,1013.04 L1157.76,1013.54 L1157.69,1014.04 L1157.62,1014.54 L1157.55,1015.03 L1157.48,1015.53 L1157.41,1016.03 L1157.34,1016.53 L1157.27,1017.03 L1157.2,1017.53 L1157.12,1018.03 L1157.05,1018.53 L1156.98,1019.03 L1156.91,1019.53 L1156.84,1020.03 L1156.77,1020.53 L1156.7,1021.03 L1156.63,1021.53 L1156.56,1022.03 L1156.49,1022.53 L1156.42,1023.03 L1156.35,1023.53 L1156.29,1024.03 L1156.22,1024.53 L1156.15,1025.02 L1156.09,1025.52 L1156.02,1026.02 L1155.96,1026.52 L1155.9,1027.02 L1155.83,1027.52 L1155.77,1028.02 L1155.7,1028.52 L1155.64,1029.02 L1155.58,1029.52 L1155.51,1030.02 L1155.45,1030.52 L1155.39,1031.02 L1155.33,1031.52 L1155.27,1032.02 L1155.21,1032.52 L1155.15,1033.02 L1155.09,1033.52 L1155.04,1034.02 L1154.98,1034.52 L1154.92,1035.01 L1154.87,1035.51 L1154.81,1036.01 L1154.76,1036.51 L1154.71,1037.01 L1154.65,1037.51 L1154.6,1038.01 L1154.55,1038.51 L1154.49,1039.01 L1154.44,1039.51 L1154.38,1040.01 L1154.33,1040.51 L1154.28,1041.01 L1154.22,1041.51 L1154.18,1042.01 L1154.13,1042.51 L1154.09,1043.01 L1154.05,1043.51 L1154.02,1044.01 L1154,1044.51 L1153.98,1045 L1153.97,1045.5 L1153.97,1046 L1153.98,1046.5 L1154,1047 L1154.04,1047.5 L1154.09,1048 L1154.15,1048.5 L1154.22,1049 L1154.3,1049.5 L1154.39,1050 L1154.49,1050.5 L1154.6,1051 L1154.72,1051.5 L1154.85,1052 L1154.98,1052.5 L1155.12,1053 L1155.26,1053.5 L1155.41,1054 L1155.56,1054.5 L1155.72,1055 L1155.89,1055.49 L1156.08,1055.99 L1156.27,1056.49 L1156.49,1056.99 L1156.72,1057.49 L1156.96,1057.99 L1157.22,1058.49 L1157.49,1058.99 L1157.75,1059.49 L1158.02,1059.99 L1158.27,1060.49 L1158.51,1060.99 L1158.73,1061.49 L1158.93,1061.99 L1159.12,1062.49 L1159.28,1062.99 L1159.43,1063.49 L1159.56,1063.99 L1159.68,1064.49 L1159.79,1064.99 L1159.88,1065.48 L1159.96,1065.98 L1160.03,1066.48 L1160.08,1066.98 L1160.13,1067.48 L1160.16,1067.98 L1160.19,1068.48 L1160.21,1068.98 L1160.23,1069.48 L1160.25,1069.98 L1160.27,1070.48 L1160.28,1070.98 L1160.29,1071.48 L1160.31,1071.98 L1160.32,1072.48 L1160.33,1072.98 L1160.34,1073.48 L1160.35,1073.98 L1160.36,1074.48 L1160.36,1074.98 L1160.37,1075.47 L1160.38,1075.97 L1160.39,1076.47 L1160.39,1076.97 L1160.4,1077.47 L1160.4,1077.97 L1160.4,1078.47 L1160.4,1078.97 L1160.4,1079.47 L1160.4,1079.97 L1160.39,1080.47 L1160.37,1080.97 L1160.35,1081.47 L1160.33,1081.97 L1160.3,1082.47 L1160.26,1082.97 L1160.23,1083.47 L1160.19,1083.97 L1160.16,1084.47 L1160.12,1084.97 L1160.08,1085.46 L1160.04,1085.96 L1160,1086.46 L1159.96,1086.96 L1159.9,1087.46 L1159.85,1087.96 L1159.78,1088.46 L1159.71,1088.96 L1159.62,1089.46 L1159.52,1089.96 L1159.39,1090.46 L1159.24,1090.96 L1159.04,1091.46 L1158.8,1091.96 L1158.49,1092.46 L1158.11,1092.96 L1157.65,1093.46 L1157.11,1093.96 L1156.48,1094.46 L1155.78,1094.96 L1155.01,1095.45 L1154.18,1095.95 L1153.32,1096.45 L1152.42,1096.95 L1151.5,1097.45 L1150.56,1097.95 L1149.59,1098.45 L1148.61,1098.95 L1147.6,1099.45 L1146.57,1099.95 L1145.53,1100.45 L1144.47,1100.95 L1143.39,1101.45 L1142.31,1101.95 L1141.23,1102.45 L1140.15,1102.95 L1139.04,1103.45 L1137.92,1103.95 L1136.84,1104.45 L1135.88,1104.95 L1135.06,1105.44 Z" fill="#6f66a6" stroke="#2a2627" stroke-width="2.6" stroke-linejoin="round"/>
<line x1="1160.41" y1="988.44" x2="1160.41" y2="952.47" stroke="#2a2627" stroke-width="2.6" stroke-linecap="round"/>
<path d="M1191.53,1105.44 L1244.47,1105.44 M1218,1105.44 L1218,973.75" fill="none" stroke="#2a2627" stroke-width="2.6" stroke-linecap="round"/>
<path d="M1249.03,1105.44 L1301.97,1105.44 M1275.5,1105.44 L1275.5,970.5" fill="none" stroke="#2a2627" stroke-width="2.6" stroke-linecap="round"/>
<rect x="1336.2" y="908.2" width="26.6" height="26.1" fill="#4a9e7f" stroke="#231f20" stroke-width="1.9"/>
<text x="1376.6" y="929.1" font-size="26.6">HC</text>
<rect x="1336.2" y="938.2" width="26.6" height="24.85" fill="#c9571c" stroke="#231f20" stroke-width="1.9"/>
<text x="1376.6" y="958.35" font-size="26.6">Asymptomatic</text>
<rect x="1336.2" y="966.95" width="26.6" height="24.85" fill="#c5387f" stroke="#231f20" stroke-width="1.9"/>
<text x="1376.6" y="987.1" font-size="26.6">Severe</text>
<rect x="1336.2" y="994.95" width="26.6" height="24.85" fill="#6a6199" stroke="#231f20" stroke-width="1.9"/>
<text x="1376.6" y="1015.1" font-size="26.6">&lt;10</text>
<rect x="1336.2" y="1023.2" width="26.6" height="25.35" fill="#a38fce" stroke="#231f20" stroke-width="1.9"/>
<text x="1376.6" y="1044.1" font-size="26.6">10−20</text>
<rect x="1336.2" y="1052.7" width="26.6" height="25.35" fill="#c8c9ec" stroke="#231f20" stroke-width="1.9"/>
<text x="1376.6" y="1072.85" font-size="26.6">&gt;20</text>
<line x1="1464.25" y1="996.25" x2="1464.25" y2="1073.75" stroke="#231f20" stroke-width="1.8"/>
<text x="1467.8" y="1043.5" font-size="26.6">Moderate*</text>
<text x="1337.5" y="1111.25" font-size="26.4">*Days after symptom onset</text>
</g>
<g id="panel-f">
<text x="7.6" y="1199.4" font-size="40.5">f</text>
<text x="58.5" y="1365.5" font-size="26.6" text-anchor="middle" transform="rotate(-90 58.5 1365.5)">Type 1 interferon pathway</text>
<g stroke="#e8e8e8">
<line x1="130" y1="1516.28" x2="731.9" y2="1516.28" stroke-width="1.2"/>
<line x1="130" y1="1442.72" x2="731.9" y2="1442.72" stroke-width="1.2"/>
<line x1="130" y1="1369.17" x2="731.9" y2="1369.17" stroke-width="1.2"/>
<line x1="130" y1="1295.62" x2="731.9" y2="1295.62" stroke-width="1.2"/>
<line x1="130" y1="1222.08" x2="731.9" y2="1222.08" stroke-width="1.2"/>
<line x1="130" y1="1553.05" x2="731.9" y2="1553.05" stroke-width="2.4"/>
<line x1="130" y1="1479.5" x2="731.9" y2="1479.5" stroke-width="2.4"/>
<line x1="130" y1="1405.95" x2="731.9" y2="1405.95" stroke-width="2.4"/>
<line x1="130" y1="1332.4" x2="731.9" y2="1332.4" stroke-width="2.4"/>
<line x1="130" y1="1258.85" x2="731.9" y2="1258.85" stroke-width="2.4"/>
<line x1="130" y1="1185.3" x2="731.9" y2="1185.3" stroke-width="2.4"/>
<line x1="148.7" y1="1184" x2="148.7" y2="1559.2" stroke-width="2.4"/>
<line x1="180.03" y1="1184" x2="180.03" y2="1559.2" stroke-width="2.4"/>
<line x1="211.37" y1="1184" x2="211.37" y2="1559.2" stroke-width="2.4"/>
<line x1="242.7" y1="1184" x2="242.7" y2="1559.2" stroke-width="2.4"/>
<line x1="274.04" y1="1184" x2="274.04" y2="1559.2" stroke-width="2.4"/>
<line x1="305.38" y1="1184" x2="305.38" y2="1559.2" stroke-width="2.4"/>
<line x1="336.71" y1="1184" x2="336.71" y2="1559.2" stroke-width="2.4"/>
<line x1="368.04" y1="1184" x2="368.04" y2="1559.2" stroke-width="2.4"/>
<line x1="399.38" y1="1184" x2="399.38" y2="1559.2" stroke-width="2.4"/>
<line x1="430.71" y1="1184" x2="430.71" y2="1559.2" stroke-width="2.4"/>
<line x1="462.05" y1="1184" x2="462.05" y2="1559.2" stroke-width="2.4"/>
<line x1="493.38" y1="1184" x2="493.38" y2="1559.2" stroke-width="2.4"/>
<line x1="524.72" y1="1184" x2="524.72" y2="1559.2" stroke-width="2.4"/>
<line x1="556.06" y1="1184" x2="556.06" y2="1559.2" stroke-width="2.4"/>
<line x1="587.39" y1="1184" x2="587.39" y2="1559.2" stroke-width="2.4"/>
<line x1="618.73" y1="1184" x2="618.73" y2="1559.2" stroke-width="2.4"/>
<line x1="650.06" y1="1184" x2="650.06" y2="1559.2" stroke-width="2.4"/>
<line x1="681.39" y1="1184" x2="681.39" y2="1559.2" stroke-width="2.4"/>
<line x1="712.73" y1="1184" x2="712.73" y2="1559.2" stroke-width="2.4"/>
</g>
<line x1="148.7" y1="1477.28" x2="148.7" y2="1506.27" stroke="#2a2627" stroke-width="2.2"/>
<line x1="148.7" y1="1527.52" x2="148.7" y2="1537.56" stroke="#2a2627" stroke-width="2.2"/>
<rect x="136.8" y="1506.27" width="23.8" height="21.24" fill="#4ba886" stroke="#2a2627" stroke-width="2.2"/>
<line x1="136.8" y1="1516.03" x2="160.6" y2="1516.03" stroke="#2a2627" stroke-width="4.1"/>
<g fill="none" stroke="#2a2627" stroke-width="1.8">
<ellipse cx="148.7" cy="1465.79" rx="3.05" ry="2.65"/>
<ellipse cx="148.7" cy="1467.2" rx="3.05" ry="2.65"/>
<ellipse cx="148.7" cy="1468.24" rx="3.05" ry="2.65"/>
<ellipse cx="148.7" cy="1470.37" rx="3.05" ry="2.65"/>
<ellipse cx="148.7" cy="1471.23" rx="3.05" ry="2.65"/>
<ellipse cx="148.7" cy="1473.11" rx="3.05" ry="2.65"/>
<ellipse cx="148.7" cy="1474.61" rx="3.05" ry="2.65"/>
<ellipse cx="148.7" cy="1475.44" rx="3.05" ry="2.65"/>
<ellipse cx="148.7" cy="1475.84" rx="3.05" ry="2.65"/>
<ellipse cx="148.7" cy="1460.91" rx="3.05" ry="2.65"/>
<ellipse cx="148.7" cy="1452.3" rx="3.05" ry="2.65"/>
<ellipse cx="148.7" cy="1442.83" rx="3.05" ry="2.65"/>
<ellipse cx="148.7" cy="1431.63" rx="3.05" ry="2.65"/>
<ellipse cx="148.7" cy="1409.24" rx="3.05" ry="2.65"/>
</g>
<line x1="180.03" y1="1474.41" x2="180.03" y2="1503.97" stroke="#2a2627" stroke-width="2.2"/>
<line x1="180.03" y1="1525.22" x2="180.03" y2="1542.44" stroke="#2a2627" stroke-width="2.2"/>
<rect x="168.13" y="1503.97" width="23.8" height="21.24" fill="#4ba886" stroke="#2a2627" stroke-width="2.2"/>
<line x1="168.13" y1="1513.16" x2="191.94" y2="1513.16" stroke="#2a2627" stroke-width="4.1"/>
<g fill="none" stroke="#2a2627" stroke-width="1.8">
<ellipse cx="180.03" cy="1461.49" rx="3.05" ry="2.65"/>
<ellipse cx="180.03" cy="1462.27" rx="3.05" ry="2.65"/>
<ellipse cx="180.03" cy="1463.92" rx="3.05" ry="2.65"/>
<ellipse cx="180.03" cy="1464.78" rx="3.05" ry="2.65"/>
<ellipse cx="180.03" cy="1465.68" rx="3.05" ry="2.65"/>
<ellipse cx="180.03" cy="1467.31" rx="3.05" ry="2.65"/>
<ellipse cx="180.03" cy="1469.83" rx="3.05" ry="2.65"/>
<ellipse cx="180.03" cy="1470.8" rx="3.05" ry="2.65"/>
<ellipse cx="180.03" cy="1471.99" rx="3.05" ry="2.65"/>
<ellipse cx="180.03" cy="1472.11" rx="3.05" ry="2.65"/>
<ellipse cx="180.03" cy="1433.64" rx="3.05" ry="2.65"/>
<ellipse cx="180.03" cy="1395.46" rx="3.05" ry="2.65"/>
</g>
<line x1="211.37" y1="1470.1" x2="211.37" y2="1502.54" stroke="#2a2627" stroke-width="2.2"/>
<line x1="211.37" y1="1524.93" x2="211.37" y2="1539" stroke="#2a2627" stroke-width="2.2"/>
<rect x="199.47" y="1502.54" width="23.8" height="22.39" fill="#4ba886" stroke="#2a2627" stroke-width="2.2"/>
<line x1="199.47" y1="1512.59" x2="223.27" y2="1512.59" stroke="#2a2627" stroke-width="4.1"/>
<g fill="none" stroke="#2a2627" stroke-width="1.8">
<ellipse cx="211.37" cy="1468.09" rx="3.05" ry="2.65"/>
<ellipse cx="211.37" cy="1464.36" rx="3.05" ry="2.65"/>
<ellipse cx="211.37" cy="1460.62" rx="3.05" ry="2.65"/>
<ellipse cx="211.37" cy="1394.31" rx="3.05" ry="2.65"/>
</g>
<line x1="242.7" y1="1471.53" x2="242.7" y2="1500.82" stroke="#2a2627" stroke-width="2.2"/>
<line x1="242.7" y1="1521.77" x2="242.7" y2="1534.69" stroke="#2a2627" stroke-width="2.2"/>
<rect x="230.8" y="1500.82" width="23.8" height="20.96" fill="#7b73bc" stroke="#2a2627" stroke-width="2.2"/>
<line x1="230.8" y1="1514.6" x2="254.6" y2="1514.6" stroke="#2a2627" stroke-width="4.1"/>
<g fill="none" stroke="#2a2627" stroke-width="1.8">
<ellipse cx="242.7" cy="1462.92" rx="3.05" ry="2.65"/>
<ellipse cx="242.7" cy="1465.71" rx="3.05" ry="2.65"/>
<ellipse cx="242.7" cy="1467.68" rx="3.05" ry="2.65"/>
<ellipse cx="242.7" cy="1469.25" rx="3.05" ry="2.65"/>
<ellipse cx="242.7" cy="1470.1" rx="3.05" ry="2.65"/>
<ellipse cx="242.7" cy="1458.62" rx="3.05" ry="2.65"/>
<ellipse cx="242.7" cy="1449.72" rx="3.05" ry="2.65"/>
<ellipse cx="242.7" cy="1429.91" rx="3.05" ry="2.65"/>
</g>
<line x1="274.04" y1="1468.66" x2="274.04" y2="1500.82" stroke="#2a2627" stroke-width="2.2"/>
<line x1="274.04" y1="1523.78" x2="274.04" y2="1535.55" stroke="#2a2627" stroke-width="2.2"/>
<rect x="262.14" y="1500.82" width="23.8" height="22.97" fill="#7b73bc" stroke="#2a2627" stroke-width="2.2"/>
<line x1="262.14" y1="1511.15" x2="285.94" y2="1511.15" stroke="#2a2627" stroke-width="4.1"/>
<g fill="none" stroke="#2a2627" stroke-width="1.8">
<ellipse cx="274.04" cy="1466.94" rx="3.05" ry="2.65"/>
<ellipse cx="274.04" cy="1459.48" rx="3.05" ry="2.65"/>
<ellipse cx="274.04" cy="1452.01" rx="3.05" ry="2.65"/>
<ellipse cx="274.04" cy="1441.96" rx="3.05" ry="2.65"/>
<ellipse cx="274.04" cy="1424.45" rx="3.05" ry="2.65"/>
</g>
<line x1="305.38" y1="1461.49" x2="305.38" y2="1497.66" stroke="#2a2627" stroke-width="2.2"/>
<line x1="305.38" y1="1522.35" x2="305.38" y2="1539" stroke="#2a2627" stroke-width="2.2"/>
<rect x="293.48" y="1497.66" width="23.8" height="24.69" fill="#d25c14" stroke="#2a2627" stroke-width="2.2"/>
<line x1="293.48" y1="1511.15" x2="317.27" y2="1511.15" stroke="#2a2627" stroke-width="4.1"/>
<g fill="none" stroke="#2a2627" stroke-width="1.8">
<ellipse cx="305.38" cy="1431.34" rx="3.05" ry="2.65"/>
<ellipse cx="305.38" cy="1432.14" rx="3.05" ry="2.65"/>
<ellipse cx="305.38" cy="1434.73" rx="3.05" ry="2.65"/>
<ellipse cx="305.38" cy="1436.07" rx="3.05" ry="2.65"/>
<ellipse cx="305.38" cy="1437.09" rx="3.05" ry="2.65"/>
<ellipse cx="305.38" cy="1438.05" rx="3.05" ry="2.65"/>
<ellipse cx="305.38" cy="1439.43" rx="3.05" ry="2.65"/>
<ellipse cx="305.38" cy="1441.92" rx="3.05" ry="2.65"/>
<ellipse cx="305.38" cy="1443.02" rx="3.05" ry="2.65"/>
<ellipse cx="305.38" cy="1445" rx="3.05" ry="2.65"/>
<ellipse cx="305.38" cy="1447.1" rx="3.05" ry="2.65"/>
<ellipse cx="305.38" cy="1448.62" rx="3.05" ry="2.65"/>
<ellipse cx="305.38" cy="1450.53" rx="3.05" ry="2.65"/>
<ellipse cx="305.38" cy="1451.37" rx="3.05" ry="2.65"/>
<ellipse cx="305.38" cy="1452.2" rx="3.05" ry="2.65"/>
<ellipse cx="305.38" cy="1453.35" rx="3.05" ry="2.65"/>
<ellipse cx="305.38" cy="1455.55" rx="3.05" ry="2.65"/>
<ellipse cx="305.38" cy="1457.18" rx="3.05" ry="2.65"/>
<ellipse cx="305.38" cy="1423.59" rx="3.05" ry="2.65"/>
<ellipse cx="305.38" cy="1408.95" rx="3.05" ry="2.65"/>
<ellipse cx="305.38" cy="1401.77" rx="3.05" ry="2.65"/>
<ellipse cx="305.38" cy="1391.72" rx="3.05" ry="2.65"/>
<ellipse cx="305.38" cy="1373.93" rx="3.05" ry="2.65"/>
<ellipse cx="305.38" cy="1327.13" rx="3.05" ry="2.65"/>
</g>
<line x1="336.71" y1="1460.05" x2="336.71" y2="1495.36" stroke="#2a2627" stroke-width="2.2"/>
<line x1="336.71" y1="1521.49" x2="336.71" y2="1541.87" stroke="#2a2627" stroke-width="2.2"/>
<rect x="324.81" y="1495.36" width="23.8" height="26.12" fill="#7b73bc" stroke="#2a2627" stroke-width="2.2"/>
<line x1="324.81" y1="1509.43" x2="348.61" y2="1509.43" stroke="#2a2627" stroke-width="4.1"/>
<g fill="none" stroke="#2a2627" stroke-width="1.8">
<ellipse cx="336.71" cy="1394.02" rx="3.05" ry="2.65"/>
<ellipse cx="336.71" cy="1395.41" rx="3.05" ry="2.65"/>
<ellipse cx="336.71" cy="1397.4" rx="3.05" ry="2.65"/>
<ellipse cx="336.71" cy="1399.1" rx="3.05" ry="2.65"/>
<ellipse cx="336.71" cy="1400.46" rx="3.05" ry="2.65"/>
<ellipse cx="336.71" cy="1402.9" rx="3.05" ry="2.65"/>
<ellipse cx="336.71" cy="1405.14" rx="3.05" ry="2.65"/>
<ellipse cx="336.71" cy="1406.38" rx="3.05" ry="2.65"/>
<ellipse cx="336.71" cy="1408.34" rx="3.05" ry="2.65"/>
<ellipse cx="336.71" cy="1410.2" rx="3.05" ry="2.65"/>
<ellipse cx="336.71" cy="1412.82" rx="3.05" ry="2.65"/>
<ellipse cx="336.71" cy="1415.13" rx="3.05" ry="2.65"/>
<ellipse cx="336.71" cy="1416.46" rx="3.05" ry="2.65"/>
<ellipse cx="336.71" cy="1419.32" rx="3.05" ry="2.65"/>
<ellipse cx="336.71" cy="1420.28" rx="3.05" ry="2.65"/>
<ellipse cx="336.71" cy="1421.9" rx="3.05" ry="2.65"/>
<ellipse cx="336.71" cy="1424.26" rx="3.05" ry="2.65"/>
<ellipse cx="336.71" cy="1425.3" rx="3.05" ry="2.65"/>
<ellipse cx="336.71" cy="1427.07" rx="3.05" ry="2.65"/>
<ellipse cx="336.71" cy="1427.86" rx="3.05" ry="2.65"/>
<ellipse cx="336.71" cy="1430.03" rx="3.05" ry="2.65"/>
<ellipse cx="336.71" cy="1432.41" rx="3.05" ry="2.65"/>
<ellipse cx="336.71" cy="1434.37" rx="3.05" ry="2.65"/>
<ellipse cx="336.71" cy="1437" rx="3.05" ry="2.65"/>
<ellipse cx="336.71" cy="1438.39" rx="3.05" ry="2.65"/>
<ellipse cx="336.71" cy="1440.62" rx="3.05" ry="2.65"/>
<ellipse cx="336.71" cy="1442.63" rx="3.05" ry="2.65"/>
<ellipse cx="336.71" cy="1444.6" rx="3.05" ry="2.65"/>
<ellipse cx="336.71" cy="1446.31" rx="3.05" ry="2.65"/>
<ellipse cx="336.71" cy="1448.85" rx="3.05" ry="2.65"/>
<ellipse cx="336.71" cy="1451.63" rx="3.05" ry="2.65"/>
<ellipse cx="336.71" cy="1453.38" rx="3.05" ry="2.65"/>
<ellipse cx="336.71" cy="1455.54" rx="3.05" ry="2.65"/>
<ellipse cx="336.71" cy="1456.37" rx="3.05" ry="2.65"/>
<ellipse cx="336.71" cy="1458.61" rx="3.05" ry="2.65"/>
<ellipse cx="336.71" cy="1458.62" rx="3.05" ry="2.65"/>
<ellipse cx="336.71" cy="1386.84" rx="3.05" ry="2.65"/>
<ellipse cx="336.71" cy="1376.8" rx="3.05" ry="2.65"/>
<ellipse cx="336.71" cy="1324.26" rx="3.05" ry="2.65"/>
<ellipse cx="336.71" cy="1273.73" rx="3.05" ry="2.65"/>
</g>
<line x1="368.04" y1="1460.05" x2="368.04" y2="1494.79" stroke="#2a2627" stroke-width="2.2"/>
<line x1="368.04" y1="1520.34" x2="368.04" y2="1538.14" stroke="#2a2627" stroke-width="2.2"/>
<rect x="356.14" y="1494.79" width="23.8" height="25.55" fill="#d25c14" stroke="#2a2627" stroke-width="2.2"/>
<line x1="356.14" y1="1507.42" x2="379.94" y2="1507.42" stroke="#2a2627" stroke-width="4.1"/>
<g fill="none" stroke="#2a2627" stroke-width="1.8">
<ellipse cx="368.04" cy="1445.7" rx="3.05" ry="2.65"/>
<ellipse cx="368.04" cy="1448.58" rx="3.05" ry="2.65"/>
<ellipse cx="368.04" cy="1451.09" rx="3.05" ry="2.65"/>
<ellipse cx="368.04" cy="1452.42" rx="3.05" ry="2.65"/>
<ellipse cx="368.04" cy="1453.96" rx="3.05" ry="2.65"/>
<ellipse cx="368.04" cy="1456.14" rx="3.05" ry="2.65"/>
<ellipse cx="368.04" cy="1456.89" rx="3.05" ry="2.65"/>
<ellipse cx="368.04" cy="1458.6" rx="3.05" ry="2.65"/>
<ellipse cx="368.04" cy="1458.62" rx="3.05" ry="2.65"/>
<ellipse cx="368.04" cy="1442.25" rx="3.05" ry="2.65"/>
<ellipse cx="368.04" cy="1430.48" rx="3.05" ry="2.65"/>
<ellipse cx="368.04" cy="1419.86" rx="3.05" ry="2.65"/>
<ellipse cx="368.04" cy="1401.77" rx="3.05" ry="2.65"/>
<ellipse cx="368.04" cy="1398.33" rx="3.05" ry="2.65"/>
</g>
<line x1="399.38" y1="1454.31" x2="399.38" y2="1491.92" stroke="#2a2627" stroke-width="2.2"/>
<line x1="399.38" y1="1519.19" x2="399.38" y2="1538.42" stroke="#2a2627" stroke-width="2.2"/>
<rect x="387.48" y="1491.92" width="23.8" height="27.27" fill="#7b73bc" stroke="#2a2627" stroke-width="2.2"/>
<line x1="387.48" y1="1507.42" x2="411.28" y2="1507.42" stroke="#2a2627" stroke-width="4.1"/>
<g fill="none" stroke="#2a2627" stroke-width="1.8">
<ellipse cx="399.38" cy="1411.25" rx="3.05" ry="2.65"/>
<ellipse cx="399.38" cy="1412.2" rx="3.05" ry="2.65"/>
<ellipse cx="399.38" cy="1413.03" rx="3.05" ry="2.65"/>
<ellipse cx="399.38" cy="1415.42" rx="3.05" ry="2.65"/>
<ellipse cx="399.38" cy="1416.41" rx="3.05" ry="2.65"/>
<ellipse cx="399.38" cy="1417.65" rx="3.05" ry="2.65"/>
<ellipse cx="399.38" cy="1419.21" rx="3.05" ry="2.65"/>
<ellipse cx="399.38" cy="1421.83" rx="3.05" ry="2.65"/>
<ellipse cx="399.38" cy="1422.71" rx="3.05" ry="2.65"/>
<ellipse cx="399.38" cy="1424.4" rx="3.05" ry="2.65"/>
<ellipse cx="399.38" cy="1426.3" rx="3.05" ry="2.65"/>
<ellipse cx="399.38" cy="1428.95" rx="3.05" ry="2.65"/>
<ellipse cx="399.38" cy="1431.45" rx="3.05" ry="2.65"/>
<ellipse cx="399.38" cy="1434.05" rx="3.05" ry="2.65"/>
<ellipse cx="399.38" cy="1435.36" rx="3.05" ry="2.65"/>
<ellipse cx="399.38" cy="1436.98" rx="3.05" ry="2.65"/>
<ellipse cx="399.38" cy="1438.47" rx="3.05" ry="2.65"/>
<ellipse cx="399.38" cy="1441.11" rx="3.05" ry="2.65"/>
<ellipse cx="399.38" cy="1443.92" rx="3.05" ry="2.65"/>
<ellipse cx="399.38" cy="1444.95" rx="3.05" ry="2.65"/>
<ellipse cx="399.38" cy="1446.04" rx="3.05" ry="2.65"/>
<ellipse cx="399.38" cy="1447.25" rx="3.05" ry="2.65"/>
<ellipse cx="399.38" cy="1448.46" rx="3.05" ry="2.65"/>
<ellipse cx="399.38" cy="1450.23" rx="3.05" ry="2.65"/>
<ellipse cx="399.38" cy="1452.23" rx="3.05" ry="2.65"/>
<ellipse cx="399.38" cy="1452.87" rx="3.05" ry="2.65"/>
<ellipse cx="399.38" cy="1404.93" rx="3.05" ry="2.65"/>
<ellipse cx="399.38" cy="1394.02" rx="3.05" ry="2.65"/>
<ellipse cx="399.38" cy="1386.84" rx="3.05" ry="2.65"/>
<ellipse cx="399.38" cy="1379.67" rx="3.05" ry="2.65"/>
<ellipse cx="399.38" cy="1375.36" rx="3.05" ry="2.65"/>
<ellipse cx="399.38" cy="1371.05" rx="3.05" ry="2.65"/>
<ellipse cx="399.38" cy="1366.75" rx="3.05" ry="2.65"/>
</g>
<line x1="430.71" y1="1438.52" x2="430.71" y2="1483.02" stroke="#2a2627" stroke-width="2.2"/>
<line x1="430.71" y1="1514.6" x2="430.71" y2="1537.56" stroke="#2a2627" stroke-width="2.2"/>
<rect x="418.81" y="1483.02" width="23.8" height="31.58" fill="#7b73bc" stroke="#2a2627" stroke-width="2.2"/>
<line x1="418.81" y1="1500.82" x2="442.61" y2="1500.82" stroke="#2a2627" stroke-width="4.1"/>
<g fill="none" stroke="#2a2627" stroke-width="1.8">
<ellipse cx="430.71" cy="1399.76" rx="3.05" ry="2.65"/>
<ellipse cx="430.71" cy="1400.47" rx="3.05" ry="2.65"/>
<ellipse cx="430.71" cy="1402.09" rx="3.05" ry="2.65"/>
<ellipse cx="430.71" cy="1403.61" rx="3.05" ry="2.65"/>
<ellipse cx="430.71" cy="1405.55" rx="3.05" ry="2.65"/>
<ellipse cx="430.71" cy="1408.35" rx="3.05" ry="2.65"/>
<ellipse cx="430.71" cy="1410.57" rx="3.05" ry="2.65"/>
<ellipse cx="430.71" cy="1412.4" rx="3.05" ry="2.65"/>
<ellipse cx="430.71" cy="1414.46" rx="3.05" ry="2.65"/>
<ellipse cx="430.71" cy="1416.65" rx="3.05" ry="2.65"/>
<ellipse cx="430.71" cy="1417.47" rx="3.05" ry="2.65"/>
<ellipse cx="430.71" cy="1420.15" rx="3.05" ry="2.65"/>
<ellipse cx="430.71" cy="1422.56" rx="3.05" ry="2.65"/>
<ellipse cx="430.71" cy="1425.19" rx="3.05" ry="2.65"/>
<ellipse cx="430.71" cy="1427.64" rx="3.05" ry="2.65"/>
<ellipse cx="430.71" cy="1429.2" rx="3.05" ry="2.65"/>
<ellipse cx="430.71" cy="1430.78" rx="3.05" ry="2.65"/>
<ellipse cx="430.71" cy="1431.71" rx="3.05" ry="2.65"/>
<ellipse cx="430.71" cy="1433.81" rx="3.05" ry="2.65"/>
<ellipse cx="430.71" cy="1434.64" rx="3.05" ry="2.65"/>
<ellipse cx="430.71" cy="1435.49" rx="3.05" ry="2.65"/>
<ellipse cx="430.71" cy="1436.65" rx="3.05" ry="2.65"/>
<ellipse cx="430.71" cy="1437.08" rx="3.05" ry="2.65"/>
<ellipse cx="430.71" cy="1393.45" rx="3.05" ry="2.65"/>
<ellipse cx="430.71" cy="1387.71" rx="3.05" ry="2.65"/>
<ellipse cx="430.71" cy="1368.18" rx="3.05" ry="2.65"/>
<ellipse cx="430.71" cy="1363.88" rx="3.05" ry="2.65"/>
<ellipse cx="430.71" cy="1354.4" rx="3.05" ry="2.65"/>
<ellipse cx="430.71" cy="1313.06" rx="3.05" ry="2.65"/>
<ellipse cx="430.71" cy="1307.9" rx="3.05" ry="2.65"/>
</g>
<line x1="462.05" y1="1419.86" x2="462.05" y2="1477.56" stroke="#2a2627" stroke-width="2.2"/>
<line x1="462.05" y1="1517.47" x2="462.05" y2="1536.13" stroke="#2a2627" stroke-width="2.2"/>
<rect x="450.15" y="1477.56" width="23.8" height="39.9" fill="#7b73bc" stroke="#2a2627" stroke-width="2.2"/>
<line x1="450.15" y1="1500.53" x2="473.95" y2="1500.53" stroke="#2a2627" stroke-width="4.1"/>
<g fill="none" stroke="#2a2627" stroke-width="1.8">
<ellipse cx="462.05" cy="1356.7" rx="3.05" ry="2.65"/>
<ellipse cx="462.05" cy="1358.15" rx="3.05" ry="2.65"/>
<ellipse cx="462.05" cy="1358.96" rx="3.05" ry="2.65"/>
<ellipse cx="462.05" cy="1359.66" rx="3.05" ry="2.65"/>
<ellipse cx="462.05" cy="1360.7" rx="3.05" ry="2.65"/>
<ellipse cx="462.05" cy="1361.62" rx="3.05" ry="2.65"/>
<ellipse cx="462.05" cy="1363.12" rx="3.05" ry="2.65"/>
<ellipse cx="462.05" cy="1363.88" rx="3.05" ry="2.65"/>
<ellipse cx="462.05" cy="1366.5" rx="3.05" ry="2.65"/>
<ellipse cx="462.05" cy="1368.55" rx="3.05" ry="2.65"/>
<ellipse cx="462.05" cy="1369.58" rx="3.05" ry="2.65"/>
<ellipse cx="462.05" cy="1370.83" rx="3.05" ry="2.65"/>
<ellipse cx="462.05" cy="1372.3" rx="3.05" ry="2.65"/>
<ellipse cx="462.05" cy="1373.8" rx="3.05" ry="2.65"/>
<ellipse cx="462.05" cy="1374.77" rx="3.05" ry="2.65"/>
<ellipse cx="462.05" cy="1377.34" rx="3.05" ry="2.65"/>
<ellipse cx="462.05" cy="1380.22" rx="3.05" ry="2.65"/>
<ellipse cx="462.05" cy="1381.95" rx="3.05" ry="2.65"/>
<ellipse cx="462.05" cy="1383.71" rx="3.05" ry="2.65"/>
<ellipse cx="462.05" cy="1384.6" rx="3.05" ry="2.65"/>
<ellipse cx="462.05" cy="1385.52" rx="3.05" ry="2.65"/>
<ellipse cx="462.05" cy="1386.98" rx="3.05" ry="2.65"/>
<ellipse cx="462.05" cy="1388.26" rx="3.05" ry="2.65"/>
<ellipse cx="462.05" cy="1390.78" rx="3.05" ry="2.65"/>
<ellipse cx="462.05" cy="1391.84" rx="3.05" ry="2.65"/>
<ellipse cx="462.05" cy="1392.59" rx="3.05" ry="2.65"/>
<ellipse cx="462.05" cy="1395.38" rx="3.05" ry="2.65"/>
<ellipse cx="462.05" cy="1397.24" rx="3.05" ry="2.65"/>
<ellipse cx="462.05" cy="1398.27" rx="3.05" ry="2.65"/>
<ellipse cx="462.05" cy="1400.16" rx="3.05" ry="2.65"/>
<ellipse cx="462.05" cy="1400.92" rx="3.05" ry="2.65"/>
<ellipse cx="462.05" cy="1402.78" rx="3.05" ry="2.65"/>
<ellipse cx="462.05" cy="1405.64" rx="3.05" ry="2.65"/>
<ellipse cx="462.05" cy="1408.24" rx="3.05" ry="2.65"/>
<ellipse cx="462.05" cy="1410.47" rx="3.05" ry="2.65"/>
<ellipse cx="462.05" cy="1411.74" rx="3.05" ry="2.65"/>
<ellipse cx="462.05" cy="1413.25" rx="3.05" ry="2.65"/>
<ellipse cx="462.05" cy="1414.32" rx="3.05" ry="2.65"/>
<ellipse cx="462.05" cy="1416.71" rx="3.05" ry="2.65"/>
<ellipse cx="462.05" cy="1418.42" rx="3.05" ry="2.65"/>
<ellipse cx="462.05" cy="1346.37" rx="3.05" ry="2.65"/>
</g>
<line x1="493.38" y1="1437.08" x2="493.38" y2="1480.15" stroke="#2a2627" stroke-width="2.2"/>
<line x1="493.38" y1="1511.44" x2="493.38" y2="1530.96" stroke="#2a2627" stroke-width="2.2"/>
<rect x="481.49" y="1480.15" width="23.8" height="31.29" fill="#7b73bc" stroke="#2a2627" stroke-width="2.2"/>
<line x1="481.49" y1="1496.8" x2="505.28" y2="1496.8" stroke="#2a2627" stroke-width="4.1"/>
<g fill="none" stroke="#2a2627" stroke-width="1.8">
<ellipse cx="493.38" cy="1434.21" rx="3.05" ry="2.65"/>
<ellipse cx="493.38" cy="1426.46" rx="3.05" ry="2.65"/>
<ellipse cx="493.38" cy="1411.25" rx="3.05" ry="2.65"/>
<ellipse cx="493.38" cy="1407.8" rx="3.05" ry="2.65"/>
</g>
<line x1="524.72" y1="1429.91" x2="524.72" y2="1477.56" stroke="#2a2627" stroke-width="2.2"/>
<line x1="524.72" y1="1510.58" x2="524.72" y2="1539" stroke="#2a2627" stroke-width="2.2"/>
<rect x="512.82" y="1477.56" width="23.8" height="33.01" fill="#d25c14" stroke="#2a2627" stroke-width="2.2"/>
<line x1="512.82" y1="1494.21" x2="536.62" y2="1494.21" stroke="#2a2627" stroke-width="4.1"/>
<g fill="none" stroke="#2a2627" stroke-width="1.8">
<ellipse cx="524.72" cy="1427.04" rx="3.05" ry="2.65"/>
<ellipse cx="524.72" cy="1406.94" rx="3.05" ry="2.65"/>
<ellipse cx="524.72" cy="1409.35" rx="3.05" ry="2.65"/>
<ellipse cx="524.72" cy="1410.78" rx="3.05" ry="2.65"/>
<ellipse cx="524.72" cy="1411.97" rx="3.05" ry="2.65"/>
<ellipse cx="524.72" cy="1414.46" rx="3.05" ry="2.65"/>
<ellipse cx="524.72" cy="1417.32" rx="3.05" ry="2.65"/>
<ellipse cx="524.72" cy="1419.86" rx="3.05" ry="2.65"/>
<ellipse cx="524.72" cy="1392.01" rx="3.05" ry="2.65"/>
<ellipse cx="524.72" cy="1380.24" rx="3.05" ry="2.65"/>
<ellipse cx="524.72" cy="1356.7" rx="3.05" ry="2.65"/>
<ellipse cx="524.72" cy="1359.17" rx="3.05" ry="2.65"/>
<ellipse cx="524.72" cy="1361.67" rx="3.05" ry="2.65"/>
<ellipse cx="524.72" cy="1364" rx="3.05" ry="2.65"/>
<ellipse cx="524.72" cy="1365.2" rx="3.05" ry="2.65"/>
<ellipse cx="524.72" cy="1367.04" rx="3.05" ry="2.65"/>
<ellipse cx="524.72" cy="1368.52" rx="3.05" ry="2.65"/>
<ellipse cx="524.72" cy="1369.29" rx="3.05" ry="2.65"/>
<ellipse cx="524.72" cy="1370.05" rx="3.05" ry="2.65"/>
<ellipse cx="524.72" cy="1371.36" rx="3.05" ry="2.65"/>
<ellipse cx="524.72" cy="1372.63" rx="3.05" ry="2.65"/>
<ellipse cx="524.72" cy="1373.93" rx="3.05" ry="2.65"/>
<ellipse cx="524.72" cy="1350.38" rx="3.05" ry="2.65"/>
<ellipse cx="524.72" cy="1323.69" rx="3.05" ry="2.65"/>
<ellipse cx="524.72" cy="1306.46" rx="3.05" ry="2.65"/>
</g>
<line x1="556.06" y1="1405.5" x2="556.06" y2="1467.52" stroke="#2a2627" stroke-width="2.2"/>
<line x1="556.06" y1="1509.14" x2="556.06" y2="1536.99" stroke="#2a2627" stroke-width="2.2"/>
<rect x="544.16" y="1467.52" width="23.8" height="41.63" fill="#d25c14" stroke="#2a2627" stroke-width="2.2"/>
<line x1="544.16" y1="1491.92" x2="567.96" y2="1491.92" stroke="#2a2627" stroke-width="4.1"/>
<g fill="none" stroke="#2a2627" stroke-width="1.8">
<ellipse cx="556.06" cy="1375.36" rx="3.05" ry="2.65"/>
<ellipse cx="556.06" cy="1378.17" rx="3.05" ry="2.65"/>
<ellipse cx="556.06" cy="1379.85" rx="3.05" ry="2.65"/>
<ellipse cx="556.06" cy="1382.61" rx="3.05" ry="2.65"/>
<ellipse cx="556.06" cy="1385.48" rx="3.05" ry="2.65"/>
<ellipse cx="556.06" cy="1388.29" rx="3.05" ry="2.65"/>
<ellipse cx="556.06" cy="1389.79" rx="3.05" ry="2.65"/>
<ellipse cx="556.06" cy="1390.97" rx="3.05" ry="2.65"/>
<ellipse cx="556.06" cy="1392.17" rx="3.05" ry="2.65"/>
<ellipse cx="556.06" cy="1393.3" rx="3.05" ry="2.65"/>
<ellipse cx="556.06" cy="1394.45" rx="3.05" ry="2.65"/>
<ellipse cx="556.06" cy="1396.53" rx="3.05" ry="2.65"/>
<ellipse cx="556.06" cy="1399.21" rx="3.05" ry="2.65"/>
<ellipse cx="556.06" cy="1399.76" rx="3.05" ry="2.65"/>
<ellipse cx="556.06" cy="1363.88" rx="3.05" ry="2.65"/>
<ellipse cx="556.06" cy="1354.4" rx="3.05" ry="2.65"/>
<ellipse cx="556.06" cy="1348.09" rx="3.05" ry="2.65"/>
<ellipse cx="556.06" cy="1342.35" rx="3.05" ry="2.65"/>
<ellipse cx="556.06" cy="1275.46" rx="3.05" ry="2.65"/>
</g>
<line x1="587.39" y1="1379.67" x2="587.39" y2="1455.46" stroke="#2a2627" stroke-width="2.2"/>
<line x1="587.39" y1="1508.28" x2="587.39" y2="1540.43" stroke="#2a2627" stroke-width="2.2"/>
<rect x="575.49" y="1455.46" width="23.8" height="52.82" fill="#7b73bc" stroke="#2a2627" stroke-width="2.2"/>
<line x1="575.49" y1="1485.89" x2="599.29" y2="1485.89" stroke="#2a2627" stroke-width="4.1"/>
<g fill="none" stroke="#2a2627" stroke-width="1.8">
<ellipse cx="587.39" cy="1310.77" rx="3.05" ry="2.65"/>
<ellipse cx="587.39" cy="1312.52" rx="3.05" ry="2.65"/>
<ellipse cx="587.39" cy="1314.66" rx="3.05" ry="2.65"/>
<ellipse cx="587.39" cy="1317.12" rx="3.05" ry="2.65"/>
<ellipse cx="587.39" cy="1318" rx="3.05" ry="2.65"/>
<ellipse cx="587.39" cy="1320.16" rx="3.05" ry="2.65"/>
<ellipse cx="587.39" cy="1322.86" rx="3.05" ry="2.65"/>
<ellipse cx="587.39" cy="1325.28" rx="3.05" ry="2.65"/>
<ellipse cx="587.39" cy="1327.63" rx="3.05" ry="2.65"/>
<ellipse cx="587.39" cy="1329.38" rx="3.05" ry="2.65"/>
<ellipse cx="587.39" cy="1330.47" rx="3.05" ry="2.65"/>
<ellipse cx="587.39" cy="1332.91" rx="3.05" ry="2.65"/>
<ellipse cx="587.39" cy="1334.34" rx="3.05" ry="2.65"/>
<ellipse cx="587.39" cy="1336.8" rx="3.05" ry="2.65"/>
<ellipse cx="587.39" cy="1339.64" rx="3.05" ry="2.65"/>
<ellipse cx="587.39" cy="1341.21" rx="3.05" ry="2.65"/>
<ellipse cx="587.39" cy="1342.8" rx="3.05" ry="2.65"/>
<ellipse cx="587.39" cy="1345.58" rx="3.05" ry="2.65"/>
<ellipse cx="587.39" cy="1347.87" rx="3.05" ry="2.65"/>
<ellipse cx="587.39" cy="1348.95" rx="3.05" ry="2.65"/>
<ellipse cx="587.39" cy="1349.93" rx="3.05" ry="2.65"/>
<ellipse cx="587.39" cy="1350.96" rx="3.05" ry="2.65"/>
<ellipse cx="587.39" cy="1353.65" rx="3.05" ry="2.65"/>
<ellipse cx="587.39" cy="1356.12" rx="3.05" ry="2.65"/>
<ellipse cx="587.39" cy="1357.15" rx="3.05" ry="2.65"/>
<ellipse cx="587.39" cy="1359.66" rx="3.05" ry="2.65"/>
<ellipse cx="587.39" cy="1362.52" rx="3.05" ry="2.65"/>
<ellipse cx="587.39" cy="1364.67" rx="3.05" ry="2.65"/>
<ellipse cx="587.39" cy="1366.14" rx="3.05" ry="2.65"/>
<ellipse cx="587.39" cy="1368.04" rx="3.05" ry="2.65"/>
<ellipse cx="587.39" cy="1369.03" rx="3.05" ry="2.65"/>
<ellipse cx="587.39" cy="1369.76" rx="3.05" ry="2.65"/>
<ellipse cx="587.39" cy="1372.6" rx="3.05" ry="2.65"/>
<ellipse cx="587.39" cy="1374.73" rx="3.05" ry="2.65"/>
<ellipse cx="587.39" cy="1376.59" rx="3.05" ry="2.65"/>
<ellipse cx="587.39" cy="1378.23" rx="3.05" ry="2.65"/>
<ellipse cx="587.39" cy="1290.38" rx="3.05" ry="2.65"/>
<ellipse cx="587.39" cy="1275.17" rx="3.05" ry="2.65"/>
<ellipse cx="587.39" cy="1250.48" rx="3.05" ry="2.65"/>
<ellipse cx="587.39" cy="1241.87" rx="3.05" ry="2.65"/>
<ellipse cx="587.39" cy="1236.13" rx="3.05" ry="2.65"/>
<ellipse cx="587.39" cy="1233.25" rx="3.05" ry="2.65"/>
<ellipse cx="587.39" cy="1204.26" rx="3.05" ry="2.65"/>
</g>
<line x1="618.73" y1="1398.33" x2="618.73" y2="1457.18" stroke="#2a2627" stroke-width="2.2"/>
<line x1="618.73" y1="1498.81" x2="618.73" y2="1530.39" stroke="#2a2627" stroke-width="2.2"/>
<rect x="606.83" y="1457.18" width="23.8" height="41.63" fill="#d25c14" stroke="#2a2627" stroke-width="2.2"/>
<line x1="606.83" y1="1476.13" x2="630.62" y2="1476.13" stroke="#2a2627" stroke-width="4.1"/>
<g fill="none" stroke="#2a2627" stroke-width="1.8">
<ellipse cx="618.73" cy="1394.02" rx="3.05" ry="2.65"/>
<ellipse cx="618.73" cy="1389.72" rx="3.05" ry="2.65"/>
<ellipse cx="618.73" cy="1385.41" rx="3.05" ry="2.65"/>
<ellipse cx="618.73" cy="1373.93" rx="3.05" ry="2.65"/>
<ellipse cx="618.73" cy="1359" rx="3.05" ry="2.65"/>
<ellipse cx="618.73" cy="1313.93" rx="3.05" ry="2.65"/>
</g>
<line x1="650.06" y1="1398.33" x2="650.06" y2="1451.44" stroke="#2a2627" stroke-width="2.2"/>
<line x1="650.06" y1="1493.07" x2="650.06" y2="1532.4" stroke="#2a2627" stroke-width="2.2"/>
<rect x="638.16" y="1451.44" width="23.8" height="41.63" fill="#d25c14" stroke="#2a2627" stroke-width="2.2"/>
<line x1="638.16" y1="1473.83" x2="661.96" y2="1473.83" stroke="#2a2627" stroke-width="4.1"/>
<g fill="none" stroke="#2a2627" stroke-width="1.8">
<ellipse cx="650.06" cy="1384.55" rx="3.05" ry="2.65"/>
<ellipse cx="650.06" cy="1378.81" rx="3.05" ry="2.65"/>
<ellipse cx="650.06" cy="1372.49" rx="3.05" ry="2.65"/>
<ellipse cx="650.06" cy="1363.88" rx="3.05" ry="2.65"/>
<ellipse cx="650.06" cy="1356.13" rx="3.05" ry="2.65"/>
<ellipse cx="650.06" cy="1305.03" rx="3.05" ry="2.65"/>
</g>
<line x1="681.39" y1="1361.01" x2="681.39" y2="1435.94" stroke="#2a2627" stroke-width="2.2"/>
<line x1="681.39" y1="1488.19" x2="681.39" y2="1532.68" stroke="#2a2627" stroke-width="2.2"/>
<rect x="669.5" y="1435.94" width="23.8" height="52.25" fill="#d25c14" stroke="#2a2627" stroke-width="2.2"/>
<line x1="669.5" y1="1464.93" x2="693.29" y2="1464.93" stroke="#2a2627" stroke-width="4.1"/>
<g fill="none" stroke="#2a2627" stroke-width="1.8">
<ellipse cx="681.39" cy="1329.43" rx="3.05" ry="2.65"/>
<ellipse cx="681.39" cy="1331.08" rx="3.05" ry="2.65"/>
<ellipse cx="681.39" cy="1333.7" rx="3.05" ry="2.65"/>
<ellipse cx="681.39" cy="1336.22" rx="3.05" ry="2.65"/>
<ellipse cx="681.39" cy="1337.38" rx="3.05" ry="2.65"/>
<ellipse cx="681.39" cy="1338.64" rx="3.05" ry="2.65"/>
<ellipse cx="681.39" cy="1339.98" rx="3.05" ry="2.65"/>
<ellipse cx="681.39" cy="1341.21" rx="3.05" ry="2.65"/>
<ellipse cx="681.39" cy="1343.2" rx="3.05" ry="2.65"/>
<ellipse cx="681.39" cy="1344.47" rx="3.05" ry="2.65"/>
<ellipse cx="681.39" cy="1346.09" rx="3.05" ry="2.65"/>
<ellipse cx="681.39" cy="1347.08" rx="3.05" ry="2.65"/>
<ellipse cx="681.39" cy="1349.78" rx="3.05" ry="2.65"/>
<ellipse cx="681.39" cy="1351.26" rx="3.05" ry="2.65"/>
<ellipse cx="681.39" cy="1352.97" rx="3.05" ry="2.65"/>
<ellipse cx="681.39" cy="1354.95" rx="3.05" ry="2.65"/>
<ellipse cx="681.39" cy="1357.64" rx="3.05" ry="2.65"/>
<ellipse cx="681.39" cy="1358.14" rx="3.05" ry="2.65"/>
<ellipse cx="681.39" cy="1320.82" rx="3.05" ry="2.65"/>
<ellipse cx="681.39" cy="1309.33" rx="3.05" ry="2.65"/>
<ellipse cx="681.39" cy="1304.16" rx="3.05" ry="2.65"/>
</g>
<line x1="712.73" y1="1313.64" x2="712.73" y2="1426.46" stroke="#2a2627" stroke-width="2.2"/>
<line x1="712.73" y1="1503.69" x2="712.73" y2="1539" stroke="#2a2627" stroke-width="2.2"/>
<rect x="700.83" y="1426.46" width="23.8" height="77.23" fill="#d6388b" stroke="#2a2627" stroke-width="2.2"/>
<line x1="700.83" y1="1474.98" x2="724.63" y2="1474.98" stroke="#2a2627" stroke-width="4.1"/>
<g fill="none" stroke="#2a2627" stroke-width="1.8">
<ellipse cx="712.73" cy="1264.83" rx="3.05" ry="2.65"/>
<ellipse cx="712.73" cy="1267.55" rx="3.05" ry="2.65"/>
<ellipse cx="712.73" cy="1269.36" rx="3.05" ry="2.65"/>
<ellipse cx="712.73" cy="1271.23" rx="3.05" ry="2.65"/>
<ellipse cx="712.73" cy="1273.08" rx="3.05" ry="2.65"/>
<ellipse cx="712.73" cy="1273.82" rx="3.05" ry="2.65"/>
<ellipse cx="712.73" cy="1275.49" rx="3.05" ry="2.65"/>
<ellipse cx="712.73" cy="1276.59" rx="3.05" ry="2.65"/>
<ellipse cx="712.73" cy="1277.3" rx="3.05" ry="2.65"/>
<ellipse cx="712.73" cy="1279.76" rx="3.05" ry="2.65"/>
<ellipse cx="712.73" cy="1280.84" rx="3.05" ry="2.65"/>
<ellipse cx="712.73" cy="1282.58" rx="3.05" ry="2.65"/>
<ellipse cx="712.73" cy="1284.87" rx="3.05" ry="2.65"/>
<ellipse cx="712.73" cy="1286.8" rx="3.05" ry="2.65"/>
<ellipse cx="712.73" cy="1288.21" rx="3.05" ry="2.65"/>
<ellipse cx="712.73" cy="1290.06" rx="3.05" ry="2.65"/>
<ellipse cx="712.73" cy="1291.98" rx="3.05" ry="2.65"/>
<ellipse cx="712.73" cy="1294.4" rx="3.05" ry="2.65"/>
<ellipse cx="712.73" cy="1295.34" rx="3.05" ry="2.65"/>
<ellipse cx="712.73" cy="1297.27" rx="3.05" ry="2.65"/>
<ellipse cx="712.73" cy="1298.52" rx="3.05" ry="2.65"/>
<ellipse cx="712.73" cy="1299.82" rx="3.05" ry="2.65"/>
<ellipse cx="712.73" cy="1302.22" rx="3.05" ry="2.65"/>
<ellipse cx="712.73" cy="1304.04" rx="3.05" ry="2.65"/>
<ellipse cx="712.73" cy="1305.98" rx="3.05" ry="2.65"/>
<ellipse cx="712.73" cy="1308.35" rx="3.05" ry="2.65"/>
<ellipse cx="712.73" cy="1311.06" rx="3.05" ry="2.65"/>
<ellipse cx="712.73" cy="1312.2" rx="3.05" ry="2.65"/>
<ellipse cx="712.73" cy="1250.77" rx="3.05" ry="2.65"/>
<ellipse cx="712.73" cy="1200.24" rx="3.05" ry="2.65"/>
</g>
<rect x="130" y="1184" width="601.9" height="375.2" fill="none" stroke="#2a2627" stroke-width="2.2"/>
<line x1="124.3" y1="1553.05" x2="130" y2="1553.05" stroke="#2a2627" stroke-width="2.2"/>
<text x="117" y="1561.35" font-size="26.3" text-anchor="end">−0.5</text>
<line x1="124.3" y1="1479.5" x2="130" y2="1479.5" stroke="#2a2627" stroke-width="2.2"/>
<text x="117" y="1488.8" font-size="26.3" text-anchor="end">0.0</text>
<line x1="124.3" y1="1405.95" x2="130" y2="1405.95" stroke="#2a2627" stroke-width="2.2"/>
<text x="117" y="1415.25" font-size="26.3" text-anchor="end">0.5</text>
<line x1="124.3" y1="1332.4" x2="130" y2="1332.4" stroke="#2a2627" stroke-width="2.2"/>
<text x="117" y="1341.7" font-size="26.3" text-anchor="end">1.0</text>
<line x1="124.3" y1="1258.85" x2="130" y2="1258.85" stroke="#2a2627" stroke-width="2.2"/>
<text x="117" y="1268.15" font-size="26.3" text-anchor="end">1.5</text>
<line x1="124.3" y1="1185.3" x2="130" y2="1185.3" stroke="#2a2627" stroke-width="2.2"/>
<text x="117" y="1194.6" font-size="26.3" text-anchor="end">2.0</text>
<line x1="148.7" y1="1559.2" x2="148.7" y2="1564.2" stroke="#2a2627" stroke-width="2.2"/>
<text x="149" y="1581.8" font-size="19.4" text-anchor="middle">K</text>
<line x1="180.03" y1="1559.2" x2="180.03" y2="1564.2" stroke="#2a2627" stroke-width="2.2"/>
<text x="180.34" y="1581.8" font-size="19.4" text-anchor="middle">L</text>
<line x1="211.37" y1="1559.2" x2="211.37" y2="1564.2" stroke="#2a2627" stroke-width="2.2"/>
<text x="211.67" y="1581.8" font-size="19.4" text-anchor="middle">M</text>
<line x1="242.7" y1="1559.2" x2="242.7" y2="1564.2" stroke="#2a2627" stroke-width="2.2"/>
<text x="243" y="1581.8" font-size="19.4" text-anchor="middle">G</text>
<line x1="274.04" y1="1559.2" x2="274.04" y2="1564.2" stroke="#2a2627" stroke-width="2.2"/>
<text x="274.34" y="1581.8" font-size="19.4" text-anchor="middle">P</text>
<line x1="305.38" y1="1559.2" x2="305.38" y2="1564.2" stroke="#2a2627" stroke-width="2.2"/>
<text x="305.68" y="1581.8" font-size="19.4" text-anchor="middle">B</text>
<line x1="336.71" y1="1559.2" x2="336.71" y2="1564.2" stroke="#2a2627" stroke-width="2.2"/>
<text x="337.01" y="1581.8" font-size="19.4" text-anchor="middle">D</text>
<line x1="368.04" y1="1559.2" x2="368.04" y2="1564.2" stroke="#2a2627" stroke-width="2.2"/>
<text x="368.34" y="1581.8" font-size="19.4" text-anchor="middle">O</text>
<line x1="399.38" y1="1559.2" x2="399.38" y2="1564.2" stroke="#2a2627" stroke-width="2.2"/>
<text x="399.68" y="1581.8" font-size="19.4" text-anchor="middle">A</text>
<line x1="430.71" y1="1559.2" x2="430.71" y2="1564.2" stroke="#2a2627" stroke-width="2.2"/>
<text x="431.01" y="1581.8" font-size="19.4" text-anchor="middle">E</text>
<line x1="462.05" y1="1559.2" x2="462.05" y2="1564.2" stroke="#2a2627" stroke-width="2.2"/>
<text x="462.35" y="1581.8" font-size="19.4" text-anchor="middle">F</text>
<line x1="493.38" y1="1559.2" x2="493.38" y2="1564.2" stroke="#2a2627" stroke-width="2.2"/>
<text x="493.69" y="1581.8" font-size="19.4" text-anchor="middle">H</text>
<line x1="524.72" y1="1559.2" x2="524.72" y2="1564.2" stroke="#2a2627" stroke-width="2.2"/>
<text x="525.02" y="1581.8" font-size="19.4" text-anchor="middle">R</text>
<line x1="556.06" y1="1559.2" x2="556.06" y2="1564.2" stroke="#2a2627" stroke-width="2.2"/>
<text x="556.36" y="1581.8" font-size="19.4" text-anchor="middle">C</text>
<line x1="587.39" y1="1559.2" x2="587.39" y2="1564.2" stroke="#2a2627" stroke-width="2.2"/>
<text x="587.69" y="1581.8" font-size="19.4" text-anchor="middle">J</text>
<line x1="618.73" y1="1559.2" x2="618.73" y2="1564.2" stroke="#2a2627" stroke-width="2.2"/>
<text x="619.02" y="1581.8" font-size="19.4" text-anchor="middle">N</text>
<line x1="650.06" y1="1559.2" x2="650.06" y2="1564.2" stroke="#2a2627" stroke-width="2.2"/>
<text x="650.36" y="1581.8" font-size="19.4" text-anchor="middle">Q</text>
<line x1="681.39" y1="1559.2" x2="681.39" y2="1564.2" stroke="#2a2627" stroke-width="2.2"/>
<text x="681.69" y="1581.8" font-size="19.4" text-anchor="middle">S</text>
<line x1="712.73" y1="1559.2" x2="712.73" y2="1564.2" stroke="#2a2627" stroke-width="2.2"/>
<text x="713.03" y="1581.8" font-size="19.4" text-anchor="middle">I</text>
<text x="417.9" y="1611.3" font-size="26.3" text-anchor="middle">Patient</text>
<text x="755.5" y="1296.6" font-size="23.3">Condition</text>
<line x1="773.05" y1="1311.95" x2="773.05" y2="1341.45" stroke="#2a2627" stroke-width="2.1"/>
<rect x="758.8" y="1317.45" width="28.5" height="18.5" fill="#d25c14" stroke="#2a2627" stroke-width="2.1"/>
<line x1="758.8" y1="1326.7" x2="787.3" y2="1326.7" stroke="#2a2627" stroke-width="3.15"/>
<text x="803.7" y="1334" font-size="19.1">Asymptomatic</text>
<line x1="773.05" y1="1346.85" x2="773.05" y2="1376.35" stroke="#2a2627" stroke-width="2.1"/>
<rect x="758.8" y="1352.35" width="28.5" height="18.5" fill="#4ba886" stroke="#2a2627" stroke-width="2.1"/>
<line x1="758.8" y1="1361.6" x2="787.3" y2="1361.6" stroke="#2a2627" stroke-width="3.15"/>
<text x="803.7" y="1368.9" font-size="19.1">HC</text>
<line x1="773.05" y1="1381.55" x2="773.05" y2="1411.05" stroke="#2a2627" stroke-width="2.1"/>
<rect x="758.8" y="1387.05" width="28.5" height="18.5" fill="#7b73bc" stroke="#2a2627" stroke-width="2.1"/>
<line x1="758.8" y1="1396.3" x2="787.3" y2="1396.3" stroke="#2a2627" stroke-width="3.15"/>
<text x="803.7" y="1403.6" font-size="19.1">Moderate</text>
<line x1="773.05" y1="1416.65" x2="773.05" y2="1446.15" stroke="#2a2627" stroke-width="2.1"/>
<rect x="758.8" y="1422.15" width="28.5" height="18.5" fill="#d6388b" stroke="#2a2627" stroke-width="2.1"/>
<line x1="758.8" y1="1431.4" x2="787.3" y2="1431.4" stroke="#2a2627" stroke-width="3.15"/>
<text x="803.7" y="1438.7" font-size="19.1">Severe</text>
</g>
<g id="panel-g">
<text x="964" y="1179.9" font-size="40.5">g</text>
<text x="988" y="1373.5" font-size="26.6" text-anchor="middle" transform="rotate(-90 988 1373.5)">Type 1 interferon pathway</text>
<g stroke="#e8e8e8">
<line x1="1062" y1="1511.12" x2="1233.4" y2="1511.12" stroke-width="1.2"/>
<line x1="1062" y1="1415.88" x2="1233.4" y2="1415.88" stroke-width="1.2"/>
<line x1="1062" y1="1320.62" x2="1233.4" y2="1320.62" stroke-width="1.2"/>
<line x1="1062" y1="1225.38" x2="1233.4" y2="1225.38" stroke-width="1.2"/>
<line x1="1062" y1="1558.75" x2="1233.4" y2="1558.75" stroke-width="2.4"/>
<line x1="1062" y1="1463.5" x2="1233.4" y2="1463.5" stroke-width="2.4"/>
<line x1="1062" y1="1368.25" x2="1233.4" y2="1368.25" stroke-width="2.4"/>
<line x1="1062" y1="1273" x2="1233.4" y2="1273" stroke-width="2.4"/>
<line x1="1093.9" y1="1179.6" x2="1093.9" y2="1560" stroke-width="2.4"/>
<line x1="1147.6" y1="1179.6" x2="1147.6" y2="1560" stroke-width="2.4"/>
<line x1="1201.3" y1="1179.6" x2="1201.3" y2="1560" stroke-width="2.4"/>
</g>
<line x1="1093.9" y1="1402.63" x2="1093.9" y2="1461.2" stroke="#2a2627" stroke-width="2.5"/>
<line x1="1093.9" y1="1505.98" x2="1093.9" y2="1536.13" stroke="#2a2627" stroke-width="2.5"/>
<rect x="1074.3" y="1461.2" width="39.2" height="44.79" fill="#6e64a3" stroke="#2a2627" stroke-width="2.5"/>
<line x1="1074.3" y1="1488.76" x2="1113.5" y2="1488.76" stroke="#2a2627" stroke-width="4.4"/>
<g fill="none" stroke="#2a2627" stroke-width="1.8">
<ellipse cx="1093.9" cy="1394.02" rx="3.05" ry="2.65"/>
<ellipse cx="1093.9" cy="1391.15" rx="3.05" ry="2.65"/>
<ellipse cx="1093.9" cy="1383.97" rx="3.05" ry="2.65"/>
<ellipse cx="1093.9" cy="1379.67" rx="3.05" ry="2.65"/>
<ellipse cx="1093.9" cy="1376.8" rx="3.05" ry="2.65"/>
<ellipse cx="1093.9" cy="1352.39" rx="3.05" ry="2.65"/>
<ellipse cx="1093.9" cy="1348.09" rx="3.05" ry="2.65"/>
<ellipse cx="1093.9" cy="1343.78" rx="3.05" ry="2.65"/>
<ellipse cx="1093.9" cy="1339.48" rx="3.05" ry="2.65"/>
<ellipse cx="1093.9" cy="1330.29" rx="3.05" ry="2.65"/>
<ellipse cx="1093.9" cy="1326.56" rx="3.05" ry="2.65"/>
<ellipse cx="1093.9" cy="1316.51" rx="3.05" ry="2.65"/>
</g>
<line x1="1147.6" y1="1439.95" x2="1147.6" y2="1485.03" stroke="#2a2627" stroke-width="2.5"/>
<line x1="1147.6" y1="1516.89" x2="1147.6" y2="1538.14" stroke="#2a2627" stroke-width="2.5"/>
<rect x="1128" y="1485.03" width="39.2" height="31.87" fill="#a68fd9" stroke="#2a2627" stroke-width="2.5"/>
<line x1="1128" y1="1500.82" x2="1167.2" y2="1500.82" stroke="#2a2627" stroke-width="4.4"/>
<g fill="none" stroke="#2a2627" stroke-width="1.8">
<ellipse cx="1147.6" cy="1437.66" rx="3.05" ry="2.65"/>
<ellipse cx="1147.6" cy="1432.78" rx="3.05" ry="2.65"/>
<ellipse cx="1147.6" cy="1422.73" rx="3.05" ry="2.65"/>
<ellipse cx="1147.6" cy="1412.68" rx="3.05" ry="2.65"/>
<ellipse cx="1147.6" cy="1409.81" rx="3.05" ry="2.65"/>
<ellipse cx="1147.6" cy="1402.63" rx="3.05" ry="2.65"/>
<ellipse cx="1147.6" cy="1396.03" rx="3.05" ry="2.65"/>
<ellipse cx="1147.6" cy="1366.75" rx="3.05" ry="2.65"/>
</g>
<line x1="1201.3" y1="1435.65" x2="1201.3" y2="1483.88" stroke="#2a2627" stroke-width="2.5"/>
<line x1="1201.3" y1="1516.89" x2="1201.3" y2="1539.57" stroke="#2a2627" stroke-width="2.5"/>
<rect x="1181.7" y="1483.88" width="39.2" height="33.01" fill="#c9cbf2" stroke="#2a2627" stroke-width="2.5"/>
<line x1="1181.7" y1="1502.54" x2="1220.9" y2="1502.54" stroke="#2a2627" stroke-width="4.4"/>
<g fill="none" stroke="#2a2627" stroke-width="1.8">
<ellipse cx="1201.3" cy="1425.6" rx="3.05" ry="2.65"/>
<ellipse cx="1201.3" cy="1427.65" rx="3.05" ry="2.65"/>
<ellipse cx="1201.3" cy="1429.46" rx="3.05" ry="2.65"/>
<ellipse cx="1201.3" cy="1431.29" rx="3.05" ry="2.65"/>
<ellipse cx="1201.3" cy="1432.78" rx="3.05" ry="2.65"/>
<ellipse cx="1201.3" cy="1415.55" rx="3.05" ry="2.65"/>
<ellipse cx="1201.3" cy="1401.2" rx="3.05" ry="2.65"/>
<ellipse cx="1201.3" cy="1402.89" rx="3.05" ry="2.65"/>
<ellipse cx="1201.3" cy="1404.77" rx="3.05" ry="2.65"/>
<ellipse cx="1201.3" cy="1406.52" rx="3.05" ry="2.65"/>
<ellipse cx="1201.3" cy="1406.94" rx="3.05" ry="2.65"/>
<ellipse cx="1201.3" cy="1393.45" rx="3.05" ry="2.65"/>
<ellipse cx="1201.3" cy="1385.41" rx="3.05" ry="2.65"/>
<ellipse cx="1201.3" cy="1344.07" rx="3.05" ry="2.65"/>
<ellipse cx="1201.3" cy="1325.12" rx="3.05" ry="2.65"/>
<ellipse cx="1201.3" cy="1324.26" rx="3.05" ry="2.65"/>
</g>
<rect x="1062" y="1179.6" width="171.4" height="380.4" fill="none" stroke="#2b2728" stroke-width="1.6"/>
<text x="1147.6" y="1582.9" font-size="21" text-anchor="middle">A</text>
<g stroke="#e8e8e8">
<line x1="1246.6" y1="1511.12" x2="1418" y2="1511.12" stroke-width="1.2"/>
<line x1="1246.6" y1="1415.88" x2="1418" y2="1415.88" stroke-width="1.2"/>
<line x1="1246.6" y1="1320.62" x2="1418" y2="1320.62" stroke-width="1.2"/>
<line x1="1246.6" y1="1225.38" x2="1418" y2="1225.38" stroke-width="1.2"/>
<line x1="1246.6" y1="1558.75" x2="1418" y2="1558.75" stroke-width="2.4"/>
<line x1="1246.6" y1="1463.5" x2="1418" y2="1463.5" stroke-width="2.4"/>
<line x1="1246.6" y1="1368.25" x2="1418" y2="1368.25" stroke-width="2.4"/>
<line x1="1246.6" y1="1273" x2="1418" y2="1273" stroke-width="2.4"/>
<line x1="1278.5" y1="1179.6" x2="1278.5" y2="1560" stroke-width="2.4"/>
<line x1="1332.2" y1="1179.6" x2="1332.2" y2="1560" stroke-width="2.4"/>
<line x1="1385.9" y1="1179.6" x2="1385.9" y2="1560" stroke-width="2.4"/>
</g>
<line x1="1278.5" y1="1438.52" x2="1278.5" y2="1483.88" stroke="#2a2627" stroke-width="2.5"/>
<line x1="1278.5" y1="1516.32" x2="1278.5" y2="1541.87" stroke="#2a2627" stroke-width="2.5"/>
<rect x="1258.9" y="1483.88" width="39.2" height="32.44" fill="#6e64a3" stroke="#2a2627" stroke-width="2.5"/>
<line x1="1258.9" y1="1501.97" x2="1298.1" y2="1501.97" stroke="#2a2627" stroke-width="4.4"/>
<g fill="none" stroke="#2a2627" stroke-width="1.8">
<ellipse cx="1278.5" cy="1402.63" rx="3.05" ry="2.65"/>
<ellipse cx="1278.5" cy="1404.87" rx="3.05" ry="2.65"/>
<ellipse cx="1278.5" cy="1407.5" rx="3.05" ry="2.65"/>
<ellipse cx="1278.5" cy="1410.27" rx="3.05" ry="2.65"/>
<ellipse cx="1278.5" cy="1411.54" rx="3.05" ry="2.65"/>
<ellipse cx="1278.5" cy="1413.48" rx="3.05" ry="2.65"/>
<ellipse cx="1278.5" cy="1416.25" rx="3.05" ry="2.65"/>
<ellipse cx="1278.5" cy="1418.8" rx="3.05" ry="2.65"/>
<ellipse cx="1278.5" cy="1419.8" rx="3.05" ry="2.65"/>
<ellipse cx="1278.5" cy="1420.77" rx="3.05" ry="2.65"/>
<ellipse cx="1278.5" cy="1422.44" rx="3.05" ry="2.65"/>
<ellipse cx="1278.5" cy="1423.3" rx="3.05" ry="2.65"/>
<ellipse cx="1278.5" cy="1424.53" rx="3.05" ry="2.65"/>
<ellipse cx="1278.5" cy="1425.39" rx="3.05" ry="2.65"/>
<ellipse cx="1278.5" cy="1427.56" rx="3.05" ry="2.65"/>
<ellipse cx="1278.5" cy="1429.99" rx="3.05" ry="2.65"/>
<ellipse cx="1278.5" cy="1432.66" rx="3.05" ry="2.65"/>
<ellipse cx="1278.5" cy="1433.7" rx="3.05" ry="2.65"/>
<ellipse cx="1278.5" cy="1435.98" rx="3.05" ry="2.65"/>
<ellipse cx="1278.5" cy="1437.08" rx="3.05" ry="2.65"/>
<ellipse cx="1278.5" cy="1394.02" rx="3.05" ry="2.65"/>
<ellipse cx="1278.5" cy="1391.15" rx="3.05" ry="2.65"/>
<ellipse cx="1278.5" cy="1382.54" rx="3.05" ry="2.65"/>
<ellipse cx="1278.5" cy="1376.8" rx="3.05" ry="2.65"/>
<ellipse cx="1278.5" cy="1369.62" rx="3.05" ry="2.65"/>
</g>
<line x1="1332.2" y1="1444.26" x2="1332.2" y2="1489.05" stroke="#2a2627" stroke-width="2.5"/>
<line x1="1332.2" y1="1521.2" x2="1332.2" y2="1543.31" stroke="#2a2627" stroke-width="2.5"/>
<rect x="1312.6" y="1489.05" width="39.2" height="32.15" fill="#a68fd9" stroke="#2a2627" stroke-width="2.5"/>
<line x1="1312.6" y1="1505.41" x2="1351.8" y2="1505.41" stroke="#2a2627" stroke-width="4.4"/>
<g fill="none" stroke="#2a2627" stroke-width="1.8">
<ellipse cx="1332.2" cy="1414.12" rx="3.05" ry="2.65"/>
<ellipse cx="1332.2" cy="1415.13" rx="3.05" ry="2.65"/>
<ellipse cx="1332.2" cy="1417.77" rx="3.05" ry="2.65"/>
<ellipse cx="1332.2" cy="1420.6" rx="3.05" ry="2.65"/>
<ellipse cx="1332.2" cy="1421.79" rx="3.05" ry="2.65"/>
<ellipse cx="1332.2" cy="1424.58" rx="3.05" ry="2.65"/>
<ellipse cx="1332.2" cy="1426.16" rx="3.05" ry="2.65"/>
<ellipse cx="1332.2" cy="1427.93" rx="3.05" ry="2.65"/>
<ellipse cx="1332.2" cy="1430.81" rx="3.05" ry="2.65"/>
<ellipse cx="1332.2" cy="1433.34" rx="3.05" ry="2.65"/>
<ellipse cx="1332.2" cy="1434.39" rx="3.05" ry="2.65"/>
<ellipse cx="1332.2" cy="1436.04" rx="3.05" ry="2.65"/>
<ellipse cx="1332.2" cy="1437.88" rx="3.05" ry="2.65"/>
<ellipse cx="1332.2" cy="1439.32" rx="3.05" ry="2.65"/>
<ellipse cx="1332.2" cy="1440.45" rx="3.05" ry="2.65"/>
<ellipse cx="1332.2" cy="1441.85" rx="3.05" ry="2.65"/>
<ellipse cx="1332.2" cy="1442.83" rx="3.05" ry="2.65"/>
<ellipse cx="1332.2" cy="1402.63" rx="3.05" ry="2.65"/>
<ellipse cx="1332.2" cy="1363.88" rx="3.05" ry="2.65"/>
<ellipse cx="1332.2" cy="1361.87" rx="3.05" ry="2.65"/>
<ellipse cx="1332.2" cy="1346.08" rx="3.05" ry="2.65"/>
</g>
<line x1="1385.9" y1="1418.42" x2="1385.9" y2="1475.84" stroke="#2a2627" stroke-width="2.5"/>
<line x1="1385.9" y1="1515.17" x2="1385.9" y2="1535.55" stroke="#2a2627" stroke-width="2.5"/>
<rect x="1366.3" y="1475.84" width="39.2" height="39.33" fill="#c9cbf2" stroke="#2a2627" stroke-width="2.5"/>
<line x1="1366.3" y1="1497.37" x2="1405.5" y2="1497.37" stroke="#2a2627" stroke-width="4.4"/>
<g fill="none" stroke="#2a2627" stroke-width="1.8">
<ellipse cx="1385.9" cy="1379.67" rx="3.05" ry="2.65"/>
<ellipse cx="1385.9" cy="1380.41" rx="3.05" ry="2.65"/>
<ellipse cx="1385.9" cy="1382.33" rx="3.05" ry="2.65"/>
<ellipse cx="1385.9" cy="1384" rx="3.05" ry="2.65"/>
<ellipse cx="1385.9" cy="1384.74" rx="3.05" ry="2.65"/>
<ellipse cx="1385.9" cy="1386.17" rx="3.05" ry="2.65"/>
<ellipse cx="1385.9" cy="1388.24" rx="3.05" ry="2.65"/>
<ellipse cx="1385.9" cy="1390.07" rx="3.05" ry="2.65"/>
<ellipse cx="1385.9" cy="1390.91" rx="3.05" ry="2.65"/>
<ellipse cx="1385.9" cy="1393.78" rx="3.05" ry="2.65"/>
<ellipse cx="1385.9" cy="1396.21" rx="3.05" ry="2.65"/>
<ellipse cx="1385.9" cy="1399.05" rx="3.05" ry="2.65"/>
<ellipse cx="1385.9" cy="1399.98" rx="3.05" ry="2.65"/>
<ellipse cx="1385.9" cy="1401.26" rx="3.05" ry="2.65"/>
<ellipse cx="1385.9" cy="1402.05" rx="3.05" ry="2.65"/>
<ellipse cx="1385.9" cy="1404.46" rx="3.05" ry="2.65"/>
<ellipse cx="1385.9" cy="1405.76" rx="3.05" ry="2.65"/>
<ellipse cx="1385.9" cy="1406.74" rx="3.05" ry="2.65"/>
<ellipse cx="1385.9" cy="1408.37" rx="3.05" ry="2.65"/>
<ellipse cx="1385.9" cy="1411.08" rx="3.05" ry="2.65"/>
<ellipse cx="1385.9" cy="1413.58" rx="3.05" ry="2.65"/>
<ellipse cx="1385.9" cy="1414.85" rx="3.05" ry="2.65"/>
<ellipse cx="1385.9" cy="1415.88" rx="3.05" ry="2.65"/>
<ellipse cx="1385.9" cy="1416.99" rx="3.05" ry="2.65"/>
<ellipse cx="1385.9" cy="1371.05" rx="3.05" ry="2.65"/>
<ellipse cx="1385.9" cy="1362.44" rx="3.05" ry="2.65"/>
<ellipse cx="1385.9" cy="1356.7" rx="3.05" ry="2.65"/>
<ellipse cx="1385.9" cy="1353.83" rx="3.05" ry="2.65"/>
<ellipse cx="1385.9" cy="1340.62" rx="3.05" ry="2.65"/>
<ellipse cx="1385.9" cy="1330" rx="3.05" ry="2.65"/>
<ellipse cx="1385.9" cy="1262.25" rx="3.05" ry="2.65"/>
<ellipse cx="1385.9" cy="1196.51" rx="3.05" ry="2.65"/>
</g>
<rect x="1246.6" y="1179.6" width="171.4" height="380.4" fill="none" stroke="#2b2728" stroke-width="1.6"/>
<text x="1332.2" y="1582.9" font-size="21" text-anchor="middle">D</text>
<g stroke="#e8e8e8">
<line x1="1431.4" y1="1511.12" x2="1602.8" y2="1511.12" stroke-width="1.2"/>
<line x1="1431.4" y1="1415.88" x2="1602.8" y2="1415.88" stroke-width="1.2"/>
<line x1="1431.4" y1="1320.62" x2="1602.8" y2="1320.62" stroke-width="1.2"/>
<line x1="1431.4" y1="1225.38" x2="1602.8" y2="1225.38" stroke-width="1.2"/>
<line x1="1431.4" y1="1558.75" x2="1602.8" y2="1558.75" stroke-width="2.4"/>
<line x1="1431.4" y1="1463.5" x2="1602.8" y2="1463.5" stroke-width="2.4"/>
<line x1="1431.4" y1="1368.25" x2="1602.8" y2="1368.25" stroke-width="2.4"/>
<line x1="1431.4" y1="1273" x2="1602.8" y2="1273" stroke-width="2.4"/>
<line x1="1463.3" y1="1179.6" x2="1463.3" y2="1560" stroke-width="2.4"/>
<line x1="1517" y1="1179.6" x2="1517" y2="1560" stroke-width="2.4"/>
<line x1="1570.7" y1="1179.6" x2="1570.7" y2="1560" stroke-width="2.4"/>
</g>
<line x1="1463.3" y1="1391.15" x2="1463.3" y2="1456.03" stroke="#2a2627" stroke-width="2.5"/>
<line x1="1463.3" y1="1500.82" x2="1463.3" y2="1532.68" stroke="#2a2627" stroke-width="2.5"/>
<rect x="1443.7" y="1456.03" width="39.2" height="44.79" fill="#6e64a3" stroke="#2a2627" stroke-width="2.5"/>
<line x1="1443.7" y1="1481.01" x2="1482.9" y2="1481.01" stroke="#2a2627" stroke-width="4.4"/>
<g fill="none" stroke="#2a2627" stroke-width="1.8">
<ellipse cx="1463.3" cy="1362.44" rx="3.05" ry="2.65"/>
<ellipse cx="1463.3" cy="1364.4" rx="3.05" ry="2.65"/>
<ellipse cx="1463.3" cy="1366.64" rx="3.05" ry="2.65"/>
<ellipse cx="1463.3" cy="1367.54" rx="3.05" ry="2.65"/>
<ellipse cx="1463.3" cy="1368.36" rx="3.05" ry="2.65"/>
<ellipse cx="1463.3" cy="1370.58" rx="3.05" ry="2.65"/>
<ellipse cx="1463.3" cy="1372.21" rx="3.05" ry="2.65"/>
<ellipse cx="1463.3" cy="1373.07" rx="3.05" ry="2.65"/>
<ellipse cx="1463.3" cy="1375.84" rx="3.05" ry="2.65"/>
<ellipse cx="1463.3" cy="1377.93" rx="3.05" ry="2.65"/>
<ellipse cx="1463.3" cy="1380.39" rx="3.05" ry="2.65"/>
<ellipse cx="1463.3" cy="1381.28" rx="3.05" ry="2.65"/>
<ellipse cx="1463.3" cy="1383.86" rx="3.05" ry="2.65"/>
<ellipse cx="1463.3" cy="1384.71" rx="3.05" ry="2.65"/>
<ellipse cx="1463.3" cy="1386.84" rx="3.05" ry="2.65"/>
<ellipse cx="1463.3" cy="1350.96" rx="3.05" ry="2.65"/>
<ellipse cx="1463.3" cy="1344.36" rx="3.05" ry="2.65"/>
<ellipse cx="1463.3" cy="1317.94" rx="3.05" ry="2.65"/>
<ellipse cx="1463.3" cy="1316.51" rx="3.05" ry="2.65"/>
<ellipse cx="1463.3" cy="1301.01" rx="3.05" ry="2.65"/>
<ellipse cx="1463.3" cy="1247.61" rx="3.05" ry="2.65"/>
<ellipse cx="1463.3" cy="1241.29" rx="3.05" ry="2.65"/>
</g>
<line x1="1517" y1="1441.39" x2="1517" y2="1482.73" stroke="#2a2627" stroke-width="2.5"/>
<line x1="1517" y1="1513.16" x2="1517" y2="1538.42" stroke="#2a2627" stroke-width="2.5"/>
<rect x="1497.4" y="1482.73" width="39.2" height="30.43" fill="#a68fd9" stroke="#2a2627" stroke-width="2.5"/>
<line x1="1497.4" y1="1499.67" x2="1536.6" y2="1499.67" stroke="#2a2627" stroke-width="4.4"/>
<g fill="none" stroke="#2a2627" stroke-width="1.8">
<ellipse cx="1517" cy="1422.73" rx="3.05" ry="2.65"/>
<ellipse cx="1517" cy="1424.43" rx="3.05" ry="2.65"/>
<ellipse cx="1517" cy="1425.87" rx="3.05" ry="2.65"/>
<ellipse cx="1517" cy="1427.79" rx="3.05" ry="2.65"/>
<ellipse cx="1517" cy="1430.53" rx="3.05" ry="2.65"/>
<ellipse cx="1517" cy="1431.82" rx="3.05" ry="2.65"/>
<ellipse cx="1517" cy="1432.8" rx="3.05" ry="2.65"/>
<ellipse cx="1517" cy="1434.66" rx="3.05" ry="2.65"/>
<ellipse cx="1517" cy="1435.89" rx="3.05" ry="2.65"/>
<ellipse cx="1517" cy="1436.83" rx="3.05" ry="2.65"/>
<ellipse cx="1517" cy="1437.88" rx="3.05" ry="2.65"/>
<ellipse cx="1517" cy="1438.52" rx="3.05" ry="2.65"/>
<ellipse cx="1517" cy="1416.41" rx="3.05" ry="2.65"/>
<ellipse cx="1517" cy="1409.81" rx="3.05" ry="2.65"/>
<ellipse cx="1517" cy="1405.5" rx="3.05" ry="2.65"/>
<ellipse cx="1517" cy="1399.19" rx="3.05" ry="2.65"/>
<ellipse cx="1517" cy="1388.28" rx="3.05" ry="2.65"/>
<ellipse cx="1517" cy="1386.84" rx="3.05" ry="2.65"/>
<ellipse cx="1517" cy="1362.44" rx="3.05" ry="2.65"/>
<ellipse cx="1517" cy="1350.38" rx="3.05" ry="2.65"/>
<ellipse cx="1517" cy="1313.35" rx="3.05" ry="2.65"/>
</g>
<rect x="1431.4" y="1179.6" width="171.4" height="380.4" fill="none" stroke="#2b2728" stroke-width="1.6"/>
<text x="1517" y="1582.9" font-size="21" text-anchor="middle">E</text>
<g stroke="#e8e8e8">
<line x1="1616.5" y1="1511.12" x2="1787.9" y2="1511.12" stroke-width="1.2"/>
<line x1="1616.5" y1="1415.88" x2="1787.9" y2="1415.88" stroke-width="1.2"/>
<line x1="1616.5" y1="1320.62" x2="1787.9" y2="1320.62" stroke-width="1.2"/>
<line x1="1616.5" y1="1225.38" x2="1787.9" y2="1225.38" stroke-width="1.2"/>
<line x1="1616.5" y1="1558.75" x2="1787.9" y2="1558.75" stroke-width="2.4"/>
<line x1="1616.5" y1="1463.5" x2="1787.9" y2="1463.5" stroke-width="2.4"/>
<line x1="1616.5" y1="1368.25" x2="1787.9" y2="1368.25" stroke-width="2.4"/>
<line x1="1616.5" y1="1273" x2="1787.9" y2="1273" stroke-width="2.4"/>
<line x1="1648.4" y1="1179.6" x2="1648.4" y2="1560" stroke-width="2.4"/>
<line x1="1702.1" y1="1179.6" x2="1702.1" y2="1560" stroke-width="2.4"/>
<line x1="1755.8" y1="1179.6" x2="1755.8" y2="1560" stroke-width="2.4"/>
</g>
<line x1="1648.4" y1="1352.39" x2="1648.4" y2="1431.06" stroke="#2a2627" stroke-width="2.5"/>
<line x1="1648.4" y1="1486.46" x2="1648.4" y2="1533.83" stroke="#2a2627" stroke-width="2.5"/>
<rect x="1628.8" y="1431.06" width="39.2" height="55.41" fill="#6e64a3" stroke="#2a2627" stroke-width="2.5"/>
<line x1="1628.8" y1="1460.05" x2="1668" y2="1460.05" stroke="#2a2627" stroke-width="4.4"/>
<g fill="none" stroke="#2a2627" stroke-width="1.8">
<ellipse cx="1648.4" cy="1342.35" rx="3.05" ry="2.65"/>
<ellipse cx="1648.4" cy="1343.49" rx="3.05" ry="2.65"/>
<ellipse cx="1648.4" cy="1344.88" rx="3.05" ry="2.65"/>
<ellipse cx="1648.4" cy="1346.25" rx="3.05" ry="2.65"/>
<ellipse cx="1648.4" cy="1348.62" rx="3.05" ry="2.65"/>
<ellipse cx="1648.4" cy="1349.52" rx="3.05" ry="2.65"/>
<ellipse cx="1648.4" cy="1336.6" rx="3.05" ry="2.65"/>
<ellipse cx="1648.4" cy="1320.82" rx="3.05" ry="2.65"/>
<ellipse cx="1648.4" cy="1322.62" rx="3.05" ry="2.65"/>
<ellipse cx="1648.4" cy="1323.71" rx="3.05" ry="2.65"/>
<ellipse cx="1648.4" cy="1325.17" rx="3.05" ry="2.65"/>
<ellipse cx="1648.4" cy="1325.91" rx="3.05" ry="2.65"/>
<ellipse cx="1648.4" cy="1327.16" rx="3.05" ry="2.65"/>
<ellipse cx="1648.4" cy="1327.89" rx="3.05" ry="2.65"/>
<ellipse cx="1648.4" cy="1329.43" rx="3.05" ry="2.65"/>
<ellipse cx="1648.4" cy="1313.64" rx="3.05" ry="2.65"/>
<ellipse cx="1648.4" cy="1307.9" rx="3.05" ry="2.65"/>
<ellipse cx="1648.4" cy="1306.46" rx="3.05" ry="2.65"/>
<ellipse cx="1648.4" cy="1290.38" rx="3.05" ry="2.65"/>
</g>
<line x1="1702.1" y1="1438.52" x2="1702.1" y2="1481.87" stroke="#2a2627" stroke-width="2.5"/>
<line x1="1702.1" y1="1515.75" x2="1702.1" y2="1530.96" stroke="#2a2627" stroke-width="2.5"/>
<rect x="1682.5" y="1481.87" width="39.2" height="33.88" fill="#a68fd9" stroke="#2a2627" stroke-width="2.5"/>
<line x1="1682.5" y1="1498.81" x2="1721.7" y2="1498.81" stroke="#2a2627" stroke-width="4.4"/>
<g fill="none" stroke="#2a2627" stroke-width="1.8">
<ellipse cx="1702.1" cy="1431.63" rx="3.05" ry="2.65"/>
<ellipse cx="1702.1" cy="1410.39" rx="3.05" ry="2.65"/>
</g>
<line x1="1755.8" y1="1445.7" x2="1755.8" y2="1488.19" stroke="#2a2627" stroke-width="2.5"/>
<line x1="1755.8" y1="1519.48" x2="1755.8" y2="1536.13" stroke="#2a2627" stroke-width="2.5"/>
<rect x="1736.2" y="1488.19" width="39.2" height="31.29" fill="#c9cbf2" stroke="#2a2627" stroke-width="2.5"/>
<line x1="1736.2" y1="1504.26" x2="1775.4" y2="1504.26" stroke="#2a2627" stroke-width="4.4"/>
<g fill="none" stroke="#2a2627" stroke-width="1.8">
<ellipse cx="1755.8" cy="1412.68" rx="3.05" ry="2.65"/>
<ellipse cx="1755.8" cy="1414.59" rx="3.05" ry="2.65"/>
<ellipse cx="1755.8" cy="1415.71" rx="3.05" ry="2.65"/>
<ellipse cx="1755.8" cy="1417.46" rx="3.05" ry="2.65"/>
<ellipse cx="1755.8" cy="1420.21" rx="3.05" ry="2.65"/>
<ellipse cx="1755.8" cy="1421.15" rx="3.05" ry="2.65"/>
<ellipse cx="1755.8" cy="1423.65" rx="3.05" ry="2.65"/>
<ellipse cx="1755.8" cy="1425.3" rx="3.05" ry="2.65"/>
<ellipse cx="1755.8" cy="1427.09" rx="3.05" ry="2.65"/>
<ellipse cx="1755.8" cy="1429.62" rx="3.05" ry="2.65"/>
<ellipse cx="1755.8" cy="1431.19" rx="3.05" ry="2.65"/>
<ellipse cx="1755.8" cy="1433" rx="3.05" ry="2.65"/>
<ellipse cx="1755.8" cy="1435.22" rx="3.05" ry="2.65"/>
<ellipse cx="1755.8" cy="1438.08" rx="3.05" ry="2.65"/>
<ellipse cx="1755.8" cy="1439.53" rx="3.05" ry="2.65"/>
<ellipse cx="1755.8" cy="1442.06" rx="3.05" ry="2.65"/>
<ellipse cx="1755.8" cy="1444.26" rx="3.05" ry="2.65"/>
<ellipse cx="1755.8" cy="1405.5" rx="3.05" ry="2.65"/>
<ellipse cx="1755.8" cy="1401.2" rx="3.05" ry="2.65"/>
<ellipse cx="1755.8" cy="1397.75" rx="3.05" ry="2.65"/>
<ellipse cx="1755.8" cy="1362.73" rx="3.05" ry="2.65"/>
</g>
<rect x="1616.5" y="1179.6" width="171.4" height="380.4" fill="none" stroke="#2b2728" stroke-width="1.6"/>
<text x="1702.1" y="1582.9" font-size="21" text-anchor="middle">F</text>
<line x1="1056" y1="1558.75" x2="1062" y2="1558.75" stroke="#2a2627" stroke-width="1.6"/>
<text x="1044.6" y="1562.75" font-size="26.3" text-anchor="end">−0.5</text>
<line x1="1056" y1="1463.5" x2="1062" y2="1463.5" stroke="#2a2627" stroke-width="1.6"/>
<text x="1044.6" y="1472.8" font-size="26.3" text-anchor="end">0.0</text>
<line x1="1056" y1="1368.25" x2="1062" y2="1368.25" stroke="#2a2627" stroke-width="1.6"/>
<text x="1044.6" y="1377.55" font-size="26.3" text-anchor="end">0.5</text>
<line x1="1056" y1="1273" x2="1062" y2="1273" stroke="#2a2627" stroke-width="1.6"/>
<text x="1044.6" y="1282.3" font-size="26.3" text-anchor="end">1.0</text>
<text x="1424.5" y="1608.5" font-size="26.4" text-anchor="middle">Patient</text>
<text x="1821" y="1312.3" font-size="23.9">Stage</text>
<line x1="1830.4" y1="1328.05" x2="1830.4" y2="1356.55" stroke="#2a2627" stroke-width="2.2"/>
<rect x="1815.3" y="1333.55" width="30.2" height="17.5" fill="#6e64a3" stroke="#2a2627" stroke-width="2.2"/>
<line x1="1815.3" y1="1342.3" x2="1845.5" y2="1342.3" stroke="#2a2627" stroke-width="2.2"/>
<text x="1866.5" y="1352.2" font-size="20.9">&lt;10</text>
<line x1="1830.4" y1="1361.55" x2="1830.4" y2="1390.05" stroke="#2a2627" stroke-width="2.2"/>
<rect x="1815.3" y="1367.05" width="30.2" height="17.5" fill="#a68fd9" stroke="#2a2627" stroke-width="2.2"/>
<line x1="1815.3" y1="1375.8" x2="1845.5" y2="1375.8" stroke="#2a2627" stroke-width="2.2"/>
<text x="1863.6" y="1387.9" font-size="20.9">10−20</text>
<line x1="1830.4" y1="1394.85" x2="1830.4" y2="1423.35" stroke="#2a2627" stroke-width="2.2"/>
<rect x="1815.3" y="1400.35" width="30.2" height="17.5" fill="#c9cbf2" stroke="#2a2627" stroke-width="2.2"/>
<line x1="1815.3" y1="1409.1" x2="1845.5" y2="1409.1" stroke="#2a2627" stroke-width="2.2"/>
<text x="1866.3" y="1416.7" font-size="20.9">&gt;20</text>
</g>
</svg>
</body>
</html>
